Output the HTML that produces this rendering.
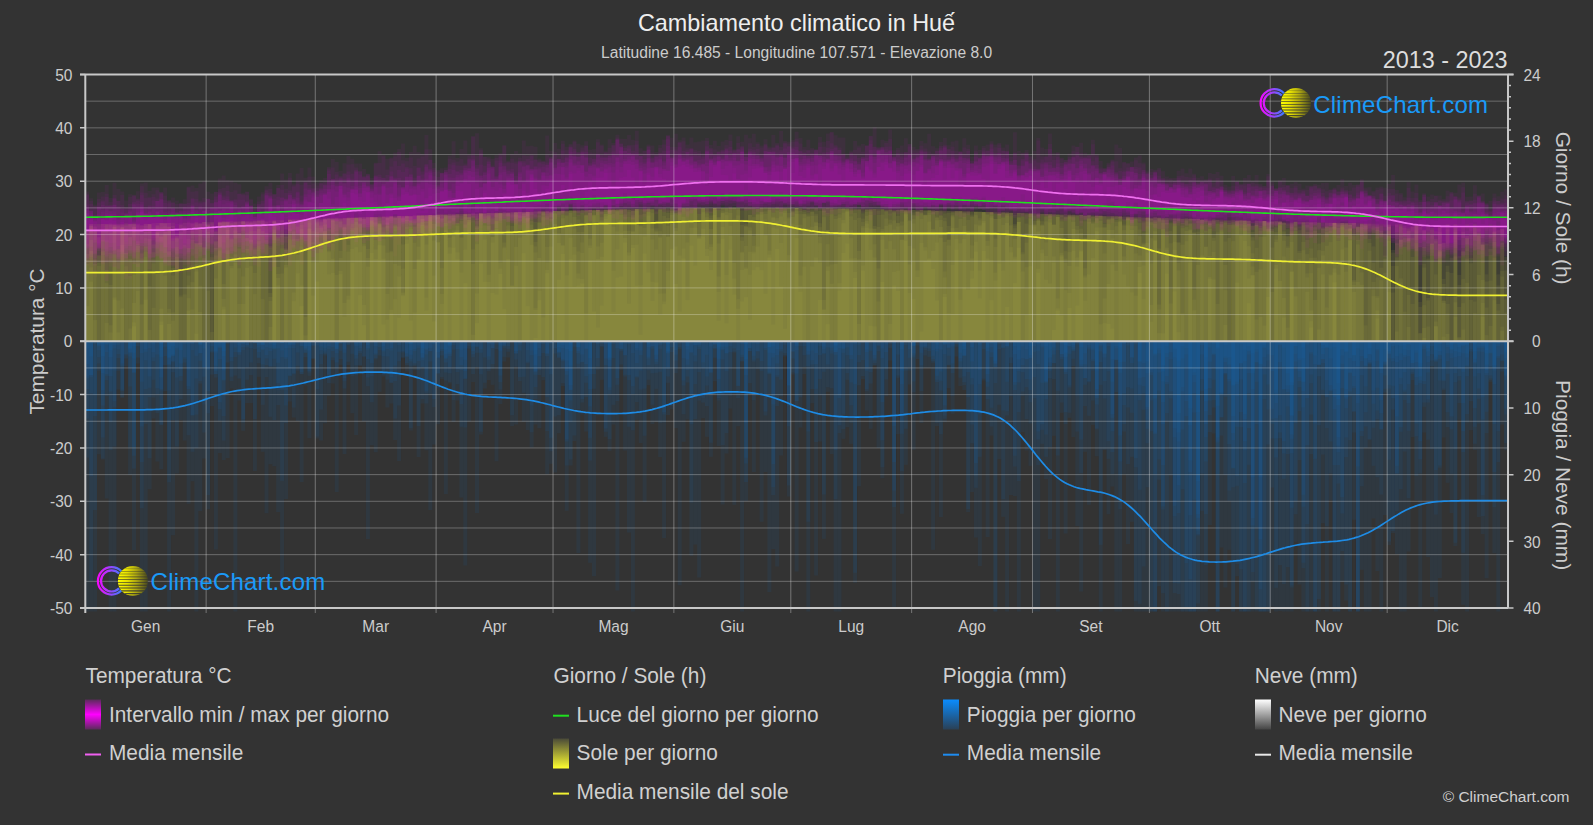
<!DOCTYPE html><html><head><meta charset="utf-8"><title>Cambiamento climatico in Huế</title><style>html,body{margin:0;padding:0;background:#333;}body{width:1593px;height:825px;overflow:hidden;font-family:"Liberation Sans",Arial,sans-serif}svg{display:block}text{font-family:"Liberation Sans",Arial,sans-serif}</style></head><body><svg width="1593" height="825" viewBox="0 0 1593 825"><rect width="1593" height="825" fill="#333"/><g fill="none" stroke-width="3.898"><path stroke="#ff00ff" stroke-opacity="0.05" d="M87.2 213.9V263.0M91.1 210.9V273.8M95.0 219.0V277.2M98.9 207.3V250.9M102.8 204.9V241.8M106.7 206.0V257.6M110.6 211.1V253.6M114.5 217.5V251.1M118.4 227.0V259.3M122.3 208.5V260.6M126.2 209.5V248.1M130.1 207.9V243.8M134.0 204.6V240.1M137.9 198.8V243.0M141.8 186.3V246.1M145.7 198.2V244.5M149.6 196.8V249.1M153.5 216.1V236.1M157.4 214.9V241.6M161.3 217.0V241.8M165.2 217.3V246.9M169.1 201.6V254.2M173.0 202.9V252.6M176.9 203.9V254.0M180.8 204.1V258.5M184.7 206.7V247.3M188.6 207.9V231.7M192.5 212.1V237.8M196.4 213.1V243.9M200.3 212.5V251.7M204.2 209.7V261.6M208.1 223.7V249.2M212.0 212.7V243.1M215.9 207.9V251.2M219.8 201.1V247.8M223.7 211.9V253.6M227.6 215.6V237.7M231.5 200.8V240.3M235.4 207.8V238.8M239.3 199.8V227.6M243.2 206.8V254.2M247.1 215.2V245.8M251.0 221.9V242.7M254.9 217.1V245.7M258.8 213.3V244.5M262.7 218.6V233.8M266.5 195.5V244.0M270.4 197.4V248.8M274.3 207.1V231.7M278.2 188.3V228.7M282.1 185.1V231.3M286.0 199.0V229.8M289.9 208.5V234.5M293.8 204.4V239.5M297.7 192.4V240.4M301.6 208.2V236.7M305.5 188.5V240.6M309.4 194.5V250.8M313.3 183.5V244.1M317.2 188.3V236.9M321.1 183.0V236.0M325.0 177.9V228.9M328.9 167.0V227.9M332.8 185.0V221.9M336.7 162.1V225.0M340.6 189.0V228.4M344.5 182.8V224.3M348.4 174.8V219.9M352.3 178.8V227.2M356.2 169.8V233.8M360.1 196.9V221.0M364.0 190.5V228.1M367.9 173.9V225.0M371.8 178.1V229.6M375.7 194.4V226.8M379.6 186.4V216.9M383.5 181.9V209.8M387.4 194.6V227.8M391.3 171.4V237.7M395.2 183.4V256.2M399.1 195.5V236.9M403.0 186.9V220.3M406.9 192.1V221.1M410.8 188.6V225.2M414.7 181.2V219.1M418.6 185.4V228.1M422.5 174.5V221.2M426.4 172.5V212.8M430.3 159.7V209.1M434.2 180.4V210.6M438.1 177.1V218.9M441.9 172.9V221.5M445.8 170.1V226.2M449.7 197.3V210.6M453.6 198.0V206.6M457.5 181.3V212.6M461.4 169.9V215.3M465.3 170.5V214.7M469.2 168.8V219.6M473.1 155.5V214.9M477.0 167.5V212.6M480.9 178.3V211.8M484.8 156.9V213.6M488.7 156.6V229.6M492.6 165.6V223.9M496.5 176.6V228.1M500.4 154.5V231.8M504.3 165.7V210.5M508.2 177.5V215.9M512.1 158.8V216.7M516.0 181.5V217.6M519.9 177.2V221.1M523.8 165.8V208.5M527.7 170.5V221.8M531.6 175.2V215.0M535.5 166.3V217.3M539.4 180.3V207.9M543.3 175.6V205.3M547.2 162.5V207.9M551.1 175.7V217.2M555.0 154.8V209.5M558.9 161.4V204.5M562.8 162.9V203.4M566.7 167.6V207.3M570.6 158.6V204.5M574.5 164.8V209.7M578.4 160.5V207.2M582.3 147.6V205.3M586.2 141.2V207.0M590.1 166.1V211.3M594.0 149.3V209.8M597.9 159.5V212.0M601.8 156.6V214.5M605.7 157.0V205.4M609.6 155.5V206.4M613.5 163.5V208.5M617.4 155.6V209.5M621.2 147.4V205.7M625.1 159.1V207.2M629.0 159.3V209.7M632.9 151.1V206.5M636.8 144.4V205.4M640.7 148.3V209.5M644.6 150.8V212.2M648.5 149.9V203.0M652.4 157.4V205.2M656.3 154.3V199.9M660.2 158.6V199.7M664.1 161.3V202.4M668.0 181.7V204.4M671.9 186.2V197.5M675.8 167.6V203.3M679.7 154.7V205.0M683.6 150.9V207.4M687.5 152.1V205.9M691.4 156.4V208.1M695.3 150.3V205.0M699.2 156.2V208.6M703.1 155.4V203.6M707.0 141.1V201.8M710.9 160.4V201.4M714.8 162.7V204.1M718.7 160.6V198.6M722.6 174.8V193.1M726.5 175.3V198.2M730.4 155.0V203.1M734.3 149.9V200.4M738.2 153.3V202.2M742.1 141.8V201.8M746.0 157.0V199.8M749.9 138.2V206.1M753.8 146.9V201.7M757.7 156.2V206.0M761.6 145.5V209.0M765.5 145.3V207.4M769.4 148.3V199.9M773.3 152.7V203.9M777.2 170.5V202.0M781.1 181.9V206.2M785.0 168.8V202.7M788.9 153.6V202.2M792.8 162.1V199.0M796.6 158.4V201.1M800.5 171.7V202.8M804.4 177.8V210.6M808.3 167.8V206.6M812.2 156.1V203.0M816.1 149.8V203.3M820.0 142.6V203.6M823.9 157.2V202.4M827.8 158.8V200.8M831.7 151.0V206.4M835.6 163.5V206.2M839.5 163.3V204.3M843.4 160.4V204.0M847.3 159.2V208.2M851.2 150.4V214.1M855.1 150.1V208.7M859.0 157.9V204.5M862.9 178.9V198.9M866.8 161.1V200.7M870.7 150.3V206.3M874.6 149.4V204.4M878.5 150.3V205.4M882.4 150.0V208.0M886.3 142.9V212.1M890.2 155.0V215.6M894.1 157.1V213.2M898.0 166.6V211.1M901.9 164.3V208.3M905.8 168.7V207.0M909.7 170.9V205.7M913.6 182.6V198.9M917.5 171.3V202.7M921.4 155.6V199.5M925.3 184.4V205.7M929.2 159.8V208.6M933.1 159.5V209.3M937.0 165.2V214.4M940.9 159.2V204.3M944.8 161.2V204.4M948.7 160.6V202.8M952.6 146.8V198.3M956.5 151.2V200.7M960.4 151.7V197.6M964.3 157.7V210.6M968.2 159.9V203.9M972.1 167.7V204.1M975.9 164.5V207.3M979.8 168.9V202.9M983.7 153.7V204.7M987.6 158.6V208.2M991.5 152.4V214.7M995.4 144.4V204.2M999.3 143.0V215.4M1003.2 158.0V211.0M1007.1 144.4V203.2M1011.0 170.2V202.9M1014.9 153.3V207.8M1018.8 181.0V209.0M1022.7 180.5V211.2M1026.6 173.1V209.0M1030.5 175.5V209.4M1034.4 189.8V214.7M1038.3 191.7V218.4M1042.2 177.1V209.4M1046.1 188.0V215.3M1050.0 172.3V217.9M1053.9 160.1V204.1M1057.8 152.3V211.2M1061.7 158.6V217.0M1065.6 164.6V218.5M1069.5 170.9V211.5M1073.4 145.5V214.8M1077.3 146.9V213.8M1081.2 152.9V223.2M1085.1 158.6V220.3M1089.0 154.7V215.8M1092.9 180.1V213.6M1096.8 167.7V205.9M1100.7 174.6V206.6M1104.6 193.7V222.7M1108.5 172.8V225.1M1112.4 179.3V223.0M1116.3 172.1V219.2M1120.2 179.2V215.9M1124.1 180.1V211.5M1128.0 163.8V220.8M1131.9 167.2V228.5M1135.8 169.0V217.6M1139.7 186.2V221.4M1143.6 175.6V230.7M1147.5 183.0V228.4M1151.4 178.8V224.9M1155.2 188.2V227.6M1159.1 183.4V229.0M1163.0 180.3V217.8M1166.9 192.9V224.3M1170.8 187.5V219.7M1174.7 193.0V218.0M1178.6 182.4V220.6M1182.5 183.0V206.0M1186.4 185.5V220.6M1190.3 168.6V204.7M1194.2 173.8V217.8M1198.1 183.8V220.3M1202.0 181.3V218.2M1205.9 183.6V212.3M1209.8 178.4V211.8M1213.7 189.9V217.9M1217.6 178.0V220.9M1221.5 186.8V213.3M1225.4 190.5V207.4M1229.3 194.5V216.9M1233.2 194.0V211.2M1237.1 180.7V212.3M1241.0 184.4V214.9M1244.9 193.8V224.5M1248.8 193.2V230.5M1252.7 190.7V223.3M1256.6 185.4V239.6M1260.5 190.5V233.9M1264.4 190.2V225.6M1268.3 174.0V234.6M1272.2 184.2V218.7M1276.1 188.1V210.7M1280.0 198.0V224.0M1283.9 190.3V224.8M1287.8 195.0V225.4M1291.7 183.8V228.6M1295.6 182.1V229.9M1299.5 183.7V224.4M1303.4 192.4V214.1M1307.3 195.8V219.2M1311.2 197.8V221.6M1315.1 196.0V222.7M1319.0 197.8V228.6M1322.9 199.8V223.1M1326.8 197.1V227.6M1330.6 196.5V233.2M1334.5 198.3V225.4M1338.4 191.6V238.0M1342.3 187.5V235.6M1346.2 195.2V233.9M1350.1 182.8V231.5M1354.0 187.4V240.0M1357.9 184.6V240.7M1361.8 179.3V236.1M1365.7 197.4V229.1M1369.6 194.8V231.0M1373.5 191.0V233.1M1377.4 187.4V239.3M1381.3 188.5V237.0M1385.2 187.8V256.9M1389.1 205.0V242.5M1393.0 210.4V233.2M1396.9 202.6V236.5M1400.8 217.8V246.0M1404.7 215.0V233.3M1408.6 211.1V243.1M1412.5 205.2V232.3M1416.4 198.3V240.0M1420.3 199.9V248.2M1424.2 209.0V248.0M1428.1 214.7V251.9M1432.0 207.1V249.8M1435.9 201.9V243.3M1439.8 201.0V246.3M1443.7 202.4V249.5M1447.6 203.3V247.5M1451.5 215.4V243.1M1455.4 210.9V244.2M1459.3 202.5V240.2M1463.2 213.0V237.9M1467.1 206.2V239.2M1471.0 200.7V236.3M1474.9 185.2V240.6M1478.8 196.1V233.5M1482.7 203.0V236.0M1486.6 213.9V233.7M1490.5 218.4V241.1M1494.4 224.8V254.8M1498.3 229.3V253.7M1502.2 212.2V249.1M1506.1 209.2V244.1"/><path stroke="#c4c446" stroke-opacity="0.082" d="M87.2 341.2V263.9M91.1 341.2V224.1M95.0 341.2V320.2M102.8 341.2V234.3M106.7 341.2V270.2M114.5 341.2V224.2M118.4 341.2V332.5M122.3 341.2V308.4M126.2 341.2V266.4M130.1 341.2V232.3M134.0 341.2V227.0M137.9 341.2V241.3M141.8 341.2V258.4M145.7 341.2V238.2M149.6 341.2V286.2M153.5 341.2V263.5M157.4 341.2V227.7M161.3 341.2V235.5M173.0 341.2V240.9M184.7 341.2V226.5M188.6 341.2V310.7M192.5 341.2V222.8M196.4 341.2V242.9M200.3 341.2V223.6M204.2 341.2V222.1M208.1 341.2V225.2M219.8 341.2V236.6M223.7 341.2V235.3M227.6 341.2V250.2M235.4 341.2V221.7M243.2 341.2V222.1M247.1 341.2V260.7M251.0 341.2V222.7M254.9 341.2V221.2M258.8 341.2V220.7M262.7 341.2V220.5M270.4 341.2V247.5M274.3 341.2V256.0M278.2 341.2V267.0M282.1 341.2V230.4M286.0 341.2V248.4M293.8 341.2V292.6M297.7 341.2V239.1M301.6 341.2V246.4M305.5 341.2V239.6M309.4 341.2V219.2M313.3 341.2V219.1M317.2 341.2V281.6M321.1 341.2V242.4M325.0 341.2V218.9M328.9 341.2V218.4M332.8 341.2V243.8M336.7 341.2V224.7M340.6 341.2V257.9M344.5 341.2V238.7M348.4 341.2V218.0M352.3 341.2V217.7M356.2 341.2V247.2M360.1 341.2V217.4M364.0 341.2V217.3M367.9 341.2V266.8M371.8 341.2V217.0M375.7 341.2V222.3M379.6 341.2V217.5M383.5 341.2V216.7M387.4 341.2V319.8M391.3 341.2V216.4M395.2 341.2V224.2M399.1 341.2V265.8M403.0 341.2V216.0M406.9 341.2V239.8M410.8 341.2V236.2M414.7 341.2V221.5M418.6 341.2V259.3M422.5 341.2V215.3M426.4 341.2V216.2M430.3 341.2V220.2M434.2 341.2V215.1M441.9 341.2V214.6M445.8 341.2V223.0M449.7 341.2V214.5M453.6 341.2V230.5M457.5 341.2V214.1M465.3 341.2V283.2M473.1 341.2V213.6M477.0 341.2V293.4M480.9 341.2V213.3M484.8 341.2V213.2M488.7 341.2V214.9M492.6 341.2V237.3M496.5 341.2V294.8M500.4 341.2V213.2M504.3 341.2V309.2M508.2 341.2V225.5M512.1 341.2V232.3M516.0 341.2V212.2M519.9 341.2V237.7M523.8 341.2V212.0M527.7 341.2V212.0M535.5 341.2V214.4M539.4 341.2V211.6M543.3 341.2V229.7M547.2 341.2V215.7M551.1 341.2V211.5M558.9 341.2V210.9M562.8 341.2V210.8M566.7 341.2V210.7M570.6 341.2V210.6M574.5 341.2V210.5M578.4 341.2V215.3M582.3 341.2V283.6M586.2 341.2V210.2M590.1 341.2V245.4M594.0 341.2V210.0M597.9 341.2V209.9M601.8 341.2V212.0M605.7 341.2V214.0M609.6 341.2V209.6M613.5 341.2V209.5M617.4 341.2V209.4M621.2 341.2V276.7M625.1 341.2V216.8M629.0 341.2V231.1M632.9 341.2V210.3M636.8 341.2V209.0M640.7 341.2V209.5M644.6 341.2V208.9M648.5 341.2V209.3M652.4 341.2V208.9M656.3 341.2V230.7M660.2 341.2V208.7M664.1 341.2V208.5M668.0 341.2V289.2M671.9 341.2V208.4M675.8 341.2V210.5M679.7 341.2V208.3M683.6 341.2V208.2M687.5 341.2V208.2M691.4 341.2V208.2M695.3 341.2V208.7M699.2 341.2V208.1M703.1 341.2V236.5M707.0 341.2V208.7M710.9 341.2V208.0M714.8 341.2V208.2M718.7 341.2V217.0M722.6 341.2V208.6M726.5 341.2V207.9M730.4 341.2V207.9M734.3 341.2V207.8M738.2 341.2V299.3M742.1 341.2V301.6M746.0 341.2V297.3M749.9 341.2V215.1M753.8 341.2V270.3M757.7 341.2V209.1M761.6 341.2V207.9M765.5 341.2V235.4M769.4 341.2V207.8M773.3 341.2V212.7M777.2 341.2V218.3M781.1 341.2V207.8M785.0 341.2V207.9M788.9 341.2V208.0M792.8 341.2V207.9M796.6 341.2V211.3M800.5 341.2V209.0M804.4 341.2V211.7M820.0 341.2V237.0M823.9 341.2V208.2M827.8 341.2V208.3M831.7 341.2V209.0M839.5 341.2V214.4M843.4 341.2V253.0M847.3 341.2V209.0M855.1 341.2V272.1M859.0 341.2V210.0M862.9 341.2V270.7M866.8 341.2V209.3M870.7 341.2V210.4M874.6 341.2V209.1M878.5 341.2V227.0M882.4 341.2V214.7M890.2 341.2V213.6M894.1 341.2V211.5M898.0 341.2V223.1M905.8 341.2V214.4M909.7 341.2V221.3M913.6 341.2V212.4M917.5 341.2V215.8M921.4 341.2V212.2M925.3 341.2V214.9M929.2 341.2V210.3M933.1 341.2V230.6M937.0 341.2V210.8M940.9 341.2V210.6M944.8 341.2V211.4M948.7 341.2V213.1M952.6 341.2V228.2M956.5 341.2V211.1M960.4 341.2V219.1M964.3 341.2V211.9M968.2 341.2V220.0M972.1 341.2V212.0M975.9 341.2V211.7M979.8 341.2V211.8M983.7 341.2V211.9M987.6 341.2V212.0M991.5 341.2V212.2M995.4 341.2V214.1M999.3 341.2V213.5M1007.1 341.2V230.3M1011.0 341.2V234.3M1014.9 341.2V232.5M1018.8 341.2V221.9M1022.7 341.2V213.1M1026.6 341.2V233.0M1030.5 341.2V234.2M1034.4 341.2V221.1M1038.3 341.2V220.7M1042.2 341.2V213.8M1046.1 341.2V221.6M1050.0 341.2V214.0M1053.9 341.2V330.1M1057.8 341.2V216.9M1061.7 341.2V214.8M1065.6 341.2V214.6M1069.5 341.2V252.2M1073.4 341.2V214.8M1077.3 341.2V233.6M1081.2 341.2V215.1M1085.1 341.2V277.4M1089.0 341.2V235.0M1092.9 341.2V215.7M1096.8 341.2V231.2M1104.6 341.2V216.2M1108.5 341.2V224.6M1112.4 341.2V219.1M1116.3 341.2V216.3M1124.1 341.2V219.0M1128.0 341.2V217.2M1131.9 341.2V217.4M1135.8 341.2V218.1M1139.7 341.2V261.0M1143.6 341.2V217.7M1147.5 341.2V221.5M1151.4 341.2V218.1M1155.2 341.2V222.3M1159.1 341.2V217.7M1166.9 341.2V247.7M1170.8 341.2V231.2M1174.7 341.2V218.6M1178.6 341.2V242.1M1182.5 341.2V223.1M1190.3 341.2V218.8M1194.2 341.2V299.8M1198.1 341.2V231.7M1205.9 341.2V219.9M1209.8 341.2V277.3M1213.7 341.2V220.1M1221.5 341.2V224.6M1225.4 341.2V221.2M1229.3 341.2V224.9M1233.2 341.2V241.3M1237.1 341.2V225.6M1241.0 341.2V221.0M1244.9 341.2V220.4M1248.8 341.2V221.6M1252.7 341.2V222.3M1256.6 341.2V225.1M1260.5 341.2V258.8M1264.4 341.2V325.7M1268.3 341.2V229.5M1272.2 341.2V229.1M1276.1 341.2V235.6M1280.0 341.2V222.7M1283.9 341.2V256.5M1291.7 341.2V272.1M1295.6 341.2V231.3M1299.5 341.2V262.3M1303.4 341.2V222.0M1307.3 341.2V277.6M1311.2 341.2V310.4M1315.1 341.2V224.4M1319.0 341.2V250.3M1322.9 341.2V227.4M1330.6 341.2V275.5M1334.5 341.2V268.5M1342.3 341.2V223.3M1346.2 341.2V271.7M1350.1 341.2V228.9M1361.8 341.2V224.2M1373.5 341.2V246.6M1377.4 341.2V318.4M1381.3 341.2V275.6M1389.1 341.2V292.3M1396.9 341.2V224.7M1404.7 341.2V238.6M1420.3 341.2V333.5M1424.2 341.2V305.2M1432.0 341.2V235.3M1435.9 341.2V274.4M1439.8 341.2V232.2M1463.2 341.2V279.2M1474.9 341.2V232.5M1478.8 341.2V233.8M1486.6 341.2V274.6M1494.4 341.2V242.1M1502.2 341.2V326.8M1506.1 341.2V312.7"/><path stroke="#ff00ff" stroke-opacity="0.05" d="M87.2 195.3V244.0M91.1 212.8V231.6M95.0 225.7V242.7M98.9 218.4V248.4M102.8 219.0V240.9M106.7 213.2V261.8M110.6 204.8V266.6M114.5 182.8V267.3M118.4 206.7V272.3M122.3 216.6V262.0M126.2 212.7V254.5M130.1 223.1V253.3M134.0 222.0V252.7M137.9 203.8V244.9M141.8 206.3V239.8M145.7 207.3V235.8M149.6 197.9V244.8M153.5 217.6V248.0M157.4 211.6V238.0M161.3 210.0V241.4M165.2 206.4V235.9M169.1 215.5V247.2M173.0 215.1V249.4M176.9 211.9V255.1M180.8 202.8V252.9M184.7 211.0V248.1M188.6 203.1V252.4M192.5 223.2V235.3M196.4 210.5V253.8M200.3 200.7V244.3M204.2 210.8V254.7M208.1 210.1V248.8M212.0 207.0V254.1M215.9 202.5V249.8M219.8 191.6V247.5M223.7 195.4V253.1M227.6 201.0V259.1M231.5 203.4V258.0M235.4 200.2V251.5M239.3 193.7V241.9M243.2 195.3V230.8M247.1 203.6V251.4M251.0 205.7V244.5M254.9 211.0V248.3M258.8 214.4V246.3M262.7 212.4V242.8M266.5 212.1V237.3M270.4 199.1V237.4M274.3 211.1V240.7M278.2 204.9V229.8M282.1 213.6V234.1M286.0 198.5V238.2M289.9 195.3V231.1M293.8 183.5V244.8M297.7 184.3V249.7M301.6 200.4V233.3M305.5 197.0V237.2M309.4 201.9V250.7M313.3 202.9V237.4M317.2 208.4V227.3M321.1 202.9V236.5M325.0 195.1V244.4M328.9 189.2V238.8M332.8 159.0V232.6M336.7 174.6V236.1M340.6 179.3V239.8M344.5 183.5V231.1M348.4 187.5V226.6M352.3 189.9V239.2M356.2 186.6V242.0M360.1 188.0V237.7M364.0 177.0V237.7M367.9 175.3V231.7M371.8 190.6V226.5M375.7 187.3V214.5M379.6 181.7V219.0M383.5 186.2V217.2M387.4 187.8V233.6M391.3 186.8V235.6M395.2 177.4V224.4M399.1 178.0V236.0M403.0 187.0V222.4M406.9 185.2V220.9M410.8 168.3V222.7M414.7 186.5V225.1M418.6 175.5V232.9M422.5 180.8V235.9M426.4 135.0V233.3M430.3 149.2V230.9M434.2 163.0V218.8M438.1 171.4V226.7M441.9 192.0V227.7M445.8 189.9V234.7M449.7 158.8V226.1M453.6 162.5V222.6M457.5 171.7V214.2M461.4 172.8V205.0M465.3 172.6V208.4M469.2 183.9V218.0M473.1 177.1V216.5M477.0 169.0V215.3M480.9 187.8V216.6M484.8 182.9V223.0M488.7 209.1V218.0M492.6 210.0V224.3M496.5 181.5V221.0M500.4 162.7V220.6M504.3 146.0V233.2M508.2 173.7V221.4M512.1 173.6V206.8M516.0 176.2V213.5M519.9 161.5V218.0M523.8 162.4V211.5M527.7 165.3V220.4M531.6 160.7V217.3M535.5 169.9V214.3M539.4 158.4V216.8M543.3 166.8V215.1M547.2 155.0V217.9M551.1 158.7V217.6M555.0 159.7V210.8M558.9 174.1V214.7M562.8 185.0V214.9M566.7 190.2V215.2M570.6 171.5V209.4M574.5 188.6V210.5M578.4 161.7V213.0M582.3 165.0V208.7M586.2 176.5V217.0M590.1 165.5V220.4M594.0 175.5V212.3M597.9 167.9V201.3M601.8 167.0V206.1M605.7 152.3V204.9M609.6 147.9V211.8M613.5 145.3V208.6M617.4 157.5V206.7M621.2 147.0V204.0M625.1 154.5V208.4M629.0 156.4V199.0M632.9 154.2V206.7M636.8 154.6V199.9M640.7 170.2V207.6M644.6 158.9V203.4M648.5 174.4V198.9M652.4 162.4V193.1M656.3 161.4V199.8M660.2 159.4V209.3M664.1 169.2V203.6M668.0 154.3V207.0M671.9 157.4V210.0M675.8 149.6V209.4M679.7 160.0V210.1M683.6 164.9V204.0M687.5 160.0V203.1M691.4 148.8V200.7M695.3 164.2V198.8M699.2 165.1V202.4M703.1 164.8V200.1M707.0 162.5V197.2M710.9 162.9V193.4M714.8 149.5V197.5M718.7 146.1V201.1M722.6 150.4V205.2M726.5 145.3V205.3M730.4 141.1V204.0M734.3 153.5V202.4M738.2 160.7V207.3M742.1 151.8V206.4M746.0 134.8V205.3M749.9 165.8V206.1M753.8 166.0V206.7M757.7 153.8V203.6M761.6 161.7V206.8M765.5 151.0V203.4M769.4 151.4V207.1M773.3 164.7V204.6M777.2 164.5V208.0M781.1 157.1V201.8M785.0 164.7V200.4M788.9 155.5V197.7M792.8 153.4V204.0M796.6 157.9V209.0M800.5 154.2V211.5M804.4 158.9V209.1M808.3 156.3V203.4M812.2 165.8V201.9M816.1 149.4V201.3M820.0 156.0V207.7M823.9 146.7V202.9M827.8 133.5V201.7M831.7 131.9V205.6M835.6 145.2V214.6M839.5 150.3V213.0M843.4 154.6V209.8M847.3 153.6V202.3M851.2 163.2V203.3M855.1 176.6V204.8M859.0 164.6V199.7M862.9 161.0V197.3M866.8 146.1V200.3M870.7 136.2V200.9M874.6 159.3V199.0M878.5 166.9V205.0M882.4 155.8V204.0M886.3 146.7V206.5M890.2 151.4V209.6M894.1 154.4V206.1M898.0 172.7V202.2M901.9 145.4V197.6M905.8 158.1V199.2M909.7 153.4V198.7M913.6 153.0V203.1M917.5 163.7V210.0M921.4 153.7V210.4M925.3 143.3V207.0M929.2 151.5V208.8M933.1 153.9V200.9M937.0 150.6V199.4M940.9 146.1V203.6M944.8 144.8V199.0M948.7 159.7V200.5M952.6 167.6V197.7M956.5 168.1V202.7M960.4 187.3V201.9M964.3 184.8V205.0M968.2 173.7V205.7M972.1 172.3V202.1M975.9 173.1V197.6M979.8 158.4V201.7M983.7 155.9V203.1M987.6 150.5V208.1M991.5 156.6V208.2M995.4 162.0V205.8M999.3 168.8V211.0M1003.2 162.6V210.7M1007.1 177.8V213.2M1011.0 177.5V209.8M1014.9 164.7V205.5M1018.8 156.3V205.6M1022.7 160.5V208.1M1026.6 172.6V212.4M1030.5 163.8V217.2M1034.4 171.3V213.3M1038.3 170.0V205.4M1042.2 177.1V208.8M1046.1 156.3V209.9M1050.0 149.1V212.1M1053.9 166.4V216.2M1057.8 178.0V209.1M1061.7 174.2V207.0M1065.6 166.4V215.5M1069.5 157.1V218.8M1073.4 164.1V209.3M1077.3 178.1V214.2M1081.2 171.7V213.1M1085.1 168.7V216.8M1089.0 183.7V212.8M1092.9 179.5V215.7M1096.8 177.8V216.4M1100.7 183.0V219.1M1104.6 175.3V207.0M1108.5 164.4V197.9M1112.4 159.6V204.0M1116.3 173.8V205.2M1120.2 178.6V206.3M1124.1 170.6V209.6M1128.0 175.5V211.9M1131.9 178.6V214.5M1135.8 160.3V210.6M1139.7 189.3V218.6M1143.6 189.1V221.0M1147.5 190.9V214.8M1151.4 186.5V222.7M1155.2 172.7V211.2M1159.1 179.4V215.5M1163.0 184.1V215.4M1166.9 183.9V209.4M1170.8 187.2V213.9M1174.7 184.8V215.4M1178.6 170.7V220.2M1182.5 183.7V216.6M1186.4 187.4V213.8M1190.3 188.5V221.4M1194.2 201.1V216.5M1198.1 191.6V212.2M1202.0 190.8V213.0M1205.9 201.4V220.4M1209.8 197.0V214.5M1213.7 192.3V209.0M1217.6 196.1V217.0M1221.5 186.6V228.8M1225.4 191.6V228.2M1229.3 199.3V223.8M1233.2 190.1V214.3M1237.1 190.9V210.2M1241.0 189.9V211.2M1244.9 199.5V219.5M1248.8 203.1V215.7M1252.7 203.0V218.4M1256.6 198.2V225.9M1260.5 195.9V234.4M1264.4 186.2V222.3M1268.3 180.6V232.1M1272.2 186.1V220.0M1276.1 190.3V208.0M1280.0 181.2V215.6M1283.9 187.3V224.8M1287.8 185.1V228.4M1291.7 192.7V230.6M1295.6 194.4V225.3M1299.5 196.3V218.9M1303.4 199.7V226.6M1307.3 195.4V227.9M1311.2 200.1V230.6M1315.1 198.4V220.8M1319.0 194.6V217.0M1322.9 183.0V226.5M1326.8 200.3V227.9M1330.6 197.6V225.8M1334.5 192.9V237.0M1338.4 196.5V234.9M1342.3 191.2V229.8M1346.2 190.7V237.1M1350.1 190.8V230.8M1354.0 196.3V229.0M1357.9 198.0V232.3M1361.8 199.2V224.0M1365.7 204.7V233.2M1369.6 200.6V229.3M1373.5 206.6V232.5M1377.4 209.2V225.4M1381.3 213.9V235.4M1385.2 200.5V231.4M1389.1 205.0V229.8M1393.0 209.8V225.7M1396.9 201.1V220.6M1400.8 205.3V241.7M1404.7 202.4V242.1M1408.6 204.8V250.3M1412.5 202.3V239.1M1416.4 202.4V230.6M1420.3 219.8V239.5M1424.2 202.0V239.9M1428.1 196.5V231.8M1432.0 212.1V236.6M1435.9 202.5V241.7M1439.8 206.0V256.4M1443.7 205.3V256.3M1447.6 196.2V242.7M1451.5 193.8V255.5M1455.4 192.7V248.0M1459.3 184.5V244.8M1463.2 187.2V245.0M1467.1 201.3V238.7M1471.0 213.3V247.9M1474.9 203.6V235.4M1478.8 217.7V243.7M1482.7 214.6V236.3M1486.6 213.2V245.4M1490.5 215.0V243.1M1494.4 200.5V246.8M1498.3 201.0V232.5M1502.2 205.3V247.1M1506.1 199.1V251.2"/><path stroke="#c4c446" stroke-opacity="0.082" d="M87.2 341.2V306.2M91.1 341.2V267.5M95.0 341.2V270.7M98.9 341.2V237.3M106.7 341.2V240.4M110.6 341.2V285.1M114.5 341.2V266.8M118.4 341.2V224.8M122.3 341.2V227.6M130.1 341.2V259.1M134.0 341.2V224.4M137.9 341.2V243.8M141.8 341.2V253.6M145.7 341.2V271.1M153.5 341.2V223.2M157.4 341.2V225.4M161.3 341.2V227.4M165.2 341.2V275.7M169.1 341.2V223.0M173.0 341.2V275.5M176.9 341.2V236.5M188.6 341.2V239.1M192.5 341.2V282.3M196.4 341.2V333.7M200.3 341.2V285.7M208.1 341.2V225.1M212.0 341.2V257.2M219.8 341.2V222.7M223.7 341.2V221.8M227.6 341.2V228.1M231.5 341.2V265.9M235.4 341.2V224.8M239.3 341.2V222.0M243.2 341.2V276.5M247.1 341.2V285.7M251.0 341.2V266.2M254.9 341.2V294.3M262.7 341.2V235.2M270.4 341.2V327.1M274.3 341.2V221.4M278.2 341.2V222.4M282.1 341.2V235.4M286.0 341.2V267.4M289.9 341.2V219.7M293.8 341.2V231.6M297.7 341.2V222.4M301.6 341.2V220.5M305.5 341.2V335.4M309.4 341.2V219.1M313.3 341.2V295.4M317.2 341.2V232.2M321.1 341.2V242.2M325.0 341.2V218.6M328.9 341.2V218.4M332.8 341.2V258.7M340.6 341.2V240.2M344.5 341.2V227.3M348.4 341.2V244.7M352.3 341.2V249.0M360.1 341.2V218.5M364.0 341.2V219.1M367.9 341.2V218.1M371.8 341.2V217.8M375.7 341.2V217.6M379.6 341.2V224.2M383.5 341.2V220.3M387.4 341.2V216.5M391.3 341.2V309.8M395.2 341.2V216.6M399.1 341.2V317.8M403.0 341.2V217.0M406.9 341.2V215.8M410.8 341.2V216.1M414.7 341.2V215.6M418.6 341.2V215.4M422.5 341.2V218.7M426.4 341.2V215.6M430.3 341.2V216.4M434.2 341.2V215.7M438.1 341.2V214.7M441.9 341.2V218.1M445.8 341.2V214.8M449.7 341.2V215.9M453.6 341.2V247.7M457.5 341.2V223.0M461.4 341.2V214.2M465.3 341.2V213.8M469.2 341.2V213.8M473.1 341.2V264.0M477.0 341.2V220.7M480.9 341.2V213.4M484.8 341.2V213.2M488.7 341.2V213.5M492.6 341.2V213.5M496.5 341.2V220.6M500.4 341.2V213.7M504.3 341.2V248.3M508.2 341.2V213.0M512.1 341.2V214.5M516.0 341.2V212.2M523.8 341.2V212.0M527.7 341.2V218.3M531.6 341.2V230.8M535.5 341.2V242.0M539.4 341.2V222.9M543.3 341.2V211.7M547.2 341.2V270.1M551.1 341.2V234.3M555.0 341.2V211.0M558.9 341.2V210.9M562.8 341.2V254.0M566.7 341.2V210.7M570.6 341.2V211.3M574.5 341.2V210.5M578.4 341.2V232.3M582.3 341.2V242.6M590.1 341.2V260.7M594.0 341.2V210.4M597.9 341.2V212.1M601.8 341.2V256.7M605.7 341.2V210.3M609.6 341.2V209.6M613.5 341.2V210.5M617.4 341.2V209.6M621.2 341.2V209.4M625.1 341.2V230.8M629.0 341.2V217.0M632.9 341.2V245.0M636.8 341.2V211.0M640.7 341.2V226.6M644.6 341.2V209.3M648.5 341.2V212.3M652.4 341.2V209.1M656.3 341.2V232.3M660.2 341.2V209.4M664.1 341.2V208.5M668.0 341.2V208.9M671.9 341.2V212.8M675.8 341.2V210.4M679.7 341.2V208.4M683.6 341.2V258.4M687.5 341.2V208.2M691.4 341.2V209.8M695.3 341.2V208.1M699.2 341.2V236.5M703.1 341.2V208.0M707.0 341.2V217.3M710.9 341.2V250.4M714.8 341.2V207.9M718.7 341.2V207.9M722.6 341.2V207.9M726.5 341.2V207.9M730.4 341.2V213.1M734.3 341.2V207.8M738.2 341.2V208.3M742.1 341.2V237.2M746.0 341.2V269.1M749.9 341.2V215.1M753.8 341.2V207.8M757.7 341.2V214.9M761.6 341.2V270.2M765.5 341.2V208.6M769.4 341.2V208.1M773.3 341.2V208.5M777.2 341.2V208.3M781.1 341.2V212.0M785.0 341.2V210.9M788.9 341.2V208.0M792.8 341.2V208.1M796.6 341.2V208.2M800.5 341.2V291.8M804.4 341.2V218.3M808.3 341.2V208.1M812.2 341.2V216.1M816.1 341.2V215.7M820.0 341.2V243.2M823.9 341.2V309.9M827.8 341.2V270.7M831.7 341.2V283.8M835.6 341.2V216.2M839.5 341.2V208.6M843.4 341.2V208.7M847.3 341.2V211.3M851.2 341.2V238.2M855.1 341.2V209.6M859.0 341.2V251.0M862.9 341.2V227.8M866.8 341.2V211.7M870.7 341.2V215.0M874.6 341.2V257.4M882.4 341.2V209.3M886.3 341.2V209.5M890.2 341.2V241.2M894.1 341.2V209.7M898.0 341.2V226.4M901.9 341.2V209.6M905.8 341.2V209.7M909.7 341.2V209.8M913.6 341.2V261.7M917.5 341.2V210.3M921.4 341.2V242.9M925.3 341.2V210.3M929.2 341.2V259.5M933.1 341.2V269.1M937.0 341.2V235.1M940.9 341.2V215.8M944.8 341.2V213.5M948.7 341.2V211.6M952.6 341.2V264.9M956.5 341.2V227.8M960.4 341.2V211.2M964.3 341.2V239.0M968.2 341.2V231.0M972.1 341.2V217.1M975.9 341.2V211.7M979.8 341.2V211.8M983.7 341.2V222.7M987.6 341.2V240.9M991.5 341.2V212.4M995.4 341.2V238.6M999.3 341.2V212.4M1003.2 341.2V270.8M1007.1 341.2V212.8M1011.0 341.2V225.5M1014.9 341.2V283.2M1018.8 341.2V213.0M1022.7 341.2V216.4M1026.6 341.2V213.3M1030.5 341.2V213.4M1034.4 341.2V213.5M1038.3 341.2V268.8M1042.2 341.2V221.2M1046.1 341.2V256.0M1050.0 341.2V222.4M1053.9 341.2V224.6M1057.8 341.2V217.1M1061.7 341.2V252.7M1065.6 341.2V262.7M1069.5 341.2V214.7M1073.4 341.2V250.7M1077.3 341.2V266.6M1081.2 341.2V250.6M1085.1 341.2V237.7M1089.0 341.2V215.3M1092.9 341.2V217.2M1096.8 341.2V215.6M1100.7 341.2V215.8M1104.6 341.2V226.9M1108.5 341.2V216.0M1112.4 341.2V216.1M1116.3 341.2V270.8M1120.2 341.2V222.2M1124.1 341.2V219.8M1128.0 341.2V225.5M1131.9 341.2V217.0M1135.8 341.2V216.9M1139.7 341.2V217.6M1143.6 341.2V243.9M1147.5 341.2V217.4M1151.4 341.2V219.1M1155.2 341.2V217.6M1159.1 341.2V333.3M1163.0 341.2V218.5M1166.9 341.2V235.6M1170.8 341.2V218.1M1174.7 341.2V226.3M1178.6 341.2V218.4M1182.5 341.2V218.5M1190.3 341.2V218.8M1194.2 341.2V219.1M1202.0 341.2V219.9M1205.9 341.2V224.5M1213.7 341.2V251.9M1217.6 341.2V304.0M1221.5 341.2V229.4M1225.4 341.2V220.5M1233.2 341.2V224.2M1237.1 341.2V223.5M1244.9 341.2V220.8M1248.8 341.2V220.6M1252.7 341.2V232.0M1256.6 341.2V319.5M1264.4 341.2V221.2M1268.3 341.2V222.3M1272.2 341.2V221.2M1276.1 341.2V265.1M1280.0 341.2V221.8M1283.9 341.2V222.7M1287.8 341.2V236.4M1291.7 341.2V233.0M1295.6 341.2V227.6M1299.5 341.2V222.0M1307.3 341.2V273.4M1311.2 341.2V222.5M1319.0 341.2V222.4M1322.9 341.2V227.4M1326.8 341.2V226.9M1330.6 341.2V227.5M1334.5 341.2V272.6M1338.4 341.2V223.5M1342.3 341.2V226.8M1346.2 341.2V224.8M1350.1 341.2V240.5M1354.0 341.2V284.9M1357.9 341.2V223.2M1361.8 341.2V284.7M1365.7 341.2V223.7M1369.6 341.2V239.1M1373.5 341.2V289.6M1377.4 341.2V223.7M1381.3 341.2V280.2M1389.1 341.2V226.8M1396.9 341.2V223.8M1408.6 341.2V231.1M1416.4 341.2V243.1M1424.2 341.2V247.0M1435.9 341.2V241.3M1439.8 341.2V244.1M1443.7 341.2V279.1M1447.6 341.2V229.6M1455.4 341.2V224.5M1459.3 341.2V285.0M1463.2 341.2V231.8M1467.1 341.2V258.7M1478.8 341.2V228.2M1482.7 341.2V242.2M1494.4 341.2V340.2M1502.2 341.2V243.1"/><path stroke="#ff00ff" stroke-opacity="0.05" d="M87.2 193.8V239.6M91.1 201.1V254.8M95.0 206.6V254.3M98.9 218.0V249.1M102.8 215.2V270.0M106.7 208.5V254.4M110.6 197.9V247.0M114.5 194.9V242.6M118.4 189.1V234.8M122.3 195.1V252.0M126.2 207.5V244.0M130.1 210.5V229.0M134.0 196.2V259.1M137.9 201.0V258.5M141.8 192.4V249.3M145.7 213.5V256.5M149.6 214.7V269.3M153.5 217.9V257.9M157.4 210.5V253.3M161.3 215.7V258.5M165.2 222.8V252.9M169.1 215.6V244.5M173.0 230.9V239.5M176.9 224.0V241.7M180.8 211.6V256.4M184.7 218.9V255.9M188.6 212.9V271.9M192.5 216.9V269.6M196.4 214.1V258.0M200.3 207.3V248.9M204.2 201.7V248.8M208.1 198.9V248.5M212.0 208.0V264.3M215.9 191.8V266.4M219.8 194.3V266.2M223.7 204.3V261.3M227.6 190.9V258.8M231.5 200.1V234.3M235.4 182.8V231.7M239.3 184.3V247.2M243.2 193.9V252.0M247.1 202.1V253.3M251.0 209.5V254.2M254.9 212.7V254.1M258.8 209.4V266.6M262.7 192.3V246.1M266.5 194.7V239.8M270.4 198.2V236.9M274.3 195.0V239.7M278.2 200.3V238.0M282.1 211.9V243.7M286.0 219.8V259.5M289.9 194.7V249.9M293.8 198.6V245.5M297.7 180.9V253.8M301.6 168.1V264.8M305.5 177.8V242.6M309.4 176.8V248.3M313.3 188.0V244.2M317.2 190.7V245.4M321.1 189.2V227.0M325.0 188.9V242.0M328.9 170.6V229.4M332.8 179.7V250.2M336.7 172.0V233.9M340.6 177.2V236.2M344.5 173.3V250.4M348.4 156.1V239.8M352.3 189.4V235.4M356.2 172.0V244.6M360.1 185.7V234.4M364.0 182.1V232.1M367.9 187.1V227.1M371.8 191.2V238.6M375.7 204.4V239.4M379.6 227.7V241.4M383.5 178.2V234.3M387.4 169.5V235.4M391.3 179.2V239.4M395.2 204.4V223.8M399.1 184.8V229.9M403.0 163.4V220.8M406.9 167.0V218.1M410.8 195.6V227.7M414.7 194.6V240.2M418.6 183.9V231.5M422.5 182.5V223.5M426.4 166.7V215.8M430.3 184.3V217.1M434.2 188.7V217.1M438.1 213.2V223.9M441.9 180.5V227.5M445.8 170.0V203.1M449.7 177.6V204.4M453.6 197.6V220.6M457.5 175.1V217.9M461.4 191.2V215.5M465.3 197.4V228.1M469.2 208.2V224.8M473.1 207.4V217.9M477.0 201.2V207.6M480.9 199.8V205.1M484.8 172.8V212.2M488.7 163.9V216.7M492.6 167.1V219.8M496.5 176.3V217.1M500.4 174.7V211.9M504.3 189.0V220.6M508.2 175.6V219.7M512.1 184.6V221.6M516.0 183.9V223.6M519.9 173.4V222.8M523.8 182.3V208.4M527.7 192.4V201.7M531.6 169.0V199.8M535.5 189.0V216.5M539.4 193.3V213.3M543.3 193.7V199.8M547.2 188.4V203.8M551.1 178.8V211.6M555.0 207.7V213.0M558.9 191.6V210.6M562.8 162.6V212.2M566.7 150.3V209.4M570.6 147.4V206.7M574.5 156.0V208.3M578.4 156.9V208.2M582.3 165.2V212.9M586.2 180.8V210.3M590.1 167.4V205.3M594.0 153.2V205.7M597.9 154.1V207.1M601.8 157.9V213.8M605.7 150.6V205.0M609.6 152.5V211.3M613.5 145.2V205.8M617.4 157.4V207.9M621.2 177.5V203.5M625.1 164.1V200.2M629.0 153.3V204.8M632.9 164.9V219.6M636.8 160.2V222.3M640.7 152.9V218.7M644.6 184.1V216.5M648.5 147.1V209.9M652.4 145.5V198.9M656.3 154.4V199.3M660.2 168.2V202.9M664.1 179.1V198.2M668.0 135.6V202.4M671.9 150.0V199.9M675.8 146.9V200.6M679.7 158.5V210.3M683.6 160.8V203.2M687.5 152.3V196.4M691.4 163.3V201.4M695.3 160.4V199.4M699.2 160.0V199.3M703.1 153.2V202.3M707.0 146.3V204.1M710.9 152.5V199.7M714.8 140.7V203.8M718.7 152.5V205.3M722.6 157.5V200.9M726.5 155.5V198.4M730.4 157.8V194.8M734.3 149.2V201.0M738.2 178.9V206.9M742.1 183.7V200.8M746.0 189.9V207.6M749.9 159.4V206.8M753.8 149.7V205.7M757.7 159.1V198.0M761.6 153.7V200.5M765.5 171.3V206.4M769.4 166.4V205.1M773.3 147.3V199.4M777.2 145.7V208.4M781.1 130.9V211.1M785.0 148.4V203.8M788.9 141.7V203.7M792.8 148.3V207.9M796.6 149.7V207.1M800.5 151.1V205.8M804.4 147.0V209.8M808.3 139.8V209.7M812.2 148.1V202.1M816.1 149.4V202.7M820.0 154.6V200.0M823.9 153.5V203.0M827.8 163.3V206.5M831.7 151.2V205.0M835.6 148.0V208.8M839.5 149.9V206.0M843.4 154.1V207.1M847.3 162.3V207.6M851.2 169.1V207.8M855.1 174.0V210.4M859.0 173.4V203.1M862.9 157.1V210.1M866.8 153.5V207.2M870.7 169.2V211.3M874.6 172.7V205.3M878.5 152.8V206.5M882.4 139.7V205.6M886.3 140.9V204.1M890.2 129.6V203.8M894.1 150.3V204.3M898.0 150.1V203.9M901.9 160.1V203.8M905.8 138.2V206.7M909.7 144.0V207.6M913.6 147.1V207.9M917.5 149.1V209.8M921.4 160.0V210.2M925.3 159.6V203.4M929.2 180.3V210.3M933.1 173.3V202.2M937.0 175.1V206.4M940.9 159.2V204.2M944.8 146.0V205.4M948.7 149.5V206.7M952.6 163.4V204.6M956.5 171.0V199.4M960.4 157.5V203.5M964.3 160.3V205.2M968.2 161.6V208.0M972.1 169.9V199.8M975.9 161.7V198.9M979.8 158.0V198.7M983.7 150.6V202.7M987.6 163.3V211.9M991.5 161.2V207.7M995.4 173.3V214.1M999.3 164.1V213.1M1003.2 161.7V206.6M1007.1 164.3V209.4M1011.0 153.9V211.3M1014.9 169.4V218.1M1018.8 150.9V210.5M1022.7 152.8V208.0M1026.6 152.5V210.5M1030.5 155.5V208.5M1034.4 166.5V215.9M1038.3 171.1V216.9M1042.2 159.4V212.8M1046.1 163.0V207.9M1050.0 161.9V209.5M1053.9 167.9V215.7M1057.8 159.8V215.7M1061.7 157.8V208.5M1065.6 175.2V212.7M1069.5 153.4V211.0M1073.4 151.2V209.4M1077.3 152.2V213.1M1081.2 157.5V212.3M1085.1 163.7V220.4M1089.0 158.4V218.8M1092.9 139.7V215.2M1096.8 155.4V210.7M1100.7 172.7V205.3M1104.6 171.6V211.0M1108.5 170.2V209.5M1112.4 161.7V211.6M1116.3 177.7V215.9M1120.2 178.7V218.2M1124.1 178.5V216.1M1128.0 167.5V214.9M1131.9 161.6V218.2M1135.8 167.1V202.6M1139.7 163.3V208.9M1143.6 170.0V208.7M1147.5 174.0V213.7M1151.4 194.8V200.2M1155.2 194.8V220.6M1159.1 196.8V221.0M1163.0 187.0V218.4M1166.9 185.4V211.5M1170.8 192.8V215.3M1174.7 189.3V222.8M1178.6 188.9V211.8M1182.5 185.7V211.6M1186.4 190.3V217.0M1190.3 193.7V219.7M1194.2 183.5V221.1M1198.1 187.7V219.4M1202.0 181.9V229.8M1205.9 190.8V224.0M1209.8 191.2V225.5M1213.7 192.1V219.8M1217.6 196.5V217.9M1221.5 188.5V225.2M1225.4 197.0V214.5M1229.3 191.8V212.8M1233.2 203.6V222.0M1237.1 192.5V227.6M1241.0 191.0V228.3M1244.9 183.7V222.6M1248.8 174.9V214.2M1252.7 187.0V223.4M1256.6 189.0V227.4M1260.5 198.1V221.7M1264.4 197.8V222.5M1268.3 194.7V223.1M1272.2 193.5V224.0M1276.1 188.5V226.0M1280.0 187.9V214.1M1283.9 184.9V213.1M1287.8 193.6V221.0M1291.7 193.1V215.1M1295.6 200.1V208.1M1299.5 198.4V213.7M1303.4 213.2V218.5M1307.3 204.7V224.8M1311.2 199.6V224.5M1315.1 200.2V223.8M1319.0 200.2V216.5M1322.9 208.1V227.4M1326.8 205.7V237.3M1330.6 204.2V235.1M1334.5 198.6V228.4M1338.4 194.4V240.6M1342.3 197.8V235.1M1346.2 197.8V236.5M1350.1 194.9V239.6M1354.0 201.3V233.1M1357.9 192.8V223.4M1361.8 182.2V235.8M1365.7 187.6V231.8M1369.6 196.1V233.0M1373.5 196.1V228.4M1377.4 190.1V231.2M1381.3 186.5V237.8M1385.2 202.9V230.8M1389.1 200.0V231.1M1393.0 206.3V242.8M1396.9 207.8V256.8M1400.8 203.7V254.6M1404.7 199.9V246.9M1408.6 204.2V238.9M1412.5 210.9V245.8M1416.4 209.5V248.2M1420.3 215.3V261.1M1424.2 197.0V256.9M1428.1 213.4V250.3M1432.0 204.9V252.8M1435.9 204.5V250.1M1439.8 205.2V256.1M1443.7 213.7V258.5M1447.6 213.7V250.0M1451.5 212.5V260.9M1455.4 213.5V253.4M1459.3 211.7V240.0M1463.2 208.0V247.8M1467.1 210.6V251.1M1471.0 204.9V255.5M1474.9 199.8V261.6M1478.8 207.2V258.8M1482.7 200.9V263.0M1486.6 203.1V256.6M1490.5 209.0V256.0M1494.4 203.9V260.6M1498.3 196.3V253.2M1502.2 203.8V241.6M1506.1 219.3V237.5"/><path stroke="#c4c446" stroke-opacity="0.082" d="M87.2 341.2V229.5M98.9 341.2V255.5M102.8 341.2V223.9M110.6 341.2V223.8M118.4 341.2V230.8M126.2 341.2V225.2M130.1 341.2V275.9M134.0 341.2V227.3M137.9 341.2V225.3M149.6 341.2V223.9M161.3 341.2V235.2M165.2 341.2V224.1M169.1 341.2V312.7M173.0 341.2V320.8M176.9 341.2V257.0M180.8 341.2V223.4M184.7 341.2V227.7M188.6 341.2V234.3M196.4 341.2V243.3M204.2 341.2V222.3M212.0 341.2V332.0M219.8 341.2V221.7M227.6 341.2V221.5M231.5 341.2V221.4M235.4 341.2V225.3M239.3 341.2V303.9M243.2 341.2V221.6M247.1 341.2V221.4M251.0 341.2V225.1M258.8 341.2V225.1M266.5 341.2V220.7M274.3 341.2V220.2M278.2 341.2V220.0M282.1 341.2V248.5M286.0 341.2V222.1M289.9 341.2V228.6M293.8 341.2V221.4M297.7 341.2V273.3M301.6 341.2V219.6M305.5 341.2V219.3M309.4 341.2V228.7M313.3 341.2V218.9M317.2 341.2V227.7M321.1 341.2V220.5M332.8 341.2V220.5M336.7 341.2V233.5M352.3 341.2V223.7M356.2 341.2V218.1M360.1 341.2V217.5M364.0 341.2V244.2M371.8 341.2V217.0M375.7 341.2V249.5M379.6 341.2V216.7M383.5 341.2V238.8M387.4 341.2V225.8M391.3 341.2V250.8M399.1 341.2V218.1M403.0 341.2V244.4M406.9 341.2V216.1M410.8 341.2V223.0M414.7 341.2V312.5M418.6 341.2V215.4M422.5 341.2V215.7M426.4 341.2V310.6M430.3 341.2V216.7M434.2 341.2V240.5M438.1 341.2V216.7M445.8 341.2V217.3M449.7 341.2V247.2M453.6 341.2V214.3M457.5 341.2V259.2M461.4 341.2V237.8M465.3 341.2V216.7M469.2 341.2V213.7M473.1 341.2V213.6M477.0 341.2V214.1M480.9 341.2V213.3M484.8 341.2V239.5M488.7 341.2V225.9M492.6 341.2V219.1M496.5 341.2V212.8M500.4 341.2V212.7M504.3 341.2V213.9M508.2 341.2V213.8M512.1 341.2V233.0M516.0 341.2V265.8M519.9 341.2V212.1M523.8 341.2V211.9M527.7 341.2V211.8M531.6 341.2V224.7M535.5 341.2V337.9M539.4 341.2V215.5M543.3 341.2V217.2M547.2 341.2V211.3M551.1 341.2V212.6M555.0 341.2V211.0M558.9 341.2V228.9M562.8 341.2V210.8M566.7 341.2V210.7M570.6 341.2V210.7M574.5 341.2V246.9M578.4 341.2V210.4M582.3 341.2V252.9M586.2 341.2V210.2M590.1 341.2V213.0M594.0 341.2V222.7M597.9 341.2V209.9M601.8 341.2V242.8M605.7 341.2V219.1M609.6 341.2V209.8M613.5 341.2V209.6M617.4 341.2V209.4M621.2 341.2V209.3M625.1 341.2V224.0M629.0 341.2V255.5M632.9 341.2V210.7M636.8 341.2V285.8M640.7 341.2V334.7M644.6 341.2V227.7M648.5 341.2V208.8M652.4 341.2V208.7M656.3 341.2V223.6M660.2 341.2V293.6M664.1 341.2V293.5M668.0 341.2V210.5M671.9 341.2V208.4M675.8 341.2V213.1M679.7 341.2V208.3M683.6 341.2V216.8M687.5 341.2V211.3M691.4 341.2V208.2M695.3 341.2V208.1M699.2 341.2V208.4M703.1 341.2V208.0M707.0 341.2V208.0M710.9 341.2V218.3M714.8 341.2V207.9M718.7 341.2V207.9M722.6 341.2V208.2M726.5 341.2V207.9M730.4 341.2V207.8M734.3 341.2V278.6M738.2 341.2V208.6M742.1 341.2V270.0M746.0 341.2V207.8M749.9 341.2V274.7M753.8 341.2V217.3M757.7 341.2V207.8M761.6 341.2V207.9M765.5 341.2V207.8M769.4 341.2V207.8M773.3 341.2V208.1M777.2 341.2V207.8M781.1 341.2V207.9M785.0 341.2V212.7M788.9 341.2V218.4M792.8 341.2V211.5M796.6 341.2V207.9M800.5 341.2V214.3M804.4 341.2V208.7M808.3 341.2V208.2M812.2 341.2V208.1M816.1 341.2V222.7M820.0 341.2V223.3M827.8 341.2V266.4M831.7 341.2V208.3M835.6 341.2V218.9M839.5 341.2V208.4M843.4 341.2V208.5M847.3 341.2V243.4M851.2 341.2V208.6M855.1 341.2V208.9M859.0 341.2V259.2M862.9 341.2V213.4M866.8 341.2V208.9M870.7 341.2V209.0M874.6 341.2V209.0M882.4 341.2V239.6M890.2 341.2V225.1M894.1 341.2V249.2M898.0 341.2V260.2M901.9 341.2V209.6M905.8 341.2V213.6M909.7 341.2V210.7M913.6 341.2V209.9M917.5 341.2V210.4M921.4 341.2V210.1M925.3 341.2V210.3M929.2 341.2V212.8M933.1 341.2V250.9M937.0 341.2V217.7M944.8 341.2V210.7M948.7 341.2V210.9M952.6 341.2V211.0M956.5 341.2V239.1M960.4 341.2V243.3M964.3 341.2V211.3M968.2 341.2V233.9M972.1 341.2V211.5M975.9 341.2V211.7M979.8 341.2V218.2M983.7 341.2V211.9M991.5 341.2V212.1M995.4 341.2V212.3M999.3 341.2V213.8M1003.2 341.2V212.5M1007.1 341.2V212.6M1011.0 341.2V212.7M1014.9 341.2V224.0M1018.8 341.2V213.0M1022.7 341.2V252.2M1030.5 341.2V213.4M1034.4 341.2V214.4M1038.3 341.2V231.5M1042.2 341.2V214.2M1053.9 341.2V214.2M1057.8 341.2V214.3M1061.7 341.2V315.5M1069.5 341.2V216.5M1073.4 341.2V222.0M1077.3 341.2V305.5M1081.2 341.2V215.1M1085.1 341.2V300.7M1089.0 341.2V221.9M1096.8 341.2V216.3M1104.6 341.2V298.4M1108.5 341.2V219.7M1112.4 341.2V217.0M1116.3 341.2V233.4M1120.2 341.2V216.4M1124.1 341.2V274.5M1128.0 341.2V286.2M1131.9 341.2V220.0M1135.8 341.2V219.4M1139.7 341.2V266.9M1143.6 341.2V232.7M1147.5 341.2V217.8M1151.4 341.2V217.8M1155.2 341.2V239.7M1159.1 341.2V218.0M1163.0 341.2V217.9M1166.9 341.2V219.9M1174.7 341.2V218.3M1178.6 341.2V218.4M1186.4 341.2V220.7M1190.3 341.2V229.5M1194.2 341.2V310.3M1198.1 341.2V219.0M1202.0 341.2V225.4M1205.9 341.2V246.8M1209.8 341.2V220.4M1213.7 341.2V240.8M1217.6 341.2V220.2M1221.5 341.2V222.0M1225.4 341.2V221.6M1237.1 341.2V220.4M1244.9 341.2V220.4M1248.8 341.2V224.1M1252.7 341.2V275.1M1256.6 341.2V247.8M1260.5 341.2V269.4M1264.4 341.2V221.0M1268.3 341.2V221.1M1276.1 341.2V221.3M1280.0 341.2V221.5M1287.8 341.2V236.0M1291.7 341.2V222.7M1295.6 341.2V296.3M1303.4 341.2V225.5M1307.3 341.2V240.0M1311.2 341.2V257.7M1319.0 341.2V267.7M1322.9 341.2V242.2M1326.8 341.2V245.8M1330.6 341.2V230.8M1334.5 341.2V222.9M1338.4 341.2V222.9M1342.3 341.2V223.1M1346.2 341.2V223.4M1350.1 341.2V225.0M1354.0 341.2V281.7M1377.4 341.2V227.5M1389.1 341.2V260.8M1396.9 341.2V331.6M1404.7 341.2V225.7M1412.5 341.2V257.0M1416.4 341.2V224.2M1424.2 341.2V229.8M1428.1 341.2V300.5M1439.8 341.2V226.4M1447.6 341.2V303.9M1451.5 341.2V287.6M1455.4 341.2V228.2M1463.2 341.2V329.4M1467.1 341.2V282.8M1471.0 341.2V234.7M1482.7 341.2V302.9M1486.6 341.2V307.4M1494.4 341.2V300.3M1498.3 341.2V310.5M1502.2 341.2V228.8"/><path stroke="#ff00ff" stroke-opacity="0.05" d="M87.2 210.6V260.3M91.1 219.1V246.3M95.0 216.4V240.0M98.9 207.1V243.1M102.8 201.7V241.2M106.7 193.8V248.8M110.6 214.8V250.2M114.5 198.5V250.7M118.4 200.7V268.4M122.3 191.6V253.8M126.2 200.5V246.1M130.1 194.3V256.2M134.0 202.1V258.1M137.9 215.0V252.2M141.8 209.5V245.8M145.7 213.9V248.4M149.6 212.0V253.5M153.5 206.1V248.8M157.4 201.0V248.9M161.3 199.4V258.0M165.2 195.8V257.0M169.1 216.0V256.8M173.0 202.2V248.2M176.9 212.7V259.8M180.8 209.8V261.4M184.7 212.6V258.7M188.6 220.5V253.7M192.5 206.1V232.0M196.4 215.7V241.6M200.3 216.3V236.3M204.2 198.0V235.6M208.1 222.6V230.9M212.0 229.7V235.0M215.9 208.6V230.9M219.8 210.6V246.3M223.7 200.2V248.8M227.6 202.4V234.9M231.5 207.8V222.5M235.4 199.2V223.3M239.3 208.2V214.5M243.2 211.2V224.0M247.1 205.1V241.0M251.0 214.8V241.8M254.9 222.8V240.6M258.8 229.0V234.8M262.7 207.0V232.4M266.5 186.2V245.2M270.4 182.8V234.8M274.3 198.7V243.5M278.2 205.3V240.9M282.1 213.2V236.4M286.0 207.0V233.5M289.9 193.1V233.2M293.8 196.9V241.1M297.7 197.8V241.4M301.6 231.8V237.2M305.5 211.1V238.8M309.4 216.5V246.8M313.3 208.4V260.9M317.2 196.9V247.5M321.1 193.2V247.4M325.0 183.5V240.1M328.9 168.6V244.0M332.8 206.4V240.9M336.7 216.7V238.4M340.6 182.2V227.2M344.5 178.9V234.9M348.4 192.1V240.8M352.3 192.8V234.0M356.2 189.6V225.3M360.1 174.6V233.6M364.0 184.5V227.3M367.9 185.4V227.7M371.8 202.8V224.3M375.7 175.5V239.7M379.6 174.8V233.2M383.5 186.2V232.4M387.4 203.1V228.6M391.3 194.4V233.0M395.2 178.4V231.1M399.1 152.0V244.7M403.0 143.6V235.9M406.9 168.6V221.5M410.8 181.3V222.4M414.7 194.5V223.4M418.6 182.4V221.8M422.5 191.5V213.3M426.4 178.8V223.1M430.3 175.3V232.8M434.2 172.0V234.7M438.1 187.3V232.4M441.9 168.2V225.9M445.8 175.1V217.6M449.7 190.6V223.2M453.6 183.6V227.4M457.5 177.3V217.3M461.4 175.3V211.1M465.3 163.5V219.1M469.2 154.3V213.7M473.1 136.6V216.5M477.0 156.3V219.7M480.9 150.3V219.1M484.8 193.1V223.0M488.7 160.6V230.0M492.6 167.2V231.7M496.5 154.9V228.6M500.4 166.8V220.8M504.3 163.3V216.2M508.2 160.5V211.2M512.1 173.7V218.3M516.0 179.7V217.2M519.9 210.0V224.7M523.8 184.1V225.6M527.7 179.3V214.3M531.6 177.4V215.0M535.5 159.4V203.9M539.4 160.3V204.8M543.3 161.7V211.3M547.2 186.1V215.4M551.1 174.7V224.3M555.0 173.7V210.5M558.9 158.8V205.2M562.8 167.3V189.2M566.7 178.9V188.8M570.6 173.7V197.1M574.5 149.0V207.7M578.4 165.1V216.1M582.3 150.4V213.5M586.2 158.1V210.4M590.1 181.1V215.5M594.0 165.0V207.8M597.9 139.2V202.7M601.8 145.8V209.2M605.7 164.6V209.0M609.6 165.3V214.2M613.5 172.4V205.6M617.4 137.6V210.1M621.2 143.8V213.4M625.1 176.7V218.8M629.0 160.5V217.2M632.9 156.2V219.5M636.8 169.0V208.0M640.7 171.1V204.1M644.6 166.5V210.5M648.5 146.1V212.0M652.4 158.4V209.1M656.3 166.6V206.7M660.2 153.5V210.5M664.1 162.6V201.9M668.0 170.9V200.6M671.9 165.9V194.1M675.8 153.9V210.7M679.7 154.4V213.7M683.6 159.4V205.8M687.5 144.4V203.8M691.4 137.4V204.7M695.3 162.1V208.4M699.2 170.1V203.8M703.1 171.8V205.4M707.0 165.9V199.0M710.9 159.3V196.7M714.8 158.3V196.3M718.7 156.3V206.4M722.6 151.8V203.4M726.5 165.7V196.5M730.4 181.0V192.8M734.3 165.5V193.1M738.2 149.0V193.7M742.1 150.5V201.0M746.0 157.0V196.5M749.9 151.1V192.7M753.8 156.5V196.2M757.7 168.3V197.7M761.6 165.7V200.9M765.5 153.8V201.4M769.4 152.0V203.5M773.3 147.9V201.7M777.2 156.8V203.4M781.1 151.6V209.3M785.0 141.0V209.0M788.9 152.1V205.1M792.8 159.3V204.0M796.6 147.0V198.9M800.5 151.4V198.3M804.4 165.4V196.9M808.3 165.5V201.2M812.2 149.6V199.3M816.1 150.5V205.0M820.0 137.1V207.7M823.9 141.8V203.3M827.8 147.7V203.6M831.7 143.2V207.6M835.6 156.5V203.1M839.5 147.5V199.0M843.4 153.8V199.5M847.3 158.4V197.8M851.2 154.7V198.3M855.1 160.9V198.6M859.0 170.1V205.2M862.9 172.5V212.4M866.8 160.7V210.4M870.7 156.8V220.2M874.6 156.8V215.1M878.5 151.0V214.6M882.4 163.0V209.9M886.3 164.5V210.6M890.2 146.5V208.3M894.1 161.3V210.5M898.0 148.1V209.3M901.9 155.8V202.2M905.8 152.4V208.0M909.7 153.4V213.6M913.6 158.4V204.7M917.5 157.6V202.7M921.4 149.4V204.7M925.3 160.5V207.1M929.2 168.5V205.6M933.1 155.8V207.4M937.0 161.0V203.4M940.9 161.6V206.1M944.8 162.0V208.7M948.7 164.4V205.6M952.6 178.3V209.1M956.5 169.6V205.8M960.4 168.6V210.6M964.3 176.3V210.7M968.2 172.9V208.0M972.1 163.8V210.0M975.9 145.6V204.7M979.8 157.4V206.1M983.7 146.1V205.7M987.6 157.0V213.7M991.5 154.1V208.2M995.4 159.4V207.4M999.3 153.0V214.9M1003.2 155.6V210.2M1007.1 162.0V207.7M1011.0 176.1V210.6M1014.9 160.1V213.7M1018.8 175.3V216.7M1022.7 175.1V212.7M1026.6 153.4V210.8M1030.5 157.0V211.0M1034.4 160.6V201.9M1038.3 162.4V206.0M1042.2 162.5V207.4M1046.1 168.2V215.9M1050.0 165.1V212.0M1053.9 168.3V207.4M1057.8 171.8V213.3M1061.7 166.2V202.8M1065.6 162.1V209.7M1069.5 162.8V210.0M1073.4 157.7V212.5M1077.3 146.8V213.9M1081.2 142.7V226.1M1085.1 155.6V215.0M1089.0 173.1V223.6M1092.9 161.3V212.0M1096.8 165.0V217.2M1100.7 160.9V217.1M1104.6 169.3V202.9M1108.5 162.7V212.2M1112.4 177.3V213.4M1116.3 173.3V219.1M1120.2 185.0V217.0M1124.1 161.9V213.2M1128.0 170.5V205.7M1131.9 190.6V222.9M1135.8 173.0V219.2M1139.7 167.6V214.1M1143.6 162.6V210.1M1147.5 180.2V217.1M1151.4 177.9V216.3M1155.2 170.6V206.4M1159.1 178.5V209.7M1163.0 178.8V201.8M1166.9 183.6V216.7M1170.8 186.9V221.7M1174.7 177.9V220.0M1178.6 187.6V225.5M1182.5 187.4V218.5M1186.4 184.2V225.5M1190.3 186.0V220.4M1194.2 182.2V228.9M1198.1 197.4V229.3M1202.0 186.2V222.9M1205.9 194.6V217.7M1209.8 193.1V224.5M1213.7 193.1V231.2M1217.6 188.3V222.1M1221.5 189.8V227.0M1225.4 192.1V221.1M1229.3 186.6V212.7M1233.2 175.9V212.5M1237.1 186.4V225.6M1241.0 192.1V215.5M1244.9 194.6V211.3M1248.8 199.7V219.8M1252.7 202.5V223.2M1256.6 199.6V213.6M1260.5 191.3V215.8M1264.4 194.6V216.4M1268.3 198.3V212.7M1272.2 196.1V214.5M1276.1 199.3V204.6M1280.0 180.3V203.6M1283.9 177.9V212.8M1287.8 185.8V217.8M1291.7 200.0V223.1M1295.6 200.6V216.1M1299.5 203.0V228.2M1303.4 204.1V220.9M1307.3 212.4V226.9M1311.2 206.8V238.0M1315.1 204.5V225.3M1319.0 203.9V222.6M1322.9 207.2V222.2M1326.8 199.2V225.9M1330.6 202.4V226.0M1334.5 212.4V230.1M1338.4 210.2V219.3M1342.3 198.3V213.8M1346.2 190.0V220.5M1350.1 200.0V223.7M1354.0 199.4V223.8M1357.9 194.8V219.9M1361.8 190.5V222.9M1365.7 197.1V229.6M1369.6 196.0V231.9M1373.5 200.3V230.0M1377.4 211.9V232.6M1381.3 200.2V236.4M1385.2 201.1V226.9M1389.1 198.6V228.7M1393.0 202.0V226.3M1396.9 208.7V239.5M1400.8 209.7V233.3M1404.7 204.5V236.9M1408.6 213.9V241.4M1412.5 198.0V247.4M1416.4 184.5V250.4M1420.3 212.1V250.8M1424.2 201.9V246.4M1428.1 207.2V245.9M1432.0 201.9V228.5M1435.9 202.5V232.4M1439.8 205.7V236.4M1443.7 199.0V241.3M1447.6 201.8V249.6M1451.5 192.5V253.9M1455.4 196.8V246.3M1459.3 212.5V258.2M1463.2 210.6V237.9M1467.1 208.3V228.2M1471.0 211.6V248.8M1474.9 218.2V236.6M1478.8 197.0V231.4M1482.7 202.1V228.6M1486.6 204.3V230.9M1490.5 217.7V224.0M1494.4 207.5V241.1M1498.3 207.7V246.7M1502.2 198.4V240.6M1506.1 189.2V242.1"/><path stroke="#c4c446" stroke-opacity="0.082" d="M95.0 341.2V259.6M106.7 341.2V225.2M110.6 341.2V332.6M114.5 341.2V225.2M122.3 341.2V244.9M126.2 341.2V228.6M130.1 341.2V328.6M134.0 341.2V223.5M137.9 341.2V263.4M141.8 341.2V225.9M145.7 341.2V256.7M153.5 341.2V307.7M157.4 341.2V232.2M161.3 341.2V223.2M165.2 341.2V226.5M169.1 341.2V324.0M173.0 341.2V225.9M176.9 341.2V232.4M188.6 341.2V230.6M192.5 341.2V265.5M196.4 341.2V243.9M204.2 341.2V247.3M208.1 341.2V231.8M212.0 341.2V222.5M215.9 341.2V241.0M219.8 341.2V221.7M223.7 341.2V221.6M231.5 341.2V223.9M235.4 341.2V222.0M239.3 341.2V233.2M243.2 341.2V221.1M247.1 341.2V222.4M251.0 341.2V221.9M258.8 341.2V241.2M262.7 341.2V223.1M274.3 341.2V226.8M278.2 341.2V285.6M289.9 341.2V219.7M293.8 341.2V244.9M297.7 341.2V219.4M301.6 341.2V219.9M305.5 341.2V316.8M309.4 341.2V228.5M317.2 341.2V223.6M321.1 341.2V225.3M325.0 341.2V219.3M328.9 341.2V218.5M336.7 341.2V218.2M340.6 341.2V271.0M344.5 341.2V316.7M348.4 341.2V217.8M352.3 341.2V217.9M356.2 341.2V221.9M360.1 341.2V252.2M364.0 341.2V217.3M367.9 341.2V249.0M371.8 341.2V217.0M375.7 341.2V216.9M379.6 341.2V216.8M383.5 341.2V216.7M391.3 341.2V216.3M395.2 341.2V216.8M399.1 341.2V216.1M403.0 341.2V292.8M406.9 341.2V226.7M410.8 341.2V226.7M414.7 341.2V242.8M418.6 341.2V260.1M422.5 341.2V215.3M426.4 341.2V225.4M430.3 341.2V215.0M434.2 341.2V275.4M438.1 341.2V214.8M441.9 341.2V304.0M445.8 341.2V234.7M449.7 341.2V214.4M453.6 341.2V214.3M457.5 341.2V214.1M461.4 341.2V221.0M465.3 341.2V214.1M469.2 341.2V219.9M473.1 341.2V220.5M477.0 341.2V226.0M480.9 341.2V213.7M484.8 341.2V234.8M488.7 341.2V217.6M492.6 341.2V229.7M496.5 341.2V212.8M500.4 341.2V268.7M504.3 341.2V213.1M508.2 341.2V229.7M512.1 341.2V285.4M516.0 341.2V247.1M519.9 341.2V212.1M523.8 341.2V235.4M527.7 341.2V213.4M531.6 341.2V217.4M535.5 341.2V221.9M539.4 341.2V300.2M543.3 341.2V213.2M547.2 341.2V212.0M551.1 341.2V211.9M555.0 341.2V223.9M558.9 341.2V210.9M562.8 341.2V210.8M570.6 341.2V227.3M574.5 341.2V210.5M578.4 341.2V251.5M582.3 341.2V226.9M586.2 341.2V215.0M590.1 341.2V210.1M594.0 341.2V215.0M597.9 341.2V210.0M601.8 341.2V305.4M605.7 341.2V216.2M609.6 341.2V214.9M613.5 341.2V209.8M617.4 341.2V231.5M621.2 341.2V209.3M625.1 341.2V209.3M629.0 341.2V211.7M632.9 341.2V232.1M636.8 341.2V209.0M640.7 341.2V285.2M644.6 341.2V236.8M648.5 341.2V208.8M652.4 341.2V239.5M656.3 341.2V211.4M660.2 341.2V237.8M664.1 341.2V301.6M668.0 341.2V236.7M671.9 341.2V249.8M675.8 341.2V214.3M679.7 341.2V213.8M683.6 341.2V208.8M687.5 341.2V208.2M691.4 341.2V245.8M695.3 341.2V265.4M699.2 341.2V238.8M703.1 341.2V208.2M707.0 341.2V211.4M710.9 341.2V228.9M714.8 341.2V207.9M718.7 341.2V276.4M722.6 341.2V212.9M726.5 341.2V208.0M730.4 341.2V209.5M734.3 341.2V262.9M738.2 341.2V340.5M742.1 341.2V207.8M746.0 341.2V208.0M749.9 341.2V207.8M753.8 341.2V253.3M757.7 341.2V207.8M761.6 341.2V214.6M765.5 341.2V213.9M769.4 341.2V208.2M773.3 341.2V207.9M777.2 341.2V207.8M781.1 341.2V207.9M785.0 341.2V208.5M788.9 341.2V217.2M792.8 341.2V227.9M796.6 341.2V225.2M800.5 341.2V208.0M804.4 341.2V214.2M808.3 341.2V215.6M812.2 341.2V226.8M816.1 341.2V225.9M820.0 341.2V300.1M823.9 341.2V300.0M827.8 341.2V230.3M831.7 341.2V208.3M835.6 341.2V208.4M839.5 341.2V236.9M843.4 341.2V219.9M847.3 341.2V210.3M851.2 341.2V208.6M855.1 341.2V233.7M859.0 341.2V217.8M862.9 341.2V211.5M866.8 341.2V209.5M870.7 341.2V209.0M874.6 341.2V244.2M878.5 341.2V210.7M882.4 341.2V235.9M886.3 341.2V211.0M890.2 341.2V209.4M894.1 341.2V229.4M898.0 341.2V209.5M901.9 341.2V239.9M905.8 341.2V210.9M909.7 341.2V209.8M913.6 341.2V215.5M917.5 341.2V277.1M921.4 341.2V233.0M925.3 341.2V210.7M929.2 341.2V258.2M933.1 341.2V212.6M937.0 341.2V216.8M940.9 341.2V215.3M944.8 341.2V293.9M948.7 341.2V239.7M952.6 341.2V215.8M956.5 341.2V211.1M960.4 341.2V211.2M964.3 341.2V211.3M968.2 341.2V213.6M972.1 341.2V230.5M975.9 341.2V251.8M979.8 341.2V211.8M983.7 341.2V220.9M987.6 341.2V212.6M991.5 341.2V300.2M995.4 341.2V246.9M999.3 341.2V219.0M1003.2 341.2V212.5M1007.1 341.2V307.0M1011.0 341.2V212.7M1014.9 341.2V238.8M1018.8 341.2V213.0M1022.7 341.2V213.1M1026.6 341.2V214.6M1030.5 341.2V218.4M1034.4 341.2V213.5M1038.3 341.2V213.7M1042.2 341.2V213.9M1046.1 341.2V213.9M1050.0 341.2V214.0M1053.9 341.2V214.3M1057.8 341.2V310.8M1061.7 341.2V215.6M1065.6 341.2V217.5M1069.5 341.2V214.8M1073.4 341.2V216.1M1077.3 341.2V216.5M1081.2 341.2V232.9M1085.1 341.2V215.5M1089.0 341.2V215.3M1092.9 341.2V234.9M1096.8 341.2V217.9M1100.7 341.2V221.0M1104.6 341.2V228.1M1108.5 341.2V219.4M1112.4 341.2V328.8M1116.3 341.2V221.7M1120.2 341.2V216.4M1124.1 341.2V216.7M1128.0 341.2V216.7M1131.9 341.2V226.0M1135.8 341.2V253.6M1139.7 341.2V217.4M1147.5 341.2V217.3M1151.4 341.2V222.2M1155.2 341.2V217.6M1159.1 341.2V248.4M1163.0 341.2V233.7M1166.9 341.2V218.5M1170.8 341.2V243.2M1174.7 341.2V224.1M1178.6 341.2V287.3M1182.5 341.2V313.3M1186.4 341.2V219.8M1190.3 341.2V223.2M1194.2 341.2V232.6M1202.0 341.2V223.8M1209.8 341.2V278.8M1213.7 341.2V219.5M1217.6 341.2V222.4M1221.5 341.2V219.7M1225.4 341.2V290.3M1229.3 341.2V237.9M1237.1 341.2V220.8M1241.0 341.2V220.4M1244.9 341.2V224.9M1248.8 341.2V235.1M1252.7 341.2V275.5M1256.6 341.2V225.3M1260.5 341.2V226.2M1264.4 341.2V221.4M1268.3 341.2V288.0M1276.1 341.2V239.4M1283.9 341.2V223.3M1287.8 341.2V222.7M1291.7 341.2V287.5M1295.6 341.2V221.8M1303.4 341.2V250.3M1307.3 341.2V222.2M1311.2 341.2V327.6M1315.1 341.2V231.0M1322.9 341.2V274.4M1330.6 341.2V225.4M1334.5 341.2V223.0M1338.4 341.2V227.9M1342.3 341.2V225.3M1346.2 341.2V247.5M1354.0 341.2V292.0M1357.9 341.2V227.2M1361.8 341.2V227.2M1369.6 341.2V339.7M1373.5 341.2V281.9M1377.4 341.2V297.8M1389.1 341.2V223.7M1393.0 341.2V252.7M1408.6 341.2V229.2M1412.5 341.2V226.3M1420.3 341.2V307.0M1424.2 341.2V328.1M1428.1 341.2V298.1M1435.9 341.2V321.4M1443.7 341.2V243.3M1447.6 341.2V313.6M1455.4 341.2V317.0M1459.3 341.2V256.3M1463.2 341.2V252.0M1471.0 341.2V258.3M1474.9 341.2V227.4M1482.7 341.2V226.7M1486.6 341.2V243.8M1494.4 341.2V295.7"/><path stroke="#ff00ff" stroke-opacity="0.05" d="M87.2 207.4V246.3M91.1 198.3V235.5M95.0 204.6V253.0M98.9 202.6V250.3M102.8 196.4V247.8M106.7 220.4V242.3M110.6 218.7V246.9M114.5 220.7V254.7M118.4 215.2V252.2M122.3 222.1V264.4M126.2 225.9V279.1M130.1 214.6V278.3M134.0 194.8V251.6M137.9 211.9V244.5M141.8 195.3V232.3M145.7 192.8V237.7M149.6 191.0V256.9M153.5 187.4V262.5M157.4 200.9V254.3M161.3 193.9V259.8M165.2 213.7V263.4M169.1 217.2V266.3M173.0 208.9V264.9M176.9 200.6V273.8M180.8 215.6V258.4M184.7 227.7V260.2M188.6 212.8V244.2M192.5 206.2V232.7M196.4 199.0V241.3M200.3 202.2V236.0M204.2 215.0V232.6M208.1 198.7V238.3M212.0 193.5V244.1M215.9 196.4V234.6M219.8 178.6V234.8M223.7 187.9V241.9M227.6 180.3V248.0M231.5 192.1V246.7M235.4 224.6V238.0M239.3 224.1V235.7M243.2 239.1V245.3M247.1 222.3V246.3M251.0 200.0V244.1M254.9 216.9V247.7M258.8 201.6V246.8M262.7 203.6V253.7M266.5 192.9V255.6M270.4 192.6V247.3M274.3 205.9V243.4M278.2 196.7V245.8M282.1 197.9V226.2M286.0 188.8V235.6M289.9 172.9V232.7M293.8 186.5V234.4M297.7 173.6V241.0M301.6 184.8V234.4M305.5 182.3V227.3M309.4 185.1V232.1M313.3 195.6V230.0M317.2 191.3V210.1M321.1 195.3V229.0M325.0 184.9V232.6M328.9 198.6V227.9M332.8 204.2V229.6M336.7 184.2V236.4M340.6 177.8V236.9M344.5 173.8V235.0M348.4 171.6V234.2M352.3 164.2V231.1M356.2 167.6V218.0M360.1 163.4V221.6M364.0 183.1V227.8M367.9 176.3V222.9M371.8 189.0V220.7M375.7 201.8V232.3M379.6 195.0V234.6M383.5 180.3V239.3M387.4 180.9V231.1M391.3 158.4V223.0M395.2 161.3V226.8M399.1 165.9V217.9M403.0 172.0V226.5M406.9 193.7V228.7M410.8 186.3V227.8M414.7 182.7V225.2M418.6 158.6V213.2M422.5 178.6V226.5M426.4 179.8V221.0M430.3 187.5V221.3M434.2 180.0V213.6M438.1 199.4V226.4M441.9 183.4V231.0M445.8 178.7V214.3M449.7 173.9V208.7M453.6 141.2V206.9M457.5 158.0V213.4M461.4 159.2V209.0M465.3 165.8V213.2M469.2 155.5V221.9M473.1 136.3V220.3M477.0 133.2V220.1M480.9 148.2V224.7M484.8 175.0V224.1M488.7 167.7V224.5M492.6 189.3V217.3M496.5 190.6V210.9M500.4 187.7V206.9M504.3 192.5V204.9M508.2 181.4V216.8M512.1 180.1V212.9M516.0 183.9V209.4M519.9 172.3V209.9M523.8 179.5V217.9M527.7 158.9V233.0M531.6 156.2V222.5M535.5 167.1V222.6M539.4 162.0V212.7M543.3 172.1V220.6M547.2 176.0V213.1M551.1 159.0V214.3M555.0 179.5V219.3M558.9 166.5V216.8M562.8 143.8V213.7M566.7 177.3V206.9M570.6 143.9V203.6M574.5 173.3V199.6M578.4 190.9V199.9M582.3 198.0V205.7M586.2 191.4V208.3M590.1 182.1V206.7M594.0 191.0V208.2M597.9 177.7V215.0M601.8 160.5V220.2M605.7 168.4V209.7M609.6 163.0V207.4M613.5 155.2V197.6M617.4 139.8V204.2M621.2 150.8V200.4M625.1 148.0V202.5M629.0 148.6V202.0M632.9 153.6V203.7M636.8 160.1V199.7M640.7 156.1V200.4M644.6 150.6V205.1M648.5 168.2V205.8M652.4 167.3V206.5M656.3 159.4V205.4M660.2 155.8V204.2M664.1 153.5V206.3M668.0 139.2V207.8M671.9 137.8V206.0M675.8 159.7V212.3M679.7 142.5V206.3M683.6 156.2V203.4M687.5 164.0V215.7M691.4 149.3V213.7M695.3 155.5V208.4M699.2 171.4V214.3M703.1 157.3V206.8M707.0 151.8V201.0M710.9 148.1V200.1M714.8 164.7V197.8M718.7 152.1V200.6M722.6 159.2V198.4M726.5 148.3V197.9M730.4 163.2V200.7M734.3 168.0V201.3M738.2 179.8V208.1M742.1 174.6V210.4M746.0 154.6V202.8M749.9 152.4V198.9M753.8 159.0V203.9M757.7 144.0V209.0M761.6 147.6V213.4M765.5 144.1V204.0M769.4 146.5V202.3M773.3 152.0V195.8M777.2 152.5V195.0M781.1 150.1V191.9M785.0 142.4V194.9M788.9 143.6V201.6M792.8 141.7V204.3M796.6 159.7V200.3M800.5 176.0V207.8M804.4 163.5V204.3M808.3 158.9V206.2M812.2 154.0V201.0M816.1 165.2V205.2M820.0 160.0V208.0M823.9 168.9V203.2M827.8 162.5V216.3M831.7 160.8V207.0M835.6 161.0V205.3M839.5 156.5V207.7M843.4 161.9V204.2M847.3 160.1V206.8M851.2 152.4V203.9M855.1 140.9V204.5M859.0 145.6V202.3M862.9 144.0V207.6M866.8 145.5V209.2M870.7 136.0V200.7M874.6 127.2V202.1M878.5 148.6V204.6M882.4 146.8V208.6M886.3 149.6V209.2M890.2 138.9V206.7M894.1 171.6V210.8M898.0 171.0V208.6M901.9 181.0V208.3M905.8 156.6V214.5M909.7 154.8V210.3M913.6 150.3V203.7M917.5 150.5V206.6M921.4 151.8V207.3M925.3 151.2V205.9M929.2 158.8V208.4M933.1 177.9V213.9M937.0 165.2V210.1M940.9 162.5V209.9M944.8 165.9V210.6M948.7 168.0V203.4M952.6 151.0V204.6M956.5 161.8V208.3M960.4 170.2V210.0M964.3 158.2V202.4M968.2 144.7V201.5M972.1 164.0V210.7M975.9 170.8V206.4M979.8 174.8V208.4M983.7 163.4V209.8M987.6 156.1V204.1M991.5 144.5V202.8M995.4 152.7V208.1M999.3 158.7V207.7M1003.2 165.3V205.1M1007.1 152.5V206.8M1011.0 162.6V205.7M1014.9 170.2V209.6M1018.8 168.6V203.8M1022.7 166.3V200.3M1026.6 161.5V207.3M1030.5 169.1V214.2M1034.4 150.9V213.9M1038.3 140.5V208.2M1042.2 164.3V208.3M1046.1 164.6V209.6M1050.0 175.8V209.3M1053.9 174.8V216.7M1057.8 183.5V214.1M1061.7 179.1V213.1M1065.6 171.8V215.1M1069.5 169.2V209.6M1073.4 182.2V213.6M1077.3 195.1V215.5M1081.2 200.1V210.3M1085.1 173.7V208.1M1089.0 173.8V209.5M1092.9 171.5V209.6M1096.8 157.5V208.9M1100.7 173.7V208.8M1104.6 168.6V215.0M1108.5 176.4V209.7M1112.4 172.5V201.4M1116.3 189.7V205.1M1120.2 185.0V210.2M1124.1 180.1V205.9M1128.0 176.5V206.6M1131.9 188.6V213.9M1135.8 184.7V214.6M1139.7 174.0V217.6M1143.6 177.4V211.1M1147.5 172.2V220.3M1151.4 171.9V211.6M1155.2 175.6V217.8M1159.1 182.5V215.8M1163.0 183.1V219.1M1166.9 190.9V216.3M1170.8 184.1V210.6M1174.7 183.5V210.8M1178.6 177.8V221.8M1182.5 168.5V221.9M1186.4 173.2V219.6M1190.3 177.5V208.2M1194.2 182.0V216.7M1198.1 180.3V220.4M1202.0 176.2V224.5M1205.9 184.5V222.2M1209.8 194.8V216.8M1213.7 200.5V224.1M1217.6 188.9V213.3M1221.5 186.3V208.8M1225.4 184.7V209.4M1229.3 197.6V210.8M1233.2 197.2V202.5M1237.1 203.2V216.7M1241.0 203.8V221.8M1244.9 200.7V208.0M1248.8 200.0V221.9M1252.7 185.8V219.6M1256.6 196.5V221.6M1260.5 198.0V227.5M1264.4 199.7V230.8M1268.3 195.7V228.1M1272.2 189.9V223.8M1276.1 196.6V220.5M1280.0 205.4V218.3M1283.9 202.4V220.7M1287.8 195.9V222.3M1291.7 201.9V219.5M1295.6 192.4V226.2M1299.5 200.0V234.1M1303.4 201.5V224.2M1307.3 201.2V238.2M1311.2 186.5V228.1M1315.1 186.2V218.5M1319.0 188.6V230.1M1322.9 198.3V242.4M1326.8 203.9V239.6M1330.6 204.1V230.7M1334.5 190.1V234.7M1338.4 184.9V223.7M1342.3 189.6V220.8M1346.2 197.3V230.4M1350.1 208.0V223.7M1354.0 205.3V235.4M1357.9 198.0V235.1M1361.8 194.2V230.7M1365.7 193.6V221.3M1369.6 200.7V220.7M1373.5 196.6V215.9M1377.4 199.3V235.0M1381.3 193.8V211.5M1385.2 195.7V230.1M1389.1 193.2V231.5M1393.0 195.4V223.0M1396.9 202.7V227.2M1400.8 194.4V224.3M1404.7 207.1V242.5M1408.6 200.7V251.4M1412.5 206.2V250.8M1416.4 208.6V251.8M1420.3 204.9V247.0M1424.2 209.4V248.4M1428.1 215.7V256.2M1432.0 218.2V248.7M1435.9 221.1V258.6M1439.8 213.4V257.6M1443.7 207.2V248.8M1447.6 207.4V254.5M1451.5 219.2V250.0M1455.4 211.6V242.2M1459.3 201.3V231.3M1463.2 212.9V228.2M1467.1 216.7V229.3M1471.0 204.1V233.1M1474.9 206.5V249.8M1478.8 197.7V254.7M1482.7 204.6V257.4M1486.6 216.9V255.9M1490.5 211.9V251.8M1494.4 209.4V256.6M1498.3 205.5V254.6M1502.2 212.6V240.6M1506.1 213.1V246.7"/><path stroke="#c4c446" stroke-opacity="0.082" d="M87.2 341.2V253.9M91.1 341.2V225.6M98.9 341.2V255.4M102.8 341.2V251.5M110.6 341.2V252.7M114.5 341.2V226.7M118.4 341.2V300.4M122.3 341.2V225.3M126.2 341.2V223.6M134.0 341.2V262.2M137.9 341.2V224.0M141.8 341.2V228.7M145.7 341.2V223.7M149.6 341.2V223.9M153.5 341.2V227.6M157.4 341.2V233.0M161.3 341.2V237.1M165.2 341.2V235.6M173.0 341.2V268.0M176.9 341.2V235.8M184.7 341.2V270.9M188.6 341.2V275.6M192.5 341.2V239.9M196.4 341.2V224.6M200.3 341.2V223.5M204.2 341.2V247.6M215.9 341.2V262.2M223.7 341.2V306.8M231.5 341.2V268.3M235.4 341.2V223.0M239.3 341.2V248.4M247.1 341.2V232.4M251.0 341.2V231.3M254.9 341.2V222.2M262.7 341.2V220.6M266.5 341.2V222.1M270.4 341.2V296.9M274.3 341.2V234.6M286.0 341.2V249.6M293.8 341.2V220.4M297.7 341.2V240.8M301.6 341.2V225.1M305.5 341.2V219.6M309.4 341.2V219.6M313.3 341.2V219.3M317.2 341.2V218.8M321.1 341.2V219.8M325.0 341.2V218.6M328.9 341.2V242.5M332.8 341.2V218.5M336.7 341.2V218.2M340.6 341.2V221.7M344.5 341.2V225.2M348.4 341.2V299.6M352.3 341.2V217.7M356.2 341.2V227.7M360.1 341.2V217.5M364.0 341.2V325.2M371.8 341.2V217.0M375.7 341.2V240.0M379.6 341.2V245.2M383.5 341.2V324.4M387.4 341.2V217.8M391.3 341.2V313.8M395.2 341.2V264.1M399.1 341.2V276.6M403.0 341.2V216.1M406.9 341.2V215.8M410.8 341.2V216.0M418.6 341.2V215.5M422.5 341.2V221.9M426.4 341.2V216.0M430.3 341.2V215.0M434.2 341.2V214.9M438.1 341.2V214.7M441.9 341.2V293.9M445.8 341.2V214.5M453.6 341.2V235.2M457.5 341.2V215.2M461.4 341.2V215.7M465.3 341.2V214.4M469.2 341.2V218.0M473.1 341.2V214.2M477.0 341.2V230.9M480.9 341.2V263.7M484.8 341.2V213.4M488.7 341.2V281.9M492.6 341.2V217.6M496.5 341.2V214.3M500.4 341.2V212.7M504.3 341.2V289.9M508.2 341.2V212.7M512.1 341.2V212.5M516.0 341.2V212.5M523.8 341.2V212.9M527.7 341.2V211.9M531.6 341.2V211.7M535.5 341.2V310.1M539.4 341.2V211.6M543.3 341.2V211.4M547.2 341.2V211.3M555.0 341.2V213.3M558.9 341.2V210.9M562.8 341.2V210.8M566.7 341.2V215.0M570.6 341.2V210.6M574.5 341.2V210.7M578.4 341.2V285.8M582.3 341.2V232.1M586.2 341.2V210.2M590.1 341.2V210.1M594.0 341.2V216.3M597.9 341.2V209.9M601.8 341.2V217.3M605.7 341.2V209.7M609.6 341.2V211.1M613.5 341.2V226.7M617.4 341.2V211.5M621.2 341.2V220.5M625.1 341.2V214.5M629.0 341.2V209.6M632.9 341.2V217.5M636.8 341.2V209.2M640.7 341.2V208.9M644.6 341.2V209.6M648.5 341.2V208.8M652.4 341.2V209.2M656.3 341.2V220.2M660.2 341.2V209.8M664.1 341.2V208.5M668.0 341.2V225.7M671.9 341.2V209.9M675.8 341.2V208.3M679.7 341.2V209.6M683.6 341.2V208.2M687.5 341.2V242.4M691.4 341.2V208.1M695.3 341.2V208.1M699.2 341.2V214.1M703.1 341.2V208.0M707.0 341.2V256.0M710.9 341.2V208.3M714.8 341.2V214.9M718.7 341.2V243.6M722.6 341.2V226.9M726.5 341.2V215.2M730.4 341.2V207.9M734.3 341.2V208.0M738.2 341.2V207.8M742.1 341.2V251.8M746.0 341.2V246.0M749.9 341.2V207.8M753.8 341.2V207.8M757.7 341.2V209.3M761.6 341.2V211.7M765.5 341.2V235.1M769.4 341.2V254.8M773.3 341.2V208.2M777.2 341.2V207.8M781.1 341.2V208.9M785.0 341.2V207.9M788.9 341.2V207.9M792.8 341.2V217.0M796.6 341.2V207.9M800.5 341.2V224.7M804.4 341.2V228.6M808.3 341.2V213.3M812.2 341.2V234.3M816.1 341.2V221.8M820.0 341.2V208.2M823.9 341.2V309.2M827.8 341.2V324.2M831.7 341.2V208.3M835.6 341.2V263.9M839.5 341.2V209.0M843.4 341.2V208.6M847.3 341.2V211.8M851.2 341.2V208.8M855.1 341.2V208.7M859.0 341.2V209.0M862.9 341.2V218.6M870.7 341.2V209.6M874.6 341.2V228.4M878.5 341.2V209.1M882.4 341.2V229.1M886.3 341.2V248.7M890.2 341.2V209.4M894.1 341.2V211.6M898.0 341.2V290.9M901.9 341.2V225.4M905.8 341.2V212.0M909.7 341.2V210.5M913.6 341.2V248.6M917.5 341.2V270.4M921.4 341.2V210.1M925.3 341.2V250.4M929.2 341.2V210.6M933.1 341.2V210.4M937.0 341.2V242.7M940.9 341.2V210.6M944.8 341.2V271.4M948.7 341.2V313.2M952.6 341.2V217.2M956.5 341.2V212.6M960.4 341.2V211.2M964.3 341.2V287.4M968.2 341.2V288.2M972.1 341.2V278.6M975.9 341.2V211.7M979.8 341.2V270.5M983.7 341.2V251.0M987.6 341.2V214.2M991.5 341.2V217.8M995.4 341.2V272.8M999.3 341.2V214.1M1003.2 341.2V212.5M1007.1 341.2V215.8M1011.0 341.2V216.2M1014.9 341.2V258.6M1018.8 341.2V236.1M1022.7 341.2V261.7M1026.6 341.2V213.3M1030.5 341.2V225.3M1038.3 341.2V219.0M1046.1 341.2V214.0M1050.0 341.2V283.5M1053.9 341.2V256.5M1057.8 341.2V298.4M1061.7 341.2V256.6M1065.6 341.2V216.2M1069.5 341.2V266.1M1073.4 341.2V217.3M1077.3 341.2V226.1M1081.2 341.2V215.1M1085.1 341.2V221.2M1089.0 341.2V274.5M1092.9 341.2V224.1M1096.8 341.2V227.4M1100.7 341.2V324.3M1104.6 341.2V224.0M1108.5 341.2V324.1M1112.4 341.2V217.6M1120.2 341.2V220.4M1124.1 341.2V216.5M1128.0 341.2V216.7M1131.9 341.2V230.0M1135.8 341.2V226.2M1139.7 341.2V229.6M1143.6 341.2V220.8M1147.5 341.2V233.2M1151.4 341.2V263.4M1155.2 341.2V224.0M1159.1 341.2V309.5M1163.0 341.2V217.9M1166.9 341.2V273.8M1170.8 341.2V303.5M1174.7 341.2V218.5M1178.6 341.2V219.5M1182.5 341.2V225.7M1186.4 341.2V218.8M1190.3 341.2V230.4M1194.2 341.2V218.9M1202.0 341.2V219.8M1209.8 341.2V222.9M1213.7 341.2V237.8M1221.5 341.2V221.6M1225.4 341.2V264.9M1229.3 341.2V224.4M1233.2 341.2V222.6M1237.1 341.2V282.8M1241.0 341.2V228.0M1248.8 341.2V278.4M1256.6 341.2V220.9M1260.5 341.2V228.1M1264.4 341.2V236.7M1268.3 341.2V222.3M1272.2 341.2V247.6M1276.1 341.2V221.3M1280.0 341.2V225.4M1283.9 341.2V297.9M1291.7 341.2V271.2M1295.6 341.2V221.8M1299.5 341.2V226.4M1303.4 341.2V242.1M1307.3 341.2V232.0M1311.2 341.2V227.1M1315.1 341.2V227.2M1319.0 341.2V329.6M1322.9 341.2V229.0M1326.8 341.2V222.6M1330.6 341.2V227.0M1334.5 341.2V222.8M1342.3 341.2V249.4M1350.1 341.2V240.2M1354.0 341.2V280.3M1357.9 341.2V227.1M1361.8 341.2V224.4M1369.6 341.2V223.7M1373.5 341.2V262.8M1377.4 341.2V226.7M1381.3 341.2V267.7M1385.2 341.2V224.4M1389.1 341.2V225.6M1396.9 341.2V260.7M1400.8 341.2V278.6M1404.7 341.2V233.1M1408.6 341.2V327.0M1424.2 341.2V263.7M1435.9 341.2V261.5M1443.7 341.2V284.1M1451.5 341.2V243.5M1455.4 341.2V229.7M1459.3 341.2V338.3M1463.2 341.2V250.8M1467.1 341.2V224.2M1474.9 341.2V301.5M1482.7 341.2V244.3M1490.5 341.2V325.9M1494.4 341.2V257.7M1498.3 341.2V304.1"/><path stroke="#ff00ff" stroke-opacity="0.05" d="M87.2 220.4V247.9M91.1 215.6V259.2M95.0 215.0V254.3M98.9 192.5V255.9M102.8 192.1V254.9M106.7 185.0V255.9M110.6 202.0V262.7M114.5 198.3V266.9M118.4 201.0V257.4M122.3 205.3V260.3M126.2 214.1V241.8M130.1 209.2V246.0M134.0 225.9V237.3M137.9 208.5V248.3M141.8 183.6V243.3M145.7 182.6V252.3M149.6 213.9V259.7M153.5 209.3V257.5M157.4 215.3V256.1M161.3 217.1V232.3M165.2 214.8V252.7M169.1 200.8V257.3M173.0 197.6V248.2M176.9 209.9V250.8M180.8 203.4V249.4M184.7 203.7V243.4M188.6 186.5V247.7M192.5 209.6V254.4M196.4 208.8V262.9M200.3 215.8V256.3M204.2 210.7V247.7M208.1 226.5V246.0M212.0 224.1V237.0M215.9 215.1V245.4M219.8 215.0V243.6M223.7 217.6V251.8M227.6 211.5V264.7M231.5 212.6V250.4M235.4 216.6V251.8M239.3 211.9V243.3M243.2 206.9V249.3M247.1 201.3V260.0M251.0 218.6V260.0M254.9 214.3V254.9M258.8 196.6V255.5M262.7 213.3V252.4M266.5 206.2V243.9M270.4 208.6V244.2M274.3 194.0V240.2M278.2 185.0V243.1M282.1 189.8V248.7M286.0 199.7V253.6M289.9 215.5V265.5M293.8 212.4V248.6M297.7 213.7V235.6M301.6 204.7V245.4M305.5 183.1V249.5M309.4 167.5V250.2M313.3 176.5V240.6M317.2 182.6V237.3M321.1 188.2V237.7M325.0 185.5V236.0M328.9 189.6V247.0M332.8 167.6V240.4M336.7 186.6V237.3M340.6 185.3V230.4M344.5 193.5V235.6M348.4 177.8V236.7M352.3 158.7V231.6M356.2 163.5V210.7M360.1 171.7V224.4M364.0 177.6V211.8M367.9 173.7V227.1M371.8 185.2V227.6M375.7 163.6V235.0M379.6 151.2V221.8M383.5 154.7V224.2M387.4 158.8V224.8M391.3 176.5V219.0M395.2 156.5V214.0M399.1 187.6V225.6M403.0 194.5V224.6M406.9 161.3V229.3M410.8 176.9V219.6M414.7 189.5V237.6M418.6 206.0V216.1M422.5 179.9V221.9M426.4 164.6V237.1M430.3 169.0V228.1M434.2 193.6V230.8M438.1 186.3V226.0M441.9 191.0V222.6M445.8 172.1V214.6M449.7 155.6V228.8M453.6 159.7V221.4M457.5 161.6V212.8M461.4 148.9V223.6M465.3 140.5V216.2M469.2 171.0V212.0M473.1 166.3V218.0M477.0 183.4V229.1M480.9 186.9V222.2M484.8 165.8V222.4M488.7 182.1V210.3M492.6 178.9V214.9M496.5 160.4V211.6M500.4 160.5V212.0M504.3 185.4V213.1M508.2 179.5V222.0M512.1 177.9V223.3M516.0 184.9V219.0M519.9 153.6V217.8M523.8 161.1V217.1M527.7 164.6V211.5M531.6 154.8V212.7M535.5 159.7V209.2M539.4 178.6V210.7M543.3 172.6V209.6M547.2 164.5V213.6M551.1 163.1V220.4M555.0 152.3V211.0M558.9 148.7V206.1M562.8 150.5V204.5M566.7 158.3V210.8M570.6 159.7V204.2M574.5 140.4V205.6M578.4 167.9V205.8M582.3 152.7V209.8M586.2 152.0V210.7M590.1 163.2V211.7M594.0 161.7V207.5M597.9 154.6V210.2M601.8 171.3V208.5M605.7 163.8V210.0M609.6 155.9V214.1M613.5 166.7V210.0M617.4 161.7V207.6M621.2 146.5V206.6M625.1 150.9V219.9M629.0 163.7V208.3M632.9 177.3V207.3M636.8 185.7V211.0M640.7 162.4V199.9M644.6 162.5V202.7M648.5 161.4V200.9M652.4 161.8V202.7M656.3 167.0V214.1M660.2 145.1V204.4M664.1 144.4V209.5M668.0 136.3V202.5M671.9 157.9V204.0M675.8 151.2V207.6M679.7 147.3V215.6M683.6 162.0V211.5M687.5 166.7V211.4M691.4 168.4V207.2M695.3 152.0V209.4M699.2 151.1V203.5M703.1 159.2V205.2M707.0 150.2V205.7M710.9 158.2V196.9M714.8 154.9V196.9M718.7 155.0V202.2M722.6 162.2V201.1M726.5 149.3V207.9M730.4 151.1V208.0M734.3 173.2V206.0M738.2 165.2V207.1M742.1 145.9V208.6M746.0 170.2V203.4M749.9 153.8V205.3M753.8 151.8V207.1M757.7 164.1V207.3M761.6 159.3V207.6M765.5 167.2V202.6M769.4 174.7V201.9M773.3 161.2V208.2M777.2 155.4V201.1M781.1 171.6V198.6M785.0 168.3V202.4M788.9 161.6V207.0M792.8 172.9V205.7M796.6 154.5V207.3M800.5 162.0V204.3M804.4 155.5V204.8M808.3 150.0V200.4M812.2 161.8V208.8M816.1 156.0V209.4M820.0 155.3V206.5M823.9 152.3V207.9M827.8 158.5V208.3M831.7 148.9V211.3M835.6 146.4V201.6M839.5 137.6V204.4M843.4 137.6V202.6M847.3 159.6V207.1M851.2 163.4V208.2M855.1 156.3V207.3M859.0 147.5V200.7M862.9 158.6V198.3M866.8 157.7V194.6M870.7 154.5V194.8M874.6 156.7V195.0M878.5 147.8V201.3M882.4 161.4V206.2M886.3 154.6V201.4M890.2 163.1V206.3M894.1 156.2V204.3M898.0 165.1V207.5M901.9 163.8V210.7M905.8 152.1V208.2M909.7 163.4V210.5M913.6 159.8V209.6M917.5 152.8V204.8M921.4 156.2V206.4M925.3 159.3V202.8M929.2 158.4V206.3M933.1 166.0V205.2M937.0 155.0V209.6M940.9 149.8V203.3M944.8 138.0V212.4M948.7 145.3V208.5M952.6 141.6V205.6M956.5 154.2V215.6M960.4 151.6V217.1M964.3 163.0V217.4M968.2 158.2V212.4M972.1 160.9V210.6M975.9 150.7V209.9M979.8 172.8V206.2M983.7 167.0V198.2M987.6 165.3V206.3M991.5 155.9V205.4M995.4 163.8V206.1M999.3 165.3V202.7M1003.2 151.0V213.0M1007.1 161.1V216.5M1011.0 164.3V216.4M1014.9 152.4V216.5M1018.8 176.0V211.6M1022.7 165.5V212.1M1026.6 161.2V218.7M1030.5 160.2V217.2M1034.4 178.4V220.2M1038.3 184.6V218.4M1042.2 182.7V215.3M1046.1 182.3V216.4M1050.0 168.6V208.4M1053.9 172.0V200.0M1057.8 157.1V203.4M1061.7 162.9V214.2M1065.6 160.1V206.6M1069.5 170.4V199.8M1073.4 175.0V206.6M1077.3 168.1V207.5M1081.2 160.7V204.7M1085.1 170.9V207.4M1089.0 158.6V204.0M1092.9 166.2V205.5M1096.8 153.9V211.6M1100.7 172.9V214.1M1104.6 174.6V214.4M1108.5 166.8V216.6M1112.4 169.5V208.5M1116.3 175.5V209.2M1120.2 168.2V212.1M1124.1 162.5V208.9M1128.0 171.6V211.0M1131.9 166.9V207.5M1135.8 174.9V203.1M1139.7 182.2V208.1M1143.6 170.3V214.8M1147.5 179.2V221.5M1151.4 183.5V209.8M1155.2 177.2V211.3M1159.1 186.9V217.6M1163.0 191.7V218.3M1166.9 189.9V224.5M1170.8 187.1V214.1M1174.7 180.8V214.7M1178.6 185.0V219.0M1182.5 190.2V227.6M1186.4 196.7V211.3M1190.3 194.2V214.7M1194.2 193.9V230.1M1198.1 184.5V228.3M1202.0 196.0V224.2M1205.9 202.7V221.1M1209.8 206.6V226.9M1213.7 199.1V216.6M1217.6 191.4V214.8M1221.5 180.7V217.2M1225.4 194.3V222.5M1229.3 190.8V231.9M1233.2 193.6V228.8M1237.1 182.1V225.9M1241.0 183.8V230.4M1244.9 178.0V224.0M1248.8 184.2V217.9M1252.7 181.1V222.6M1256.6 183.9V224.7M1260.5 191.3V223.6M1264.4 185.9V213.1M1268.3 190.8V209.4M1272.2 204.8V226.6M1276.1 199.4V228.2M1280.0 203.4V210.5M1283.9 195.3V219.5M1287.8 185.5V211.2M1291.7 188.0V215.0M1295.6 187.8V212.2M1299.5 198.3V221.0M1303.4 201.1V222.7M1307.3 201.3V220.8M1311.2 186.5V223.4M1315.1 193.1V225.0M1319.0 192.4V216.4M1322.9 204.5V222.2M1326.8 202.7V215.8M1330.6 198.2V224.8M1334.5 197.5V227.6M1338.4 198.1V222.5M1342.3 194.2V221.4M1346.2 192.0V218.1M1350.1 201.2V222.6M1354.0 206.8V225.6M1357.9 198.4V230.3M1361.8 192.7V240.5M1365.7 203.6V238.4M1369.6 196.6V228.0M1373.5 206.6V230.8M1377.4 204.1V231.0M1381.3 193.6V224.2M1385.2 208.0V236.8M1389.1 204.8V234.7M1393.0 204.9V240.9M1396.9 211.7V232.0M1400.8 202.0V247.5M1404.7 209.6V247.4M1408.6 211.7V249.0M1412.5 216.3V248.9M1416.4 207.3V250.8M1420.3 201.9V232.7M1424.2 193.2V240.5M1428.1 201.1V243.9M1432.0 209.6V256.1M1435.9 196.1V261.5M1439.8 205.6V259.6M1443.7 200.4V262.4M1447.6 190.5V249.9M1451.5 192.0V252.5M1455.4 212.9V252.7M1459.3 217.4V250.4M1463.2 217.6V255.4M1467.1 205.2V260.8M1471.0 211.5V258.7M1474.9 202.7V250.6M1478.8 202.6V249.0M1482.7 202.9V254.2M1486.6 204.5V237.1M1490.5 211.0V238.4M1494.4 197.8V236.7M1498.3 200.9V228.8M1502.2 191.7V244.7M1506.1 205.9V237.4"/><path stroke="#c4c446" stroke-opacity="0.082" d="M87.2 341.2V243.9M91.1 341.2V281.7M98.9 341.2V263.0M102.8 341.2V240.3M106.7 341.2V228.6M114.5 341.2V223.7M118.4 341.2V223.7M122.3 341.2V227.6M134.0 341.2V274.9M137.9 341.2V290.9M145.7 341.2V225.7M149.6 341.2V238.7M161.3 341.2V308.7M169.1 341.2V308.8M173.0 341.2V222.8M176.9 341.2V246.9M180.8 341.2V270.3M188.6 341.2V298.3M192.5 341.2V231.3M196.4 341.2V271.4M200.3 341.2V234.8M204.2 341.2V222.1M212.0 341.2V221.9M215.9 341.2V247.9M219.8 341.2V223.0M223.7 341.2V298.9M227.6 341.2V222.6M239.3 341.2V224.6M243.2 341.2V303.9M247.1 341.2V248.9M251.0 341.2V222.9M254.9 341.2V273.0M262.7 341.2V220.5M270.4 341.2V220.5M274.3 341.2V220.2M278.2 341.2V236.5M286.0 341.2V234.6M297.7 341.2V221.1M301.6 341.2V306.3M305.5 341.2V219.2M309.4 341.2V219.1M313.3 341.2V219.5M317.2 341.2V262.7M325.0 341.2V219.6M328.9 341.2V229.6M332.8 341.2V218.9M336.7 341.2V219.4M340.6 341.2V220.4M344.5 341.2V218.0M348.4 341.2V295.8M352.3 341.2V220.2M356.2 341.2V217.7M360.1 341.2V217.4M364.0 341.2V238.8M367.9 341.2V217.1M371.8 341.2V221.2M375.7 341.2V216.9M379.6 341.2V216.7M383.5 341.2V232.3M387.4 341.2V222.4M391.3 341.2V287.4M395.2 341.2V225.5M399.1 341.2V217.6M403.0 341.2V268.7M406.9 341.2V215.8M410.8 341.2V228.5M414.7 341.2V215.5M418.6 341.2V246.7M422.5 341.2V224.7M426.4 341.2V215.1M430.3 341.2V215.0M434.2 341.2V214.9M438.1 341.2V214.7M441.9 341.2V215.1M445.8 341.2V214.8M449.7 341.2V220.5M453.6 341.2V215.5M457.5 341.2V223.3M461.4 341.2V214.7M465.3 341.2V214.5M469.2 341.2V222.3M473.1 341.2V249.6M477.0 341.2V215.5M480.9 341.2V230.7M484.8 341.2V213.8M488.7 341.2V213.1M492.6 341.2V293.0M496.5 341.2V229.1M500.4 341.2V262.7M504.3 341.2V218.9M512.1 341.2V212.3M516.0 341.2V212.3M519.9 341.2V232.3M523.8 341.2V217.5M527.7 341.2V211.9M531.6 341.2V213.4M535.5 341.2V211.6M539.4 341.2V222.0M543.3 341.2V211.4M547.2 341.2V217.8M551.1 341.2V228.8M555.0 341.2V232.6M558.9 341.2V242.9M562.8 341.2V210.8M566.7 341.2V226.2M570.6 341.2V212.9M574.5 341.2V254.7M578.4 341.2V273.5M582.3 341.2V210.4M586.2 341.2V210.2M590.1 341.2V210.1M594.0 341.2V211.1M597.9 341.2V246.4M601.8 341.2V209.8M605.7 341.2V209.7M609.6 341.2V209.6M613.5 341.2V209.6M617.4 341.2V277.5M621.2 341.2V210.7M625.1 341.2V237.9M629.0 341.2V233.7M632.9 341.2V231.0M636.8 341.2V209.0M640.7 341.2V225.5M644.6 341.2V234.3M648.5 341.2V208.8M652.4 341.2V301.0M656.3 341.2V208.8M660.2 341.2V208.6M664.1 341.2V208.7M668.0 341.2V208.5M671.9 341.2V234.1M675.8 341.2V230.9M679.7 341.2V208.4M683.6 341.2V248.6M687.5 341.2V300.2M691.4 341.2V208.1M695.3 341.2V227.8M699.2 341.2V208.1M703.1 341.2V209.0M707.0 341.2V208.8M710.9 341.2V211.5M714.8 341.2V208.0M718.7 341.2V210.1M722.6 341.2V207.9M726.5 341.2V208.6M730.4 341.2V207.8M734.3 341.2V294.8M738.2 341.2V208.3M742.1 341.2V252.8M746.0 341.2V224.3M749.9 341.2V207.8M753.8 341.2V208.9M757.7 341.2V208.5M761.6 341.2V207.8M765.5 341.2V207.9M769.4 341.2V207.9M773.3 341.2V207.9M777.2 341.2V220.8M781.1 341.2V286.7M785.0 341.2V221.6M788.9 341.2V315.2M796.6 341.2V208.0M800.5 341.2V286.3M804.4 341.2V213.7M808.3 341.2V216.8M812.2 341.2V210.6M816.1 341.2V208.1M820.0 341.2V209.0M823.9 341.2V208.2M827.8 341.2V208.3M831.7 341.2V208.4M835.6 341.2V209.0M839.5 341.2V290.4M843.4 341.2V212.8M847.3 341.2V208.8M851.2 341.2V210.0M855.1 341.2V208.7M862.9 341.2V222.1M866.8 341.2V210.1M870.7 341.2V228.4M874.6 341.2V226.1M878.5 341.2V209.2M882.4 341.2V209.5M886.3 341.2V210.6M894.1 341.2V210.2M898.0 341.2V209.7M901.9 341.2V209.6M905.8 341.2V209.7M913.6 341.2V298.9M917.5 341.2V211.2M921.4 341.2V212.8M925.3 341.2V247.2M929.2 341.2V210.3M933.1 341.2V233.1M937.0 341.2V211.0M940.9 341.2V237.9M944.8 341.2V217.8M948.7 341.2V226.1M952.6 341.2V214.8M956.5 341.2V211.2M960.4 341.2V211.2M964.3 341.2V230.8M968.2 341.2V211.5M972.1 341.2V258.4M975.9 341.2V211.7M979.8 341.2V226.2M983.7 341.2V211.9M987.6 341.2V258.4M991.5 341.2V212.1M995.4 341.2V280.6M999.3 341.2V213.9M1003.2 341.2V217.9M1007.1 341.2V212.6M1011.0 341.2V212.9M1014.9 341.2V235.7M1018.8 341.2V221.9M1022.7 341.2V213.5M1026.6 341.2V223.6M1030.5 341.2V213.7M1038.3 341.2V213.8M1042.2 341.2V253.3M1046.1 341.2V242.4M1050.0 341.2V214.0M1053.9 341.2V214.2M1057.8 341.2V214.3M1061.7 341.2V214.4M1065.6 341.2V290.2M1069.5 341.2V214.7M1073.4 341.2V214.9M1077.3 341.2V215.1M1081.2 341.2V215.1M1085.1 341.2V215.6M1089.0 341.2V215.5M1092.9 341.2V221.4M1096.8 341.2V216.3M1100.7 341.2V216.2M1104.6 341.2V323.2M1108.5 341.2V284.1M1112.4 341.2V238.4M1116.3 341.2V216.4M1120.2 341.2V221.4M1124.1 341.2V224.6M1128.0 341.2V216.8M1131.9 341.2V218.3M1139.7 341.2V272.9M1143.6 341.2V299.2M1147.5 341.2V226.6M1151.4 341.2V305.1M1155.2 341.2V220.3M1159.1 341.2V304.6M1163.0 341.2V218.6M1166.9 341.2V249.8M1174.7 341.2V223.0M1178.6 341.2V270.4M1182.5 341.2V244.7M1186.4 341.2V241.2M1190.3 341.2V235.3M1198.1 341.2V219.0M1202.0 341.2V220.0M1205.9 341.2V219.2M1209.8 341.2V256.0M1229.3 341.2V221.0M1237.1 341.2V258.2M1241.0 341.2V235.4M1244.9 341.2V228.3M1248.8 341.2V246.2M1252.7 341.2V240.4M1256.6 341.2V220.8M1260.5 341.2V236.8M1264.4 341.2V221.0M1268.3 341.2V222.2M1272.2 341.2V231.1M1276.1 341.2V268.7M1283.9 341.2V222.4M1287.8 341.2V247.9M1291.7 341.2V222.2M1295.6 341.2V221.8M1299.5 341.2V252.9M1303.4 341.2V222.8M1307.3 341.2V254.3M1311.2 341.2V232.4M1319.0 341.2V243.4M1322.9 341.2V234.8M1326.8 341.2V223.2M1330.6 341.2V223.1M1334.5 341.2V222.8M1338.4 341.2V274.8M1342.3 341.2V223.2M1346.2 341.2V223.2M1350.1 341.2V228.5M1354.0 341.2V223.1M1369.6 341.2V223.6M1373.5 341.2V227.4M1377.4 341.2V230.1M1381.3 341.2V223.7M1385.2 341.2V272.8M1389.1 341.2V226.9M1393.0 341.2V292.5M1400.8 341.2V239.5M1404.7 341.2V227.8M1412.5 341.2V304.1M1416.4 341.2V230.3M1420.3 341.2V333.0M1432.0 341.2V229.7M1435.9 341.2V326.2M1439.8 341.2V225.6M1443.7 341.2V242.8M1467.1 341.2V238.0M1471.0 341.2V263.2M1474.9 341.2V227.8M1478.8 341.2V233.1M1482.7 341.2V244.5M1486.6 341.2V281.5M1490.5 341.2V234.4M1494.4 341.2V226.3M1498.3 341.2V274.6M1502.2 341.2V331.1"/><path stroke="#ff00ff" stroke-opacity="0.05" d="M87.2 204.5V265.6M91.1 219.4V257.0M95.0 220.8V242.8M98.9 214.5V247.8M102.8 211.8V249.0M106.7 196.9V250.6M110.6 205.8V251.4M114.5 205.0V250.2M118.4 209.3V255.5M122.3 219.9V259.4M126.2 217.1V258.6M130.1 211.8V249.9M134.0 195.3V241.1M137.9 191.2V245.2M141.8 204.3V250.6M145.7 213.9V240.9M149.6 211.3V241.5M153.5 214.5V240.4M157.4 190.3V246.8M161.3 191.9V252.4M165.2 200.3V247.7M169.1 208.5V250.6M173.0 217.2V241.0M176.9 213.0V252.9M180.8 232.2V248.8M184.7 222.9V249.2M188.6 218.6V257.6M192.5 199.0V256.3M196.4 217.7V261.1M200.3 203.5V257.5M204.2 207.1V254.9M208.1 198.8V229.4M212.0 208.0V246.7M215.9 202.1V241.3M219.8 195.0V247.5M223.7 175.6V243.7M227.6 196.5V247.4M231.5 200.7V253.0M235.4 202.4V237.3M239.3 207.7V231.9M243.2 205.7V252.7M247.1 203.5V249.9M251.0 205.8V250.1M254.9 219.8V260.3M258.8 208.2V250.9M262.7 218.4V243.4M266.5 210.6V243.3M270.4 196.2V239.7M274.3 210.5V227.2M278.2 206.6V238.8M282.1 201.2V230.5M286.0 200.6V218.6M289.9 204.1V253.4M293.8 200.7V248.8M297.7 191.8V233.4M301.6 204.1V233.5M305.5 201.2V240.5M309.4 189.8V227.5M313.3 197.5V224.8M317.2 207.7V242.2M321.1 190.6V231.7M325.0 182.0V233.7M328.9 174.1V231.3M332.8 180.9V240.1M336.7 191.5V231.3M340.6 170.8V229.4M344.5 163.2V236.5M348.4 164.4V235.3M352.3 180.8V221.6M356.2 181.3V213.8M360.1 193.8V232.1M364.0 202.1V226.5M367.9 192.1V229.5M371.8 184.2V232.5M375.7 177.2V228.4M379.6 179.3V217.1M383.5 156.2V218.4M387.4 182.1V230.0M391.3 166.5V228.3M395.2 180.0V224.5M399.1 169.9V217.7M403.0 187.7V222.7M406.9 157.8V223.5M410.8 152.1V222.9M414.7 186.4V219.5M418.6 167.5V235.1M422.5 171.5V219.9M426.4 164.3V219.4M430.3 171.4V220.9M434.2 176.2V228.6M438.1 193.1V223.1M441.9 190.2V208.9M445.8 183.1V218.2M449.7 198.8V229.0M453.6 198.1V221.0M457.5 185.8V219.3M461.4 174.3V218.8M465.3 179.0V227.4M469.2 159.5V219.6M473.1 172.0V214.4M477.0 164.9V241.5M480.9 153.3V228.0M484.8 171.8V217.6M488.7 158.4V222.3M492.6 166.7V232.0M496.5 179.0V223.5M500.4 156.6V207.1M504.3 145.0V209.4M508.2 161.7V199.3M512.1 153.9V205.5M516.0 150.9V211.7M519.9 160.9V217.9M523.8 140.4V208.1M527.7 156.2V218.9M531.6 169.9V219.8M535.5 168.7V218.9M539.4 169.3V214.1M543.3 172.8V212.8M547.2 172.5V220.1M551.1 183.3V221.7M555.0 167.4V206.9M558.9 180.0V207.8M562.8 160.0V208.4M566.7 154.2V210.2M570.6 162.2V207.7M574.5 165.9V211.2M578.4 170.2V203.8M582.3 165.5V201.3M586.2 145.5V204.0M590.1 149.7V201.0M594.0 159.2V204.4M597.9 142.3V207.3M601.8 155.1V202.1M605.7 161.0V204.5M609.6 139.3V209.0M613.5 143.0V200.2M617.4 139.6V203.9M621.2 143.5V202.8M625.1 146.3V197.4M629.0 146.2V207.4M632.9 145.3V207.9M636.8 130.7V202.4M640.7 156.3V205.3M644.6 180.7V207.3M648.5 172.4V206.9M652.4 179.7V207.3M656.3 167.3V207.4M660.2 173.9V204.3M664.1 165.3V204.0M668.0 150.7V196.8M671.9 158.5V199.1M675.8 164.4V194.6M679.7 152.8V198.6M683.6 161.2V194.0M687.5 159.0V199.1M691.4 158.4V196.3M695.3 168.4V198.9M699.2 152.9V194.7M703.1 163.6V201.6M707.0 150.9V203.7M710.9 149.2V201.6M714.8 161.4V205.5M718.7 160.9V198.5M722.6 149.8V201.0M726.5 154.5V199.7M730.4 134.6V197.2M734.3 153.3V197.5M738.2 143.0V202.6M742.1 163.4V207.3M746.0 161.1V210.9M749.9 148.8V210.0M753.8 168.7V209.0M757.7 159.2V208.7M761.6 166.8V204.0M765.5 172.7V208.4M769.4 170.4V211.6M773.3 167.7V206.7M777.2 166.0V198.5M781.1 166.1V204.4M785.0 168.7V204.5M788.9 185.8V204.4M792.8 158.9V200.3M796.6 138.7V199.1M800.5 143.5V203.4M804.4 152.7V200.7M808.3 163.7V202.5M812.2 157.9V200.8M816.1 155.0V196.3M820.0 164.2V208.7M823.9 162.4V212.2M827.8 153.2V213.7M831.7 152.7V214.1M835.6 155.6V209.3M839.5 155.4V206.9M843.4 163.0V199.8M847.3 160.8V197.5M851.2 158.5V200.4M855.1 164.8V203.4M859.0 162.3V202.0M862.9 151.7V202.2M866.8 145.3V205.6M870.7 171.2V203.0M874.6 177.4V206.2M878.5 158.5V206.2M882.4 154.3V206.5M886.3 152.1V208.3M890.2 167.5V209.4M894.1 162.1V207.3M898.0 154.7V207.0M901.9 152.5V210.9M905.8 161.8V202.4M909.7 165.1V198.0M913.6 158.8V196.0M917.5 156.8V196.8M921.4 145.8V201.8M925.3 172.5V207.4M929.2 170.7V210.5M933.1 153.4V214.7M937.0 166.2V211.7M940.9 161.3V215.3M944.8 146.9V210.4M948.7 161.8V207.4M952.6 157.1V208.9M956.5 140.5V209.6M960.4 161.0V208.3M964.3 177.7V205.3M968.2 158.6V207.1M972.1 163.0V200.6M975.9 161.3V206.8M979.8 159.4V209.0M983.7 148.0V209.6M987.6 156.1V208.9M991.5 148.7V207.1M995.4 147.2V205.0M999.3 153.6V207.2M1003.2 147.4V201.3M1007.1 151.3V211.4M1011.0 157.1V208.5M1014.9 132.2V208.1M1018.8 165.4V213.5M1022.7 174.7V216.7M1026.6 178.5V212.5M1030.5 175.4V206.2M1034.4 168.8V206.2M1038.3 169.4V208.4M1042.2 147.5V210.6M1046.1 162.1V212.7M1050.0 174.8V213.4M1053.9 171.4V209.4M1057.8 174.0V205.6M1061.7 176.0V206.0M1065.6 164.3V211.7M1069.5 164.1V209.1M1073.4 156.7V205.7M1077.3 173.0V216.9M1081.2 166.0V212.9M1085.1 167.9V214.8M1089.0 174.7V212.8M1092.9 186.8V218.1M1096.8 179.4V219.8M1100.7 185.5V216.5M1104.6 171.9V216.9M1108.5 167.6V216.9M1112.4 165.5V218.8M1116.3 144.6V213.8M1120.2 148.0V208.4M1124.1 178.4V215.4M1128.0 171.5V213.3M1131.9 171.9V215.9M1135.8 172.7V214.0M1139.7 179.3V209.0M1143.6 172.1V210.9M1147.5 197.7V214.0M1151.4 199.2V220.7M1155.2 186.3V213.0M1159.1 183.6V206.3M1163.0 177.9V222.4M1166.9 184.4V217.1M1170.8 188.9V218.8M1174.7 182.9V225.9M1178.6 184.3V212.7M1182.5 196.9V212.9M1186.4 186.8V204.1M1190.3 194.4V216.3M1194.2 186.3V220.6M1198.1 186.5V228.8M1202.0 184.4V223.8M1205.9 180.8V231.6M1209.8 191.1V227.5M1213.7 186.4V217.0M1217.6 188.3V215.3M1221.5 190.4V212.0M1225.4 190.0V215.3M1229.3 192.9V213.2M1233.2 191.1V217.5M1237.1 189.2V226.4M1241.0 193.5V220.7M1244.9 185.6V221.2M1248.8 187.6V225.9M1252.7 195.9V230.3M1256.6 191.0V218.9M1260.5 188.3V230.4M1264.4 198.7V231.6M1268.3 194.0V225.1M1272.2 195.7V220.6M1276.1 193.0V220.7M1280.0 194.4V231.7M1283.9 191.9V221.4M1287.8 192.0V223.8M1291.7 206.7V233.5M1295.6 200.3V222.6M1299.5 194.4V224.6M1303.4 190.5V236.5M1307.3 185.5V247.7M1311.2 188.4V237.8M1315.1 184.1V235.8M1319.0 184.7V229.2M1322.9 192.9V226.7M1326.8 198.3V231.3M1330.6 189.4V226.1M1334.5 188.4V224.9M1338.4 202.5V232.5M1342.3 205.6V224.7M1346.2 193.9V224.7M1350.1 194.2V227.4M1354.0 206.0V225.6M1357.9 198.9V232.6M1361.8 192.1V236.4M1365.7 190.9V234.3M1369.6 195.0V239.4M1373.5 198.3V225.8M1377.4 202.5V228.2M1381.3 205.0V226.6M1385.2 201.2V218.7M1389.1 184.1V217.6M1393.0 175.0V212.6M1396.9 190.0V232.5M1400.8 207.4V224.2M1404.7 206.4V236.0M1408.6 207.6V240.9M1412.5 208.1V240.4M1416.4 219.2V241.4M1420.3 212.9V242.9M1424.2 214.2V241.2M1428.1 209.7V230.8M1432.0 219.7V255.4M1435.9 212.6V262.0M1439.8 218.7V264.0M1443.7 218.8V252.2M1447.6 217.5V247.9M1451.5 216.1V243.4M1455.4 215.3V229.0M1459.3 215.1V236.9M1463.2 215.4V252.6M1467.1 216.2V245.4M1471.0 215.7V230.7M1474.9 213.6V221.9M1478.8 195.3V234.1M1482.7 193.6V238.4M1486.6 204.5V239.2M1490.5 216.0V237.3M1494.4 202.3V242.4M1498.3 204.3V247.7M1502.2 202.5V233.9M1506.1 195.3V227.1"/><path stroke="#c4c446" stroke-opacity="0.082" d="M87.2 341.2V270.2M91.1 341.2V228.3M95.0 341.2V226.7M106.7 341.2V283.3M114.5 341.2V299.7M118.4 341.2V262.4M122.3 341.2V223.9M126.2 341.2V253.0M134.0 341.2V224.3M145.7 341.2V224.1M161.3 341.2V325.1M169.1 341.2V226.4M173.0 341.2V238.5M176.9 341.2V237.7M180.8 341.2V232.6M184.7 341.2V245.3M192.5 341.2V224.0M200.3 341.2V223.6M208.1 341.2V223.8M215.9 341.2V241.7M219.8 341.2V222.3M223.7 341.2V222.9M227.6 341.2V230.0M231.5 341.2V239.7M235.4 341.2V221.3M243.2 341.2V253.7M247.1 341.2V237.9M254.9 341.2V247.6M258.8 341.2V229.0M266.5 341.2V239.9M270.4 341.2V246.3M274.3 341.2V232.4M278.2 341.2V278.0M282.1 341.2V219.9M286.0 341.2V264.9M289.9 341.2V219.8M293.8 341.2V219.6M297.7 341.2V219.4M301.6 341.2V219.6M305.5 341.2V220.9M309.4 341.2V219.3M313.3 341.2V262.4M317.2 341.2V219.7M321.1 341.2V226.5M325.0 341.2V234.2M328.9 341.2V252.2M332.8 341.2V220.3M336.7 341.2V275.1M340.6 341.2V274.3M344.5 341.2V303.1M348.4 341.2V217.8M352.3 341.2V227.8M356.2 341.2V217.6M360.1 341.2V217.4M364.0 341.2V232.6M367.9 341.2V217.1M371.8 341.2V217.7M379.6 341.2V221.2M383.5 341.2V216.7M387.4 341.2V252.8M391.3 341.2V252.2M395.2 341.2V226.6M399.1 341.2V216.1M403.0 341.2V219.5M406.9 341.2V243.7M410.8 341.2V216.1M414.7 341.2V269.0M418.6 341.2V215.9M422.5 341.2V215.3M426.4 341.2V297.8M430.3 341.2V215.1M434.2 341.2V215.4M438.1 341.2V216.4M441.9 341.2V214.6M445.8 341.2V215.3M449.7 341.2V216.0M453.6 341.2V215.2M457.5 341.2V214.1M461.4 341.2V260.9M465.3 341.2V249.8M469.2 341.2V217.0M477.0 341.2V213.5M480.9 341.2V214.0M484.8 341.2V213.5M488.7 341.2V216.1M492.6 341.2V212.9M496.5 341.2V212.8M500.4 341.2V274.0M504.3 341.2V246.8M508.2 341.2V258.9M512.1 341.2V225.9M516.0 341.2V212.2M519.9 341.2V224.8M523.8 341.2V212.0M527.7 341.2V217.8M531.6 341.2V228.8M535.5 341.2V246.6M539.4 341.2V257.9M543.3 341.2V317.3M547.2 341.2V262.4M551.1 341.2V219.0M555.0 341.2V211.0M558.9 341.2V232.9M562.8 341.2V215.3M566.7 341.2V211.0M570.6 341.2V223.3M574.5 341.2V210.5M578.4 341.2V278.5M582.3 341.2V279.0M586.2 341.2V214.8M590.1 341.2V247.9M594.0 341.2V210.0M597.9 341.2V327.6M601.8 341.2V210.6M605.7 341.2V209.7M609.6 341.2V210.9M613.5 341.2V270.8M617.4 341.2V209.7M621.2 341.2V232.7M625.1 341.2V209.2M629.0 341.2V210.0M632.9 341.2V209.1M636.8 341.2V209.0M640.7 341.2V208.9M644.6 341.2V214.0M648.5 341.2V272.4M652.4 341.2V213.3M656.3 341.2V260.4M660.2 341.2V315.1M664.1 341.2V211.8M668.0 341.2V208.5M671.9 341.2V214.9M675.8 341.2V212.5M679.7 341.2V208.3M683.6 341.2V208.2M687.5 341.2V286.7M691.4 341.2V208.1M695.3 341.2V208.2M699.2 341.2V222.7M703.1 341.2V212.2M707.0 341.2V213.5M710.9 341.2V247.0M714.8 341.2V209.8M718.7 341.2V207.9M722.6 341.2V207.9M726.5 341.2V323.3M730.4 341.2V225.8M734.3 341.2V218.7M738.2 341.2V207.8M742.1 341.2V207.8M746.0 341.2V226.6M749.9 341.2V227.5M753.8 341.2V207.8M757.7 341.2V209.1M761.6 341.2V220.1M765.5 341.2V207.8M769.4 341.2V250.7M773.3 341.2V227.5M777.2 341.2V228.4M781.1 341.2V243.1M785.0 341.2V209.5M788.9 341.2V255.3M792.8 341.2V209.3M796.6 341.2V208.0M800.5 341.2V208.5M804.4 341.2V210.1M808.3 341.2V210.8M812.2 341.2V208.6M816.1 341.2V257.6M820.0 341.2V227.3M823.9 341.2V211.1M827.8 341.2V208.3M831.7 341.2V264.6M835.6 341.2V208.4M839.5 341.2V208.7M843.4 341.2V223.2M847.3 341.2V209.2M851.2 341.2V230.3M855.1 341.2V258.2M859.0 341.2V324.1M862.9 341.2V226.1M866.8 341.2V209.2M870.7 341.2V249.8M874.6 341.2V209.0M878.5 341.2V301.6M882.4 341.2V209.2M886.3 341.2V212.0M890.2 341.2V209.4M894.1 341.2V272.1M898.0 341.2V210.5M901.9 341.2V221.5M905.8 341.2V210.3M909.7 341.2V293.1M913.6 341.2V209.9M917.5 341.2V211.4M921.4 341.2V213.6M925.3 341.2V210.5M929.2 341.2V210.4M933.1 341.2V210.5M937.0 341.2V211.3M944.8 341.2V221.2M948.7 341.2V245.5M952.6 341.2V212.8M956.5 341.2V231.3M960.4 341.2V231.8M964.3 341.2V217.1M968.2 341.2V211.4M972.1 341.2V270.7M975.9 341.2V231.7M979.8 341.2V220.4M983.7 341.2V211.9M987.6 341.2V212.0M991.5 341.2V260.1M995.4 341.2V218.8M999.3 341.2V234.4M1003.2 341.2V216.7M1007.1 341.2V223.0M1011.0 341.2V212.7M1014.9 341.2V256.7M1018.8 341.2V218.0M1026.6 341.2V267.2M1030.5 341.2V213.4M1034.4 341.2V226.6M1038.3 341.2V218.2M1042.2 341.2V225.5M1046.1 341.2V213.9M1050.0 341.2V215.4M1053.9 341.2V224.8M1057.8 341.2V216.4M1061.7 341.2V219.4M1065.6 341.2V217.1M1069.5 341.2V216.5M1073.4 341.2V214.8M1077.3 341.2V257.4M1081.2 341.2V241.9M1085.1 341.2V215.8M1089.0 341.2V218.3M1092.9 341.2V215.5M1096.8 341.2V215.7M1100.7 341.2V227.5M1104.6 341.2V253.6M1108.5 341.2V216.2M1112.4 341.2V264.4M1116.3 341.2V226.3M1120.2 341.2V216.4M1124.1 341.2V256.6M1131.9 341.2V216.8M1135.8 341.2V295.8M1139.7 341.2V236.2M1143.6 341.2V217.5M1147.5 341.2V243.1M1151.4 341.2V218.5M1155.2 341.2V241.0M1163.0 341.2V222.9M1166.9 341.2V253.8M1170.8 341.2V219.0M1174.7 341.2V218.5M1178.6 341.2V218.4M1182.5 341.2V314.9M1186.4 341.2V227.3M1190.3 341.2V218.8M1194.2 341.2V218.9M1198.1 341.2V265.0M1202.0 341.2V255.4M1205.9 341.2V220.7M1209.8 341.2V224.1M1213.7 341.2V234.5M1217.6 341.2V223.9M1221.5 341.2V220.5M1225.4 341.2V325.0M1229.3 341.2V222.9M1233.2 341.2V225.3M1237.1 341.2V220.7M1241.0 341.2V234.6M1244.9 341.2V223.6M1248.8 341.2V220.7M1252.7 341.2V225.4M1256.6 341.2V223.3M1264.4 341.2V221.1M1268.3 341.2V227.4M1272.2 341.2V291.9M1276.1 341.2V221.3M1280.0 341.2V221.8M1283.9 341.2V236.0M1287.8 341.2V229.2M1291.7 341.2V223.3M1295.6 341.2V263.0M1299.5 341.2V233.6M1307.3 341.2V291.8M1311.2 341.2V248.4M1315.1 341.2V222.3M1319.0 341.2V222.4M1326.8 341.2V307.6M1330.6 341.2V242.3M1334.5 341.2V282.2M1338.4 341.2V222.8M1342.3 341.2V222.9M1350.1 341.2V227.5M1357.9 341.2V226.9M1361.8 341.2V224.3M1365.7 341.2V224.0M1377.4 341.2V296.3M1389.1 341.2V240.9M1396.9 341.2V266.2M1400.8 341.2V282.5M1404.7 341.2V311.7M1412.5 341.2V226.9M1416.4 341.2V224.5M1420.3 341.2V302.0M1428.1 341.2V258.7M1435.9 341.2V231.4M1443.7 341.2V336.7M1455.4 341.2V232.2M1459.3 341.2V307.0M1463.2 341.2V227.1M1471.0 341.2V300.0M1478.8 341.2V226.6M1486.6 341.2V335.2M1490.5 341.2V280.6M1494.4 341.2V231.5M1506.1 341.2V299.5"/><path stroke="#ff00ff" stroke-opacity="0.05" d="M87.2 212.7V258.4M91.1 215.6V256.5M95.0 221.5V260.5M98.9 225.2V248.3M102.8 218.9V235.3M106.7 219.5V241.6M110.6 211.3V242.9M114.5 214.0V249.2M118.4 218.8V246.1M122.3 216.6V250.3M126.2 233.6V261.2M130.1 217.6V245.8M134.0 214.8V229.8M137.9 199.6V235.2M141.8 207.6V243.1M145.7 209.0V243.0M149.6 216.2V233.0M153.5 194.2V245.8M157.4 198.6V242.1M161.3 192.6V244.9M165.2 202.9V265.7M169.1 200.1V261.0M173.0 211.8V250.8M176.9 214.7V247.4M180.8 213.4V249.4M184.7 217.7V259.7M188.6 205.6V252.2M192.5 198.3V248.8M196.4 191.3V243.9M200.3 206.3V230.8M204.2 210.7V238.6M208.1 207.9V233.5M212.0 200.0V235.8M215.9 213.3V218.6M219.8 210.8V227.4M223.7 197.4V214.2M227.6 199.2V237.8M231.5 201.8V251.3M235.4 212.6V243.7M239.3 210.5V245.1M243.2 199.8V233.6M247.1 191.4V231.9M251.0 212.4V230.9M254.9 203.4V243.6M258.8 206.0V243.7M262.7 212.7V236.3M266.5 189.6V244.2M270.4 189.0V243.3M274.3 205.3V232.7M278.2 212.8V237.6M282.1 204.8V237.5M286.0 216.7V229.1M289.9 209.9V230.9M293.8 199.1V247.0M297.7 211.7V241.8M301.6 202.3V239.4M305.5 194.3V235.3M309.4 201.3V217.2M313.3 193.3V216.9M317.2 185.5V224.1M321.1 183.5V233.5M325.0 194.5V226.0M328.9 182.1V227.0M332.8 189.2V218.5M336.7 186.1V221.5M340.6 186.0V217.6M344.5 186.5V229.1M348.4 211.2V229.8M352.3 186.0V228.4M356.2 180.0V234.1M360.1 181.3V227.8M364.0 175.9V230.3M367.9 186.0V231.4M371.8 187.6V234.4M375.7 180.2V231.3M379.6 209.7V241.2M383.5 206.8V227.3M387.4 203.4V223.9M391.3 197.9V221.0M395.2 198.0V214.4M399.1 200.9V218.2M403.0 189.5V224.1M406.9 176.9V215.1M410.8 174.5V222.8M414.7 166.0V222.4M418.6 167.8V238.4M422.5 156.5V234.5M426.4 149.3V228.6M430.3 170.3V220.7M434.2 184.7V217.4M438.1 188.7V212.5M441.9 187.5V219.9M445.8 173.6V223.2M449.7 168.9V219.5M453.6 169.9V223.9M457.5 180.6V223.3M461.4 182.8V219.9M465.3 181.1V230.8M469.2 175.2V233.5M473.1 210.0V222.5M477.0 189.1V223.8M480.9 175.7V215.5M484.8 183.2V218.8M488.7 161.9V223.8M492.6 158.8V216.2M496.5 158.1V217.7M500.4 184.2V214.7M504.3 169.5V219.3M508.2 169.5V222.3M512.1 168.9V220.9M516.0 197.2V222.8M519.9 202.6V220.0M523.8 190.7V223.3M527.7 196.3V216.8M531.6 168.7V210.9M535.5 182.2V209.5M539.4 167.6V218.3M543.3 164.3V208.5M547.2 135.4V219.5M551.1 151.0V214.1M555.0 143.0V211.6M558.9 159.3V206.7M562.8 174.4V211.4M566.7 165.8V212.5M570.6 151.8V204.6M574.5 163.3V200.6M578.4 152.7V208.9M582.3 151.9V209.3M586.2 157.1V211.8M590.1 157.7V221.4M594.0 158.6V208.6M597.9 166.3V210.5M601.8 162.7V208.1M605.7 158.1V206.0M609.6 167.2V212.1M613.5 190.3V204.9M617.4 169.6V208.6M621.2 172.3V214.0M625.1 161.4V208.5M629.0 169.9V206.5M632.9 161.8V208.6M636.8 163.7V207.5M640.7 165.5V198.9M644.6 163.7V199.2M648.5 158.6V202.3M652.4 176.5V205.4M656.3 156.2V197.2M660.2 148.1V202.9M664.1 150.7V212.2M668.0 170.4V203.1M671.9 156.5V205.7M675.8 157.3V213.8M679.7 142.2V214.4M683.6 154.2V214.3M687.5 157.5V217.5M691.4 148.1V213.2M695.3 172.1V210.4M699.2 167.8V200.3M703.1 163.7V201.9M707.0 180.9V204.5M710.9 177.1V204.2M714.8 164.4V202.7M718.7 157.1V198.9M722.6 141.5V195.9M726.5 140.1V206.5M730.4 160.0V210.0M734.3 150.8V206.3M738.2 149.8V197.3M742.1 151.9V201.8M746.0 164.2V198.2M749.9 143.2V202.5M753.8 133.7V204.7M757.7 142.2V204.7M761.6 156.5V198.7M765.5 166.7V202.7M769.4 171.7V202.7M773.3 156.1V201.8M777.2 171.8V199.3M781.1 154.0V201.3M785.0 157.2V199.3M788.9 154.0V195.4M792.8 148.9V196.9M796.6 131.7V202.1M800.5 138.1V203.9M804.4 149.6V203.3M808.3 150.5V205.1M812.2 153.1V209.2M816.1 155.4V210.7M820.0 156.0V210.0M823.9 166.3V215.0M827.8 159.6V199.4M831.7 171.3V199.3M835.6 154.8V204.5M839.5 160.1V207.8M843.4 169.9V202.1M847.3 158.4V209.0M851.2 152.4V211.1M855.1 154.5V204.5M859.0 170.3V205.3M862.9 176.3V202.6M866.8 162.6V203.7M870.7 140.2V204.7M874.6 147.1V207.5M878.5 150.3V204.8M882.4 149.2V204.4M886.3 161.8V204.2M890.2 150.3V206.5M894.1 160.2V201.7M898.0 159.2V203.5M901.9 166.4V202.5M905.8 173.6V208.5M909.7 173.2V213.4M913.6 174.5V207.0M917.5 170.5V208.9M921.4 150.8V210.6M925.3 152.3V207.0M929.2 160.9V201.7M933.1 156.3V205.0M937.0 162.9V206.7M940.9 150.9V204.9M944.8 147.9V203.5M948.7 156.8V204.7M952.6 158.5V212.2M956.5 158.2V206.4M960.4 167.9V209.3M964.3 174.0V200.1M968.2 167.9V205.8M972.1 171.8V205.3M975.9 165.8V206.0M979.8 155.0V205.5M983.7 159.3V196.7M987.6 154.2V202.6M991.5 141.2V200.8M995.4 154.6V203.7M999.3 144.6V206.6M1003.2 160.2V203.9M1007.1 171.1V204.3M1011.0 164.9V206.6M1014.9 165.1V211.0M1018.8 177.3V207.8M1022.7 158.9V194.4M1026.6 153.9V202.0M1030.5 168.3V202.8M1034.4 168.9V208.4M1038.3 168.4V194.2M1042.2 179.0V208.1M1046.1 170.5V211.6M1050.0 181.6V219.3M1053.9 190.8V211.9M1057.8 167.0V210.6M1061.7 173.9V208.8M1065.6 178.7V209.9M1069.5 176.4V203.3M1073.4 179.8V200.9M1077.3 155.7V200.6M1081.2 158.9V218.3M1085.1 157.2V219.0M1089.0 155.9V214.7M1092.9 144.2V208.9M1096.8 177.7V223.0M1100.7 167.5V209.8M1104.6 167.9V209.1M1108.5 169.1V202.9M1112.4 160.4V213.0M1116.3 161.2V216.2M1120.2 182.3V219.4M1124.1 176.0V219.1M1128.0 176.9V220.0M1131.9 167.2V225.5M1135.8 189.1V213.2M1139.7 178.5V211.0M1143.6 177.8V217.2M1147.5 174.2V227.2M1151.4 175.1V215.4M1155.2 194.1V228.3M1159.1 184.0V228.8M1163.0 184.7V230.2M1166.9 190.5V228.2M1170.8 182.3V220.4M1174.7 185.1V214.3M1178.6 176.0V214.5M1182.5 175.5V223.4M1186.4 188.9V213.4M1190.3 184.1V209.0M1194.2 186.6V209.3M1198.1 188.1V199.9M1202.0 189.6V215.9M1205.9 183.4V222.1M1209.8 191.2V225.4M1213.7 187.8V226.0M1217.6 197.8V218.8M1221.5 191.8V217.8M1225.4 198.2V221.1M1229.3 201.6V213.3M1233.2 196.1V217.0M1237.1 199.8V221.9M1241.0 188.6V224.9M1244.9 196.1V230.6M1248.8 184.1V227.1M1252.7 182.8V229.4M1256.6 186.6V226.1M1260.5 185.6V221.6M1264.4 187.7V219.0M1268.3 176.3V223.6M1272.2 181.7V211.3M1276.1 191.1V224.6M1280.0 190.2V219.6M1283.9 194.1V221.6M1287.8 194.7V221.1M1291.7 198.1V227.2M1295.6 199.6V231.0M1299.5 192.4V223.9M1303.4 194.0V235.6M1307.3 190.1V229.6M1311.2 194.6V236.9M1315.1 195.5V243.1M1319.0 198.3V233.9M1322.9 189.3V233.4M1326.8 182.8V217.0M1330.6 189.8V232.9M1334.5 187.4V228.5M1338.4 200.2V226.7M1342.3 205.7V225.5M1346.2 196.6V229.3M1350.1 207.0V239.1M1354.0 185.0V228.6M1357.9 184.8V223.6M1361.8 180.4V223.8M1365.7 189.6V225.1M1369.6 202.6V219.8M1373.5 206.6V219.1M1377.4 209.0V221.3M1381.3 199.1V232.5M1385.2 207.1V226.8M1389.1 210.1V238.4M1393.0 195.3V235.5M1396.9 207.7V245.2M1400.8 210.2V244.2M1404.7 197.2V236.6M1408.6 182.3V241.9M1412.5 205.7V234.7M1416.4 223.6V242.9M1420.3 219.8V229.8M1424.2 211.1V238.3M1428.1 208.7V219.9M1432.0 211.5V226.4M1435.9 218.6V235.9M1439.8 205.7V249.8M1443.7 209.8V250.9M1447.6 213.0V231.6M1451.5 209.1V248.8M1455.4 196.2V260.1M1459.3 199.7V250.2M1463.2 182.6V237.2M1467.1 196.8V244.4M1471.0 196.6V252.0M1474.9 218.0V250.5M1478.8 217.0V249.6M1482.7 211.7V238.1M1486.6 214.2V225.9M1490.5 216.2V236.8M1494.4 215.4V247.9M1498.3 218.2V256.6M1502.2 216.3V265.4M1506.1 210.5V255.9"/><path stroke="#c4c446" stroke-opacity="0.082" d="M87.2 341.2V233.0M91.1 341.2V224.0M95.0 341.2V231.6M98.9 341.2V265.9M102.8 341.2V223.9M106.7 341.2V322.9M110.6 341.2V223.8M114.5 341.2V227.1M122.3 341.2V224.4M126.2 341.2V223.6M130.1 341.2V224.2M134.0 341.2V223.5M137.9 341.2V246.1M141.8 341.2V225.0M145.7 341.2V299.7M149.6 341.2V224.3M153.5 341.2V259.6M157.4 341.2V225.6M161.3 341.2V223.0M165.2 341.2V223.0M169.1 341.2V223.0M173.0 341.2V312.5M176.9 341.2V238.6M192.5 341.2V227.5M196.4 341.2V264.0M212.0 341.2V229.6M215.9 341.2V255.5M219.8 341.2V234.9M223.7 341.2V284.2M227.6 341.2V222.3M231.5 341.2V256.8M239.3 341.2V233.0M243.2 341.2V235.1M247.1 341.2V220.9M254.9 341.2V231.3M258.8 341.2V220.6M262.7 341.2V299.3M270.4 341.2V300.9M274.3 341.2V221.2M278.2 341.2V238.6M282.1 341.2V233.8M289.9 341.2V235.2M293.8 341.2V224.1M301.6 341.2V219.8M309.4 341.2V219.1M313.3 341.2V231.2M317.2 341.2V218.8M321.1 341.2V218.7M325.0 341.2V232.4M328.9 341.2V274.2M332.8 341.2V272.9M336.7 341.2V220.6M340.6 341.2V218.7M344.5 341.2V218.1M348.4 341.2V251.8M352.3 341.2V263.1M356.2 341.2V217.5M360.1 341.2V224.2M364.0 341.2V304.9M367.9 341.2V235.1M371.8 341.2V217.0M375.7 341.2V217.1M379.6 341.2V224.4M383.5 341.2V245.4M387.4 341.2V294.1M391.3 341.2V234.3M395.2 341.2V218.0M399.1 341.2V226.6M403.0 341.2V294.8M406.9 341.2V234.1M410.8 341.2V221.3M414.7 341.2V234.0M418.6 341.2V215.5M422.5 341.2V215.3M426.4 341.2V244.6M430.3 341.2V215.0M434.2 341.2V214.9M438.1 341.2V214.8M441.9 341.2V268.2M445.8 341.2V230.2M449.7 341.2V214.5M453.6 341.2V217.9M457.5 341.2V230.3M461.4 341.2V237.3M465.3 341.2V224.5M469.2 341.2V214.3M477.0 341.2V218.5M480.9 341.2V213.5M484.8 341.2V225.5M488.7 341.2V213.1M492.6 341.2V212.9M496.5 341.2V213.4M500.4 341.2V212.7M504.3 341.2V212.6M508.2 341.2V212.6M516.0 341.2V212.2M519.9 341.2V212.1M523.8 341.2V216.0M527.7 341.2V211.9M531.6 341.2V221.2M535.5 341.2V252.4M539.4 341.2V211.6M547.2 341.2V213.6M551.1 341.2V213.8M555.0 341.2V211.0M558.9 341.2V210.9M562.8 341.2V244.9M566.7 341.2V275.2M570.6 341.2V210.6M574.5 341.2V216.9M578.4 341.2V210.6M582.3 341.2V210.3M586.2 341.2V313.3M590.1 341.2V238.7M594.0 341.2V210.0M597.9 341.2V210.0M601.8 341.2V211.4M605.7 341.2V209.7M609.6 341.2V209.9M613.5 341.2V214.2M617.4 341.2V249.3M621.2 341.2V214.8M625.1 341.2V209.2M629.0 341.2V209.3M632.9 341.2V247.9M636.8 341.2V244.8M640.7 341.2V223.0M644.6 341.2V221.5M648.5 341.2V211.7M652.4 341.2V228.6M656.3 341.2V208.6M660.2 341.2V208.6M664.1 341.2V234.2M668.0 341.2V236.6M671.9 341.2V210.9M675.8 341.2V209.8M679.7 341.2V311.4M683.6 341.2V208.3M687.5 341.2V208.2M691.4 341.2V209.1M695.3 341.2V209.3M699.2 341.2V220.0M703.1 341.2V228.7M707.0 341.2V220.7M710.9 341.2V208.9M714.8 341.2V207.9M718.7 341.2V218.4M722.6 341.2V211.4M726.5 341.2V208.9M730.4 341.2V236.0M734.3 341.2V220.4M738.2 341.2V308.8M742.1 341.2V210.4M746.0 341.2V207.8M749.9 341.2V230.4M753.8 341.2V251.7M757.7 341.2V214.1M761.6 341.2V207.8M765.5 341.2V219.4M769.4 341.2V257.4M773.3 341.2V208.4M777.2 341.2V207.9M781.1 341.2V208.0M785.0 341.2V207.9M788.9 341.2V207.9M792.8 341.2V223.7M796.6 341.2V208.2M800.5 341.2V208.5M808.3 341.2V232.4M812.2 341.2V211.7M816.1 341.2V213.7M820.0 341.2V210.7M823.9 341.2V209.4M827.8 341.2V208.3M831.7 341.2V210.0M835.6 341.2V209.7M839.5 341.2V208.4M843.4 341.2V209.0M847.3 341.2V208.6M851.2 341.2V216.6M855.1 341.2V278.1M859.0 341.2V209.4M862.9 341.2V235.2M866.8 341.2V221.0M870.7 341.2V325.8M878.5 341.2V209.1M882.4 341.2V231.3M886.3 341.2V226.0M890.2 341.2V219.8M894.1 341.2V220.6M898.0 341.2V270.8M901.9 341.2V209.6M905.8 341.2V211.2M909.7 341.2V246.0M913.6 341.2V219.3M917.5 341.2V212.1M921.4 341.2V331.6M925.3 341.2V261.1M929.2 341.2V221.8M933.1 341.2V210.8M937.0 341.2V210.9M940.9 341.2V211.5M944.8 341.2V242.0M948.7 341.2V210.9M952.6 341.2V314.3M956.5 341.2V211.1M960.4 341.2V211.3M964.3 341.2V213.1M968.2 341.2V211.4M972.1 341.2V215.7M975.9 341.2V215.2M979.8 341.2V211.8M983.7 341.2V211.9M987.6 341.2V212.0M991.5 341.2V212.1M995.4 341.2V218.9M999.3 341.2V212.4M1003.2 341.2V261.3M1007.1 341.2V213.7M1011.0 341.2V213.0M1014.9 341.2V228.3M1018.8 341.2V213.0M1022.7 341.2V213.1M1026.6 341.2V288.2M1030.5 341.2V266.2M1034.4 341.2V225.3M1038.3 341.2V213.6M1042.2 341.2V249.5M1046.1 341.2V279.7M1050.0 341.2V218.8M1053.9 341.2V215.2M1057.8 341.2V215.1M1061.7 341.2V255.3M1065.6 341.2V251.2M1069.5 341.2V292.9M1073.4 341.2V214.8M1077.3 341.2V229.7M1081.2 341.2V239.7M1089.0 341.2V215.3M1092.9 341.2V216.7M1100.7 341.2V215.7M1104.6 341.2V216.7M1108.5 341.2V230.1M1112.4 341.2V216.1M1120.2 341.2V216.4M1124.1 341.2V230.2M1128.0 341.2V218.2M1131.9 341.2V219.7M1135.8 341.2V218.2M1139.7 341.2V223.1M1143.6 341.2V245.1M1147.5 341.2V217.6M1151.4 341.2V321.7M1155.2 341.2V220.4M1159.1 341.2V217.7M1163.0 341.2V229.2M1166.9 341.2V218.0M1174.7 341.2V221.2M1178.6 341.2V243.1M1182.5 341.2V219.0M1194.2 341.2V289.8M1198.1 341.2V220.4M1202.0 341.2V219.2M1209.8 341.2V219.5M1213.7 341.2V221.1M1217.6 341.2V220.2M1221.5 341.2V224.4M1233.2 341.2V221.7M1241.0 341.2V220.3M1244.9 341.2V220.5M1248.8 341.2V232.5M1252.7 341.2V237.3M1260.5 341.2V221.0M1268.3 341.2V223.1M1276.1 341.2V242.0M1280.0 341.2V221.6M1283.9 341.2V222.4M1287.8 341.2V327.7M1291.7 341.2V226.8M1295.6 341.2V222.0M1299.5 341.2V250.9M1311.2 341.2V273.2M1315.1 341.2V299.9M1319.0 341.2V233.1M1322.9 341.2V222.5M1326.8 341.2V225.9M1330.6 341.2V274.5M1334.5 341.2V222.7M1338.4 341.2V224.5M1342.3 341.2V224.7M1346.2 341.2V223.1M1350.1 341.2V223.1M1354.0 341.2V223.1M1357.9 341.2V282.0M1361.8 341.2V223.8M1365.7 341.2V223.5M1369.6 341.2V250.7M1373.5 341.2V296.2M1377.4 341.2V225.3M1381.3 341.2V232.9M1385.2 341.2V255.4M1389.1 341.2V231.0M1400.8 341.2V224.6M1408.6 341.2V238.4M1424.2 341.2V337.9M1428.1 341.2V326.4M1432.0 341.2V243.3M1435.9 341.2V326.3M1439.8 341.2V251.7M1443.7 341.2V303.1M1447.6 341.2V224.2M1451.5 341.2V273.0M1463.2 341.2V303.2M1471.0 341.2V226.1M1478.8 341.2V275.0M1482.7 341.2V234.0M1490.5 341.2V255.3M1494.4 341.2V225.6M1498.3 341.2V285.4M1502.2 341.2V276.6M1506.1 341.2V259.9"/><path stroke="#ff00ff" stroke-opacity="0.05" d="M87.2 209.6V247.7M91.1 210.8V246.9M95.0 215.6V265.5M98.9 199.1V262.6M102.8 218.9V264.3M106.7 205.4V281.0M110.6 205.8V261.1M114.5 204.6V253.5M118.4 206.4V261.1M122.3 217.2V251.8M126.2 207.3V249.5M130.1 197.1V254.5M134.0 220.4V250.3M137.9 213.3V252.6M141.8 211.7V257.7M145.7 212.5V245.9M149.6 206.6V261.6M153.5 209.0V240.5M157.4 212.0V243.7M161.3 199.3V250.9M165.2 212.1V247.3M169.1 213.4V256.8M173.0 214.2V257.1M176.9 217.9V237.0M180.8 217.1V239.6M184.7 199.3V246.0M188.6 210.4V248.9M192.5 185.4V241.2M196.4 210.0V237.2M200.3 230.0V245.4M204.2 224.0V236.6M208.1 226.2V242.1M212.0 203.6V244.8M215.9 199.4V239.2M219.8 211.6V248.8M223.7 209.4V260.2M227.6 209.2V254.1M231.5 180.7V242.3M235.4 190.2V246.1M239.3 193.7V238.1M243.2 192.8V231.2M247.1 195.3V240.7M251.0 198.7V242.5M254.9 208.7V244.5M258.8 204.4V238.8M262.7 201.0V237.3M266.5 214.5V238.9M270.4 207.1V229.8M274.3 216.5V233.2M278.2 225.4V235.6M282.1 213.6V245.0M286.0 201.3V242.7M289.9 190.4V230.9M293.8 200.0V229.8M297.7 214.1V233.7M301.6 214.9V236.8M305.5 208.1V244.6M309.4 202.5V246.3M313.3 192.5V232.7M317.2 194.4V233.3M321.1 180.3V232.7M325.0 192.7V222.8M328.9 185.3V230.4M332.8 178.9V234.3M336.7 178.4V221.4M340.6 176.0V220.8M344.5 195.0V236.9M348.4 179.3V232.9M352.3 189.1V236.5M356.2 189.7V236.1M360.1 200.6V233.8M364.0 188.1V242.9M367.9 192.3V240.7M371.8 197.5V220.7M375.7 182.3V225.7M379.6 193.5V230.1M383.5 184.3V221.7M387.4 182.0V234.5M391.3 176.2V232.4M395.2 179.5V220.2M399.1 197.3V223.3M403.0 188.4V222.3M406.9 180.9V225.7M410.8 157.5V223.0M414.7 145.8V219.0M418.6 152.3V222.8M422.5 154.0V222.5M426.4 199.6V221.0M430.3 196.1V234.5M434.2 200.9V221.8M438.1 181.7V209.2M441.9 172.5V209.3M445.8 167.6V212.8M449.7 164.3V218.2M453.6 165.2V215.9M457.5 171.2V204.6M461.4 179.9V201.8M465.3 168.1V213.7M469.2 170.7V205.9M473.1 159.0V215.4M477.0 171.4V219.7M480.9 175.5V218.8M484.8 183.7V213.6M488.7 170.2V216.1M492.6 181.4V210.0M496.5 205.6V211.0M500.4 198.8V204.1M504.3 193.9V217.9M508.2 183.1V215.9M512.1 181.8V211.6M516.0 161.5V204.2M519.9 162.5V221.6M523.8 155.2V219.2M527.7 146.3V227.9M531.6 145.8V218.0M535.5 146.8V218.5M539.4 163.2V213.5M543.3 160.5V207.0M547.2 164.9V204.3M551.1 156.9V208.5M555.0 167.8V205.9M558.9 159.0V191.5M562.8 167.1V202.6M566.7 157.3V202.5M570.6 147.1V207.4M574.5 141.8V203.1M578.4 156.4V208.8M582.3 145.2V204.7M586.2 171.3V212.4M590.1 164.6V208.2M594.0 177.6V195.3M597.9 169.1V205.8M601.8 177.2V208.4M605.7 169.4V202.7M609.6 172.4V209.1M613.5 153.5V218.0M617.4 134.8V219.2M621.2 138.8V211.4M625.1 139.1V203.3M629.0 144.9V203.8M632.9 153.4V204.2M636.8 159.0V199.7M640.7 171.2V202.5M644.6 173.4V197.7M648.5 158.3V194.6M652.4 162.8V201.0M656.3 156.9V197.1M660.2 166.6V197.6M664.1 139.5V201.3M668.0 135.2V202.6M671.9 147.1V198.6M675.8 133.7V206.0M679.7 140.2V211.0M683.6 137.6V202.2M687.5 148.2V194.7M691.4 156.2V197.6M695.3 142.2V196.0M699.2 141.6V205.4M703.1 140.4V208.8M707.0 138.1V207.5M710.9 145.1V206.1M714.8 154.1V203.4M718.7 150.7V204.5M722.6 168.9V203.5M726.5 160.8V203.4M730.4 147.0V200.4M734.3 152.8V197.2M738.2 136.2V196.4M742.1 148.5V194.0M746.0 161.1V198.8M749.9 152.3V202.1M753.8 155.0V209.1M757.7 149.0V211.9M761.6 157.9V204.2M765.5 151.2V201.6M769.4 152.0V202.0M773.3 151.2V203.6M777.2 144.4V207.9M781.1 157.1V213.7M785.0 157.9V210.8M788.9 146.6V208.2M792.8 140.0V215.6M796.6 141.5V205.0M800.5 159.3V207.2M804.4 156.1V204.2M808.3 160.2V199.6M812.2 161.5V196.6M816.1 173.6V201.9M820.0 184.7V199.9M823.9 161.9V199.1M827.8 152.1V201.9M831.7 168.2V202.3M835.6 166.1V207.0M839.5 161.3V205.2M843.4 164.8V207.7M847.3 156.5V207.3M851.2 160.7V205.9M855.1 172.0V202.1M859.0 168.7V204.6M862.9 159.0V205.9M866.8 166.9V207.2M870.7 155.3V196.1M874.6 146.8V202.3M878.5 146.7V202.1M882.4 147.0V209.4M886.3 153.3V207.2M890.2 150.5V210.8M894.1 161.0V210.3M898.0 181.2V205.2M901.9 176.1V199.0M905.8 153.7V201.7M909.7 146.4V201.5M913.6 162.2V203.0M917.5 162.4V206.0M921.4 167.1V205.6M925.3 173.7V202.2M929.2 169.2V203.3M933.1 156.6V206.1M937.0 157.2V207.8M940.9 160.3V205.1M944.8 179.5V206.8M948.7 149.0V203.0M952.6 164.6V209.8M956.5 161.6V205.1M960.4 152.7V208.6M964.3 154.2V207.7M968.2 148.9V199.0M972.1 175.4V198.7M975.9 175.4V204.4M979.8 173.6V206.7M983.7 178.9V203.1M987.6 183.9V201.2M991.5 163.7V203.9M995.4 173.7V202.4M999.3 156.9V206.1M1003.2 150.6V217.0M1007.1 159.2V207.8M1011.0 173.3V209.5M1014.9 173.3V206.1M1018.8 174.8V207.7M1022.7 175.4V209.0M1026.6 177.1V212.4M1030.5 170.7V207.4M1034.4 171.0V204.7M1038.3 169.3V201.6M1042.2 168.5V202.5M1046.1 156.9V204.2M1050.0 144.1V209.4M1053.9 156.3V209.6M1057.8 163.5V208.1M1061.7 168.0V220.6M1065.6 160.1V221.0M1069.5 158.7V216.7M1073.4 163.4V210.1M1077.3 168.2V204.0M1081.2 164.1V199.6M1085.1 157.7V208.8M1089.0 168.2V209.6M1092.9 165.6V212.8M1096.8 184.9V215.8M1100.7 184.1V215.2M1104.6 173.4V212.8M1108.5 186.9V208.3M1112.4 193.1V217.1M1116.3 180.7V215.2M1120.2 194.4V218.5M1124.1 187.0V208.7M1128.0 163.1V202.3M1131.9 166.7V210.1M1135.8 157.5V215.5M1139.7 155.5V211.7M1143.6 173.7V208.1M1147.5 178.7V216.9M1151.4 177.4V218.6M1155.2 172.1V215.9M1159.1 168.0V222.1M1163.0 171.2V211.1M1166.9 176.4V213.9M1170.8 188.5V215.4M1174.7 181.0V223.4M1178.6 188.1V213.6M1182.5 181.9V223.9M1186.4 176.9V225.5M1190.3 191.8V225.6M1194.2 178.1V223.0M1198.1 184.8V229.5M1202.0 180.5V228.9M1205.9 179.2V220.3M1209.8 173.1V219.8M1213.7 174.1V218.7M1217.6 172.0V212.9M1221.5 175.7V213.3M1225.4 187.4V210.1M1229.3 189.7V214.5M1233.2 185.7V222.4M1237.1 182.1V210.9M1241.0 185.3V225.7M1244.9 192.2V231.3M1248.8 199.0V232.9M1252.7 194.5V212.2M1256.6 174.9V216.1M1260.5 184.1V212.0M1264.4 191.1V226.6M1268.3 188.2V231.3M1272.2 186.2V224.9M1276.1 188.9V226.8M1280.0 203.3V224.3M1283.9 202.7V220.0M1287.8 202.3V221.3M1291.7 194.6V222.1M1295.6 198.4V221.8M1299.5 198.0V224.4M1303.4 203.2V222.5M1307.3 202.5V217.3M1311.2 185.6V227.0M1315.1 185.4V224.1M1319.0 187.8V218.7M1322.9 196.7V223.1M1326.8 203.4V224.7M1330.6 193.3V212.9M1334.5 194.5V211.8M1338.4 191.5V203.6M1342.3 191.9V202.4M1346.2 193.2V216.4M1350.1 210.0V226.1M1354.0 197.8V228.6M1357.9 186.4V222.3M1361.8 191.4V248.7M1365.7 195.7V238.9M1369.6 195.6V226.3M1373.5 198.9V228.6M1377.4 211.5V228.3M1381.3 208.4V232.8M1385.2 204.8V246.3M1389.1 195.8V234.3M1393.0 205.9V238.1M1396.9 206.7V234.7M1400.8 204.9V237.0M1404.7 200.9V223.3M1408.6 188.0V228.4M1412.5 191.4V231.6M1416.4 193.1V237.8M1420.3 208.2V247.1M1424.2 194.4V241.9M1428.1 213.3V233.8M1432.0 198.9V238.7M1435.9 195.4V259.3M1439.8 199.7V258.2M1443.7 211.0V235.0M1447.6 204.1V244.3M1451.5 208.6V242.7M1455.4 196.5V259.4M1459.3 224.1V256.6M1463.2 214.3V257.6M1467.1 230.6V244.3M1471.0 217.6V239.0M1474.9 214.1V237.1M1478.8 203.3V232.2M1482.7 213.5V242.3M1486.6 217.4V229.0M1490.5 228.6V238.7M1494.4 220.8V233.8M1498.3 212.0V221.4M1502.2 210.9V237.1M1506.1 216.0V237.5"/><path stroke="#c4c446" stroke-opacity="0.082" d="M87.2 341.2V260.1M91.1 341.2V240.0M95.0 341.2V223.9M102.8 341.2V230.9M106.7 341.2V224.1M110.6 341.2V225.0M114.5 341.2V254.5M118.4 341.2V249.3M122.3 341.2V227.2M130.1 341.2V224.0M134.0 341.2V302.9M137.9 341.2V231.3M141.8 341.2V304.6M145.7 341.2V246.4M149.6 341.2V224.4M157.4 341.2V271.7M161.3 341.2V262.5M165.2 341.2V231.8M169.1 341.2V229.5M180.8 341.2V225.1M188.6 341.2V222.5M196.4 341.2V222.3M200.3 341.2V243.0M204.2 341.2V258.2M208.1 341.2V222.0M215.9 341.2V278.4M219.8 341.2V222.6M223.7 341.2V221.6M227.6 341.2V221.5M231.5 341.2V221.6M235.4 341.2V262.7M243.2 341.2V221.1M247.1 341.2V267.8M251.0 341.2V239.7M258.8 341.2V246.3M266.5 341.2V233.0M270.4 341.2V226.2M274.3 341.2V229.8M278.2 341.2V274.1M282.1 341.2V220.6M286.0 341.2V236.4M289.9 341.2V219.7M293.8 341.2V219.6M297.7 341.2V260.3M301.6 341.2V285.5M305.5 341.2V219.5M309.4 341.2V250.9M313.3 341.2V260.4M317.2 341.2V220.4M321.1 341.2V228.2M325.0 341.2V219.5M328.9 341.2V240.5M332.8 341.2V218.6M340.6 341.2V219.5M344.5 341.2V227.5M348.4 341.2V217.8M352.3 341.2V217.7M356.2 341.2V217.9M360.1 341.2V234.0M364.0 341.2V217.5M367.9 341.2V217.1M371.8 341.2V252.9M375.7 341.2V216.9M379.6 341.2V218.4M383.5 341.2V216.6M387.4 341.2V218.0M391.3 341.2V216.5M395.2 341.2V217.8M399.1 341.2V216.1M403.0 341.2V216.2M406.9 341.2V216.9M410.8 341.2V217.1M414.7 341.2V219.2M418.6 341.2V223.2M422.5 341.2V219.2M426.4 341.2V215.1M430.3 341.2V215.0M434.2 341.2V224.1M438.1 341.2V214.8M441.9 341.2V214.6M445.8 341.2V214.5M449.7 341.2V253.4M453.6 341.2V214.4M457.5 341.2V225.7M461.4 341.2V272.4M465.3 341.2V213.8M469.2 341.2V217.0M473.1 341.2V334.7M477.0 341.2V244.3M480.9 341.2V213.3M484.8 341.2V216.6M492.6 341.2V230.0M496.5 341.2V213.0M500.4 341.2V212.8M504.3 341.2V212.6M508.2 341.2V212.4M512.1 341.2V286.3M516.0 341.2V214.7M519.9 341.2V219.7M523.8 341.2V213.4M527.7 341.2V211.8M531.6 341.2V244.7M535.5 341.2V211.6M539.4 341.2V211.5M543.3 341.2V211.4M547.2 341.2V211.3M551.1 341.2V246.4M555.0 341.2V211.0M558.9 341.2V279.8M562.8 341.2V218.2M566.7 341.2V225.4M570.6 341.2V259.3M574.5 341.2V228.5M578.4 341.2V219.4M582.3 341.2V210.3M586.2 341.2V225.4M590.1 341.2V210.2M594.0 341.2V311.4M597.9 341.2V209.9M601.8 341.2V220.7M605.7 341.2V209.7M609.6 341.2V209.6M613.5 341.2V311.9M617.4 341.2V209.4M621.2 341.2V209.3M625.1 341.2V209.2M629.0 341.2V303.7M632.9 341.2V215.3M636.8 341.2V209.1M640.7 341.2V234.5M644.6 341.2V209.3M648.5 341.2V215.6M652.4 341.2V209.6M656.3 341.2V282.6M660.2 341.2V236.5M664.1 341.2V216.1M668.0 341.2V218.0M671.9 341.2V248.8M675.8 341.2V283.9M679.7 341.2V212.2M683.6 341.2V208.2M687.5 341.2V208.2M691.4 341.2V234.0M695.3 341.2V208.1M699.2 341.2V208.1M703.1 341.2V208.0M707.0 341.2V208.2M710.9 341.2V269.9M714.8 341.2V207.9M718.7 341.2V208.3M722.6 341.2V213.3M726.5 341.2V207.9M730.4 341.2V249.6M734.3 341.2V207.8M738.2 341.2V207.8M742.1 341.2V225.1M746.0 341.2V207.8M749.9 341.2V208.1M753.8 341.2V208.4M757.7 341.2V246.5M761.6 341.2V212.3M765.5 341.2V207.8M769.4 341.2V210.3M773.3 341.2V217.7M777.2 341.2V207.9M781.1 341.2V208.2M785.0 341.2V208.5M788.9 341.2V262.0M792.8 341.2V211.3M796.6 341.2V238.2M800.5 341.2V234.8M804.4 341.2V266.4M812.2 341.2V212.1M816.1 341.2V208.5M820.0 341.2V208.2M823.9 341.2V217.3M827.8 341.2V230.1M831.7 341.2V214.3M839.5 341.2V217.7M843.4 341.2V208.5M847.3 341.2V208.6M851.2 341.2V208.7M855.1 341.2V220.1M862.9 341.2V265.4M866.8 341.2V227.8M870.7 341.2V209.0M874.6 341.2V229.0M878.5 341.2V268.6M882.4 341.2V209.2M886.3 341.2V209.3M890.2 341.2V223.4M894.1 341.2V213.0M898.0 341.2V216.0M901.9 341.2V239.4M905.8 341.2V210.1M909.7 341.2V209.9M913.6 341.2V210.1M921.4 341.2V218.9M925.3 341.2V215.5M929.2 341.2V214.9M933.1 341.2V211.8M937.0 341.2V220.3M940.9 341.2V210.7M944.8 341.2V297.0M948.7 341.2V239.7M952.6 341.2V211.5M956.5 341.2V211.2M964.3 341.2V211.6M968.2 341.2V231.3M972.1 341.2V245.5M975.9 341.2V241.7M979.8 341.2V224.7M983.7 341.2V212.5M987.6 341.2V212.0M991.5 341.2V212.3M995.4 341.2V212.3M999.3 341.2V234.3M1003.2 341.2V212.5M1007.1 341.2V212.6M1011.0 341.2V247.3M1014.9 341.2V213.0M1018.8 341.2V217.0M1022.7 341.2V254.3M1026.6 341.2V242.8M1030.5 341.2V213.4M1034.4 341.2V224.9M1038.3 341.2V220.4M1042.2 341.2V213.9M1046.1 341.2V216.7M1050.0 341.2V214.2M1053.9 341.2V224.7M1057.8 341.2V214.4M1061.7 341.2V214.8M1065.6 341.2V258.8M1069.5 341.2V308.1M1073.4 341.2V229.1M1077.3 341.2V216.1M1081.2 341.2V220.8M1085.1 341.2V216.0M1089.0 341.2V215.5M1092.9 341.2V258.3M1096.8 341.2V218.6M1100.7 341.2V215.7M1104.6 341.2V216.1M1108.5 341.2V216.4M1112.4 341.2V218.3M1116.3 341.2V216.3M1120.2 341.2V216.5M1128.0 341.2V218.7M1131.9 341.2V217.3M1135.8 341.2V219.1M1139.7 341.2V255.4M1143.6 341.2V222.4M1147.5 341.2V217.5M1151.4 341.2V222.6M1155.2 341.2V231.2M1163.0 341.2V220.2M1166.9 341.2V218.0M1170.8 341.2V289.0M1174.7 341.2V241.8M1178.6 341.2V332.3M1182.5 341.2V218.9M1186.4 341.2V218.6M1190.3 341.2V262.8M1198.1 341.2V219.1M1202.0 341.2V233.2M1205.9 341.2V230.7M1209.8 341.2V222.5M1213.7 341.2V279.5M1225.4 341.2V241.4M1229.3 341.2V220.0M1237.1 341.2V221.4M1241.0 341.2V220.5M1244.9 341.2V241.1M1248.8 341.2V221.1M1252.7 341.2V225.9M1260.5 341.2V316.9M1268.3 341.2V258.7M1272.2 341.2V221.6M1280.0 341.2V281.0M1283.9 341.2V240.8M1291.7 341.2V224.6M1299.5 341.2V259.4M1303.4 341.2V263.6M1311.2 341.2V222.2M1315.1 341.2V257.7M1322.9 341.2V255.4M1326.8 341.2V227.4M1334.5 341.2V222.9M1338.4 341.2V240.9M1342.3 341.2V223.0M1346.2 341.2V288.3M1350.1 341.2V223.2M1354.0 341.2V233.7M1357.9 341.2V225.8M1365.7 341.2V225.8M1369.6 341.2V233.7M1377.4 341.2V277.6M1381.3 341.2V225.8M1385.2 341.2V234.4M1389.1 341.2V224.8M1393.0 341.2V265.9M1400.8 341.2V226.4M1408.6 341.2V238.2M1416.4 341.2V226.1M1424.2 341.2V267.4M1428.1 341.2V225.7M1432.0 341.2V244.0M1439.8 341.2V244.1M1447.6 341.2V271.7M1451.5 341.2V257.8M1455.4 341.2V224.4M1467.1 341.2V236.1M1474.9 341.2V313.3M1482.7 341.2V316.8M1490.5 341.2V224.6M1498.3 341.2V230.2M1502.2 341.2V270.9M1506.1 341.2V257.0"/><path stroke="#ff00ff" stroke-opacity="0.05" d="M87.2 206.5V248.9M91.1 204.0V253.4M95.0 206.1V257.9M98.9 206.3V244.4M102.8 200.4V262.4M106.7 215.3V251.5M110.6 217.6V258.2M114.5 216.6V254.6M118.4 223.9V258.8M122.3 212.3V253.9M126.2 213.6V258.0M130.1 217.8V252.4M134.0 224.3V264.1M137.9 223.4V266.9M141.8 211.3V260.4M145.7 220.2V250.7M149.6 205.5V258.2M153.5 200.6V238.3M157.4 201.1V248.1M161.3 218.7V243.1M165.2 219.4V262.5M169.1 203.6V265.2M173.0 208.3V266.5M176.9 213.9V268.5M180.8 216.3V272.8M184.7 207.5V265.1M188.6 222.9V264.6M192.5 204.6V243.2M196.4 202.4V246.7M200.3 212.7V245.2M204.2 202.5V264.3M208.1 228.0V243.3M212.0 227.0V232.4M215.9 211.9V248.9M219.8 192.9V256.7M223.7 208.7V257.9M227.6 218.7V239.9M231.5 210.7V254.0M235.4 205.1V258.4M239.3 210.4V265.3M243.2 213.3V252.8M247.1 192.0V241.8M251.0 205.4V251.5M254.9 218.8V238.5M258.8 213.7V240.2M262.7 194.3V249.4M266.5 190.5V242.1M270.4 195.6V232.3M274.3 210.4V227.2M278.2 205.7V230.9M282.1 173.5V225.7M286.0 179.6V234.0M289.9 177.7V235.1M293.8 203.5V223.1M297.7 204.0V232.5M301.6 205.4V242.4M305.5 180.8V250.1M309.4 189.8V247.7M313.3 191.4V256.9M317.2 196.5V253.3M321.1 226.2V252.7M325.0 194.1V244.3M328.9 213.6V248.9M332.8 207.4V241.1M336.7 216.3V236.0M340.6 208.5V227.0M344.5 202.7V220.5M348.4 200.2V213.0M352.3 173.8V222.9M356.2 194.3V236.4M360.1 193.1V226.6M364.0 181.4V224.5M367.9 187.8V229.7M371.8 192.4V222.8M375.7 162.8V210.6M379.6 163.0V216.5M383.5 184.0V225.3M387.4 180.2V225.0M391.3 193.2V233.1M395.2 182.1V215.4M399.1 200.7V230.2M403.0 181.0V236.0M406.9 176.5V223.6M410.8 174.5V226.2M414.7 177.7V234.6M418.6 176.1V222.9M422.5 188.8V215.2M426.4 183.0V230.8M430.3 173.0V222.2M434.2 169.8V215.2M438.1 184.9V205.7M441.9 173.4V210.0M445.8 189.2V209.9M449.7 191.0V213.9M453.6 193.1V211.7M457.5 190.8V203.9M461.4 183.6V206.3M465.3 170.1V215.8M469.2 158.5V216.9M473.1 160.1V204.7M477.0 175.2V218.5M480.9 164.7V221.2M484.8 156.5V222.9M488.7 173.5V211.6M492.6 187.1V219.3M496.5 181.4V220.3M500.4 153.3V218.6M504.3 166.2V213.9M508.2 171.0V211.1M512.1 162.7V220.3M516.0 181.0V224.7M519.9 188.8V228.5M523.8 180.9V214.8M527.7 165.5V216.1M531.6 171.1V213.9M535.5 177.5V213.7M539.4 192.1V221.7M543.3 161.6V226.1M547.2 178.5V225.0M551.1 157.6V207.2M555.0 169.5V210.9M558.9 154.5V207.6M562.8 140.8V213.6M566.7 161.7V197.8M570.6 156.1V202.5M574.5 151.6V213.0M578.4 143.7V212.5M582.3 156.1V208.2M586.2 146.0V202.6M590.1 152.6V206.3M594.0 167.3V203.2M597.9 153.8V203.4M601.8 144.4V203.8M605.7 152.8V207.0M609.6 158.1V204.7M613.5 151.5V200.2M617.4 138.9V203.2M621.2 162.4V206.2M625.1 150.7V193.1M629.0 134.9V196.3M632.9 156.6V198.1M636.8 152.6V208.7M640.7 155.7V202.1M644.6 154.2V211.2M648.5 144.4V202.9M652.4 167.9V202.6M656.3 168.6V206.0M660.2 177.4V208.4M664.1 171.0V205.8M668.0 146.1V206.8M671.9 162.2V212.7M675.8 164.3V203.8M679.7 166.5V210.1M683.6 157.7V207.5M687.5 160.1V207.3M691.4 165.5V199.0M695.3 168.0V207.1M699.2 163.3V201.1M703.1 171.0V200.2M707.0 185.8V212.5M710.9 159.6V213.0M714.8 156.2V210.4M718.7 161.3V210.5M722.6 159.7V205.7M726.5 150.6V202.0M730.4 160.8V198.3M734.3 157.7V203.2M738.2 161.4V200.9M742.1 146.9V202.7M746.0 173.6V200.7M749.9 177.5V202.0M753.8 153.3V202.5M757.7 165.5V203.9M761.6 167.9V201.5M765.5 173.1V201.9M769.4 186.1V206.2M773.3 172.0V212.6M777.2 157.8V204.4M781.1 154.2V201.2M785.0 166.9V202.9M788.9 166.8V199.2M792.8 146.6V202.0M796.6 153.7V203.7M800.5 164.2V205.8M804.4 152.7V200.6M808.3 158.0V196.0M812.2 175.3V201.4M816.1 174.6V205.7M820.0 157.9V201.5M823.9 159.6V200.1M827.8 159.8V200.4M831.7 153.1V208.3M835.6 163.0V205.8M839.5 174.6V205.0M843.4 166.7V206.4M847.3 168.4V204.3M851.2 163.5V205.5M855.1 167.8V204.1M859.0 170.1V204.9M862.9 177.5V206.3M866.8 165.3V199.6M870.7 143.9V202.7M874.6 162.7V201.9M878.5 149.8V200.3M882.4 147.9V206.5M886.3 159.2V206.8M890.2 168.3V209.5M894.1 158.5V208.3M898.0 161.8V211.4M901.9 162.9V205.4M905.8 165.1V205.6M909.7 144.2V210.4M913.6 166.5V206.4M917.5 158.6V210.0M921.4 141.1V213.4M925.3 148.5V208.2M929.2 133.8V207.0M933.1 146.3V209.3M937.0 151.0V205.1M940.9 147.7V204.0M944.8 160.0V204.5M948.7 159.2V201.6M952.6 153.7V202.8M956.5 162.5V199.9M960.4 156.4V201.8M964.3 147.5V202.8M968.2 164.1V215.1M972.1 162.7V212.0M975.9 157.1V202.1M979.8 164.8V206.4M983.7 152.6V206.9M987.6 144.5V208.4M991.5 157.3V214.3M995.4 156.2V208.3M999.3 164.0V200.4M1003.2 163.4V197.3M1007.1 157.8V203.1M1011.0 161.0V208.8M1014.9 159.9V210.4M1018.8 165.4V207.2M1022.7 153.3V209.4M1026.6 150.0V205.8M1030.5 163.1V206.2M1034.4 159.1V212.9M1038.3 138.0V216.1M1042.2 156.6V209.4M1046.1 149.1V206.0M1050.0 133.5V208.1M1053.9 152.8V202.8M1057.8 153.2V207.0M1061.7 181.4V210.2M1065.6 162.4V210.8M1069.5 159.8V208.4M1073.4 156.8V220.3M1077.3 161.4V215.1M1081.2 156.5V212.5M1085.1 152.8V215.8M1089.0 154.7V217.5M1092.9 164.9V208.8M1096.8 169.0V212.3M1100.7 169.3V213.3M1104.6 172.0V208.2M1108.5 179.0V215.8M1112.4 186.7V202.2M1116.3 180.2V210.7M1120.2 184.5V214.7M1124.1 182.1V220.8M1128.0 189.2V220.0M1131.9 193.7V221.6M1135.8 188.3V220.2M1139.7 184.7V223.1M1143.6 164.3V231.6M1147.5 172.9V217.4M1151.4 169.1V212.7M1155.2 172.2V210.9M1159.1 175.7V210.8M1163.0 182.2V210.6M1166.9 179.3V218.1M1170.8 179.2V201.4M1174.7 192.1V213.2M1178.6 185.3V222.9M1182.5 187.8V208.7M1186.4 197.9V216.1M1190.3 197.8V217.1M1194.2 188.8V224.1M1198.1 183.0V223.1M1202.0 186.6V218.2M1205.9 180.3V216.7M1209.8 179.8V225.3M1213.7 193.8V217.7M1217.6 198.0V223.2M1221.5 191.5V230.7M1225.4 195.8V219.6M1229.3 196.4V217.6M1233.2 191.2V220.0M1237.1 192.2V224.7M1241.0 195.2V217.7M1244.9 201.2V220.7M1248.8 183.4V224.9M1252.7 195.5V219.5M1256.6 195.9V218.6M1260.5 187.1V227.6M1264.4 190.1V217.0M1268.3 196.9V230.2M1272.2 201.7V231.6M1276.1 190.4V225.1M1280.0 187.2V224.9M1283.9 202.3V219.3M1287.8 206.5V218.0M1291.7 196.5V236.4M1295.6 185.7V222.0M1299.5 193.5V226.6M1303.4 188.4V225.7M1307.3 201.4V230.3M1311.2 208.4V234.7M1315.1 209.4V225.8M1319.0 199.2V222.4M1322.9 196.0V222.2M1326.8 191.3V228.1M1330.6 204.1V216.6M1334.5 189.6V218.7M1338.4 195.1V218.4M1342.3 179.1V221.7M1346.2 185.9V222.1M1350.1 202.3V216.9M1354.0 199.7V215.2M1357.9 203.7V214.1M1361.8 190.7V220.7M1365.7 192.8V224.3M1369.6 187.3V235.6M1373.5 198.4V235.1M1377.4 204.2V238.1M1381.3 201.3V242.3M1385.2 200.6V238.9M1389.1 207.7V237.3M1393.0 201.2V243.0M1396.9 193.5V254.1M1400.8 201.0V249.2M1404.7 206.2V245.1M1408.6 209.0V241.0M1412.5 202.7V248.9M1416.4 204.8V256.6M1420.3 201.6V265.2M1424.2 194.8V254.7M1428.1 202.6V254.4M1432.0 206.4V244.6M1435.9 208.5V256.4M1439.8 195.4V239.6M1443.7 201.6V243.8M1447.6 203.3V246.2M1451.5 207.1V244.4M1455.4 199.4V238.9M1459.3 199.5V235.3M1463.2 212.0V255.5M1467.1 201.5V255.0M1471.0 200.5V246.4M1474.9 193.7V240.9M1478.8 195.7V241.2M1482.7 201.4V250.5M1486.6 211.8V244.3M1490.5 201.0V246.2M1494.4 193.6V245.6M1498.3 206.9V235.2M1502.2 207.0V241.0M1506.1 202.9V239.2"/><path stroke="#c4c446" stroke-opacity="0.082" d="M91.1 341.2V250.9M95.0 341.2V231.0M102.8 341.2V229.9M106.7 341.2V223.9M110.6 341.2V232.5M114.5 341.2V225.2M118.4 341.2V225.7M126.2 341.2V233.0M130.1 341.2V224.2M134.0 341.2V326.6M137.9 341.2V230.5M141.8 341.2V234.8M145.7 341.2V251.7M149.6 341.2V330.1M153.5 341.2V244.6M157.4 341.2V223.1M161.3 341.2V321.4M165.2 341.2V234.4M169.1 341.2V226.9M176.9 341.2V288.1M180.8 341.2V297.2M184.7 341.2V222.8M188.6 341.2V285.5M192.5 341.2V309.5M196.4 341.2V222.8M200.3 341.2V227.7M208.1 341.2V290.8M215.9 341.2V230.4M223.7 341.2V221.7M227.6 341.2V222.1M231.5 341.2V238.4M235.4 341.2V254.6M239.3 341.2V221.2M243.2 341.2V221.4M254.9 341.2V220.8M258.8 341.2V226.6M262.7 341.2V231.2M266.5 341.2V244.4M270.4 341.2V292.9M274.3 341.2V221.4M282.1 341.2V273.4M286.0 341.2V249.9M289.9 341.2V239.5M293.8 341.2V239.2M297.7 341.2V254.8M301.6 341.2V219.9M309.4 341.2V222.5M313.3 341.2V242.6M317.2 341.2V222.3M321.1 341.2V249.3M325.0 341.2V224.6M328.9 341.2V218.6M332.8 341.2V218.3M336.7 341.2V218.2M340.6 341.2V218.0M344.5 341.2V223.9M348.4 341.2V219.3M352.3 341.2V230.3M356.2 341.2V217.5M360.1 341.2V295.2M364.0 341.2V246.2M367.9 341.2V231.6M371.8 341.2V217.4M375.7 341.2V259.0M379.6 341.2V223.7M383.5 341.2V227.2M387.4 341.2V216.9M391.3 341.2V216.4M395.2 341.2V299.3M399.1 341.2V216.1M403.0 341.2V218.1M406.9 341.2V215.9M410.8 341.2V220.0M414.7 341.2V226.8M418.6 341.2V215.4M422.5 341.2V215.4M426.4 341.2V215.3M430.3 341.2V215.0M434.2 341.2V321.5M438.1 341.2V242.7M441.9 341.2V218.9M445.8 341.2V216.0M449.7 341.2V214.4M453.6 341.2V215.4M457.5 341.2V214.5M461.4 341.2V214.0M465.3 341.2V214.2M469.2 341.2V213.7M473.1 341.2V215.9M477.0 341.2V227.4M480.9 341.2V213.4M484.8 341.2V218.8M488.7 341.2V213.1M492.6 341.2V242.5M496.5 341.2V212.9M500.4 341.2V212.7M504.3 341.2V212.6M508.2 341.2V212.7M512.1 341.2V234.1M519.9 341.2V215.4M523.8 341.2V213.4M527.7 341.2V211.9M531.6 341.2V211.8M535.5 341.2V232.1M539.4 341.2V228.1M543.3 341.2V211.4M547.2 341.2V247.0M551.1 341.2V212.4M555.0 341.2V213.6M558.9 341.2V234.5M562.8 341.2V211.1M566.7 341.2V216.2M570.6 341.2V237.8M574.5 341.2V210.5M578.4 341.2V210.4M582.3 341.2V213.0M586.2 341.2V216.2M590.1 341.2V213.1M594.0 341.2V214.7M597.9 341.2V209.9M601.8 341.2V210.2M605.7 341.2V214.2M609.6 341.2V209.6M613.5 341.2V209.5M617.4 341.2V210.9M621.2 341.2V209.4M625.1 341.2V209.3M629.0 341.2V252.5M632.9 341.2V209.1M636.8 341.2V209.0M640.7 341.2V214.7M644.6 341.2V208.9M648.5 341.2V209.1M652.4 341.2V281.7M656.3 341.2V228.6M660.2 341.2V209.1M664.1 341.2V304.3M668.0 341.2V213.1M671.9 341.2V208.4M675.8 341.2V246.6M679.7 341.2V255.5M683.6 341.2V208.3M687.5 341.2V208.2M691.4 341.2V208.2M695.3 341.2V208.1M699.2 341.2V235.6M703.1 341.2V208.0M707.0 341.2V249.0M710.9 341.2V244.3M714.8 341.2V208.5M718.7 341.2V292.0M722.6 341.2V208.2M726.5 341.2V275.0M730.4 341.2V207.8M734.3 341.2V207.8M738.2 341.2V215.6M742.1 341.2V219.5M746.0 341.2V226.3M749.9 341.2V251.7M753.8 341.2V236.0M757.7 341.2V267.3M761.6 341.2V208.7M765.5 341.2V293.7M769.4 341.2V207.8M773.3 341.2V216.8M777.2 341.2V249.0M781.1 341.2V216.6M785.0 341.2V328.7M788.9 341.2V213.0M792.8 341.2V212.6M796.6 341.2V208.0M800.5 341.2V211.1M804.4 341.2V209.9M808.3 341.2V208.1M812.2 341.2V266.4M816.1 341.2V208.5M820.0 341.2V262.7M823.9 341.2V208.9M827.8 341.2V213.0M835.6 341.2V234.5M839.5 341.2V283.3M843.4 341.2V208.7M847.3 341.2V208.6M851.2 341.2V210.7M855.1 341.2V210.2M859.0 341.2V209.0M862.9 341.2V208.8M866.8 341.2V223.5M870.7 341.2V211.7M874.6 341.2V209.0M882.4 341.2V282.0M886.3 341.2V210.3M890.2 341.2V209.6M894.1 341.2V210.4M898.0 341.2V223.3M905.8 341.2V209.7M909.7 341.2V220.3M913.6 341.2V223.5M917.5 341.2V212.1M921.4 341.2V210.1M925.3 341.2V215.3M929.2 341.2V210.3M933.1 341.2V210.5M937.0 341.2V210.5M940.9 341.2V220.0M944.8 341.2V277.6M948.7 341.2V288.5M952.6 341.2V211.0M956.5 341.2V232.8M960.4 341.2V299.8M964.3 341.2V225.9M968.2 341.2V289.7M972.1 341.2V214.4M975.9 341.2V224.6M979.8 341.2V298.5M983.7 341.2V211.9M987.6 341.2V214.6M991.5 341.2V215.8M995.4 341.2V213.6M999.3 341.2V212.4M1003.2 341.2V212.5M1007.1 341.2V212.8M1011.0 341.2V252.6M1014.9 341.2V225.6M1018.8 341.2V221.7M1022.7 341.2V271.4M1026.6 341.2V213.3M1030.5 341.2V213.4M1034.4 341.2V223.8M1038.3 341.2V214.9M1042.2 341.2V225.5M1046.1 341.2V214.2M1050.0 341.2V214.4M1053.9 341.2V216.2M1057.8 341.2V215.0M1061.7 341.2V228.0M1069.5 341.2V214.8M1073.4 341.2V216.4M1077.3 341.2V214.9M1081.2 341.2V228.7M1085.1 341.2V268.2M1089.0 341.2V219.1M1092.9 341.2V215.5M1096.8 341.2V215.9M1100.7 341.2V215.8M1104.6 341.2V215.9M1108.5 341.2V217.4M1112.4 341.2V230.0M1116.3 341.2V219.9M1120.2 341.2V216.4M1124.1 341.2V225.7M1128.0 341.2V218.1M1135.8 341.2V216.9M1139.7 341.2V219.6M1143.6 341.2V242.8M1147.5 341.2V217.9M1151.4 341.2V238.3M1159.1 341.2V219.2M1163.0 341.2V219.4M1166.9 341.2V223.0M1170.8 341.2V223.3M1174.7 341.2V291.5M1182.5 341.2V228.2M1186.4 341.2V218.6M1190.3 341.2V224.2M1194.2 341.2V223.4M1198.1 341.2V235.0M1205.9 341.2V246.8M1209.8 341.2V228.9M1213.7 341.2V219.5M1217.6 341.2V219.6M1225.4 341.2V223.0M1233.2 341.2V220.1M1237.1 341.2V221.6M1241.0 341.2V224.4M1244.9 341.2V220.9M1248.8 341.2V224.3M1252.7 341.2V266.6M1260.5 341.2V230.8M1264.4 341.2V221.0M1268.3 341.2V296.9M1276.1 341.2V232.3M1280.0 341.2V223.6M1283.9 341.2V317.5M1287.8 341.2V246.5M1291.7 341.2V241.9M1295.6 341.2V288.6M1299.5 341.2V230.2M1303.4 341.2V222.4M1307.3 341.2V225.0M1311.2 341.2V222.5M1315.1 341.2V222.3M1319.0 341.2V261.9M1326.8 341.2V232.2M1330.6 341.2V222.7M1334.5 341.2V227.0M1346.2 341.2V229.2M1350.1 341.2V223.2M1354.0 341.2V223.1M1357.9 341.2V244.4M1361.8 341.2V272.5M1365.7 341.2V224.8M1369.6 341.2V243.0M1373.5 341.2V223.7M1385.2 341.2V258.7M1396.9 341.2V257.3M1400.8 341.2V240.1M1404.7 341.2V246.9M1408.6 341.2V227.6M1416.4 341.2V224.9M1420.3 341.2V224.0M1428.1 341.2V232.4M1435.9 341.2V292.5M1439.8 341.2V250.3M1443.7 341.2V300.7M1447.6 341.2V265.7M1455.4 341.2V256.5M1459.3 341.2V275.0M1482.7 341.2V245.0M1502.2 341.2V229.1M1506.1 341.2V270.4"/><path stroke="#ff00ff" stroke-opacity="0.05" d="M87.2 191.6V258.1M91.1 210.6V262.4M95.0 218.5V250.1M98.9 230.7V246.6M102.8 209.9V252.1M106.7 210.3V262.6M110.6 213.8V253.9M114.5 211.5V257.8M118.4 219.9V248.7M122.3 208.9V256.8M126.2 216.1V253.7M130.1 204.0V250.7M134.0 203.6V256.5M137.9 206.2V250.6M141.8 202.0V263.2M145.7 207.0V247.6M149.6 207.6V253.9M153.5 197.0V257.1M157.4 187.5V256.7M161.3 192.5V257.8M165.2 187.5V261.2M169.1 211.2V255.5M173.0 207.8V259.2M176.9 207.4V258.3M180.8 211.0V253.9M184.7 203.8V254.6M188.6 187.5V259.6M192.5 191.7V248.9M196.4 188.0V233.9M200.3 183.6V247.0M204.2 181.5V241.3M208.1 191.7V251.1M212.0 203.0V252.3M215.9 192.1V259.3M219.8 189.0V258.5M223.7 199.7V259.3M227.6 185.4V254.3M231.5 201.2V253.5M235.4 212.9V232.7M239.3 207.5V246.9M243.2 216.8V241.9M247.1 210.3V237.6M251.0 206.0V256.3M254.9 208.9V265.2M258.8 204.0V248.7M262.7 214.3V256.9M266.5 229.1V253.9M270.4 206.6V271.1M274.3 194.0V266.9M278.2 188.1V257.8M282.1 197.3V242.1M286.0 193.1V226.6M289.9 198.5V239.8M293.8 185.3V229.5M297.7 202.5V235.5M301.6 195.5V239.8M305.5 199.4V241.3M309.4 188.2V241.7M313.3 188.9V251.1M317.2 209.5V244.2M321.1 203.1V248.3M325.0 207.1V238.7M328.9 191.9V215.8M332.8 178.8V234.0M336.7 196.7V220.8M340.6 185.7V234.4M344.5 197.6V235.1M348.4 197.2V225.3M352.3 188.5V224.1M356.2 170.7V218.4M360.1 171.1V214.3M364.0 168.9V224.0M367.9 182.1V230.6M371.8 184.3V225.5M375.7 175.7V223.7M379.6 177.1V214.2M383.5 177.8V237.0M387.4 175.0V225.6M391.3 157.6V223.6M395.2 152.4V228.2M399.1 149.0V234.0M403.0 160.3V236.6M406.9 180.4V237.5M410.8 195.2V221.0M414.7 185.6V223.6M418.6 194.9V226.6M422.5 210.9V225.5M426.4 198.1V221.2M430.3 160.0V217.5M434.2 168.1V220.3M438.1 170.1V222.6M441.9 173.3V227.0M445.8 171.8V224.2M449.7 188.8V223.0M453.6 177.7V225.2M457.5 165.6V224.1M461.4 165.8V213.8M465.3 165.3V211.3M469.2 168.0V213.1M473.1 161.0V208.4M477.0 179.6V212.3M480.9 198.8V208.1M484.8 190.6V212.9M488.7 181.0V206.6M492.6 168.6V208.8M496.5 178.4V214.8M500.4 172.5V222.9M504.3 171.9V219.1M508.2 162.6V217.1M512.1 171.8V223.2M516.0 163.5V221.0M519.9 157.8V221.9M523.8 166.7V217.2M527.7 169.4V223.5M531.6 174.1V219.2M535.5 178.9V206.1M539.4 180.0V204.6M543.3 185.2V209.0M547.2 167.4V202.6M551.1 161.7V209.2M555.0 164.4V205.8M558.9 162.9V206.6M562.8 162.6V210.4M566.7 146.7V207.4M570.6 145.2V196.6M574.5 156.8V206.7M578.4 151.9V211.5M582.3 173.1V201.6M586.2 171.8V207.5M590.1 173.8V207.9M594.0 163.8V209.6M597.9 167.4V211.7M601.8 171.6V207.0M605.7 173.1V211.5M609.6 180.8V213.8M613.5 183.5V211.4M617.4 181.5V206.6M621.2 167.0V200.1M625.1 160.8V203.5M629.0 152.9V200.9M632.9 139.7V197.5M636.8 140.7V199.9M640.7 168.0V199.3M644.6 169.7V203.6M648.5 149.5V211.8M652.4 152.6V205.4M656.3 151.9V210.4M660.2 152.9V205.4M664.1 168.7V208.8M668.0 159.1V211.7M671.9 159.5V208.6M675.8 167.5V211.6M679.7 158.4V207.6M683.6 141.2V206.5M687.5 150.3V206.0M691.4 164.8V198.9M695.3 161.2V198.1M699.2 166.5V201.7M703.1 182.9V199.4M707.0 173.3V199.8M710.9 160.6V202.7M714.8 166.4V207.8M718.7 161.5V208.0M722.6 159.4V198.3M726.5 161.2V200.5M730.4 161.6V199.7M734.3 161.1V195.1M738.2 160.5V201.7M742.1 159.0V198.4M746.0 152.4V210.0M749.9 158.2V210.3M753.8 164.1V214.6M757.7 155.3V209.0M761.6 161.4V206.1M765.5 139.2V207.5M769.4 149.7V207.9M773.3 134.9V195.2M777.2 143.1V198.1M781.1 146.9V199.2M785.0 143.5V205.0M788.9 146.2V207.7M792.8 152.6V205.5M796.6 157.9V206.4M800.5 165.8V206.4M804.4 170.1V206.9M808.3 156.1V212.5M812.2 178.6V207.7M816.1 152.8V205.9M820.0 146.9V203.8M823.9 155.2V202.3M827.8 141.0V197.5M831.7 132.6V203.2M835.6 135.3V203.8M839.5 168.5V200.0M843.4 181.4V204.3M847.3 164.0V201.0M851.2 171.9V205.3M855.1 161.5V207.3M859.0 163.7V210.6M862.9 157.6V208.8M866.8 161.0V199.9M870.7 159.8V196.3M874.6 174.5V200.9M878.5 167.1V201.6M882.4 171.0V199.7M886.3 155.5V206.8M890.2 163.4V208.0M894.1 157.2V207.8M898.0 152.9V213.9M901.9 157.5V213.0M905.8 165.9V212.0M909.7 161.4V210.4M913.6 161.7V209.3M917.5 153.7V216.2M921.4 165.1V209.8M925.3 173.0V210.1M929.2 160.1V206.8M933.1 157.8V204.6M937.0 148.2V206.4M940.9 141.9V200.1M944.8 167.7V209.8M948.7 161.6V208.5M952.6 159.5V207.5M956.5 159.2V202.0M960.4 151.2V204.9M964.3 138.2V204.0M968.2 150.9V204.9M972.1 156.8V198.5M975.9 152.7V204.0M979.8 149.9V208.9M983.7 156.4V209.9M987.6 150.8V207.0M991.5 143.6V201.9M995.4 157.3V213.5M999.3 148.1V215.4M1003.2 162.1V206.3M1007.1 150.8V208.8M1011.0 165.0V211.4M1014.9 172.1V211.8M1018.8 180.6V213.8M1022.7 175.7V215.8M1026.6 171.3V212.3M1030.5 170.3V214.2M1034.4 172.3V205.1M1038.3 172.5V218.2M1042.2 175.2V212.2M1046.1 175.9V214.7M1050.0 171.7V205.7M1053.9 176.3V212.9M1057.8 172.3V210.0M1061.7 181.6V203.6M1065.6 188.7V205.2M1069.5 173.4V211.5M1073.4 180.0V212.6M1077.3 175.3V211.5M1081.2 182.9V205.1M1085.1 191.3V208.0M1089.0 194.3V207.3M1092.9 191.5V214.9M1096.8 170.7V213.4M1100.7 178.4V207.2M1104.6 173.9V211.2M1108.5 177.4V214.3M1112.4 175.0V215.4M1116.3 185.6V208.8M1120.2 171.1V208.7M1124.1 172.0V209.3M1128.0 178.5V215.2M1131.9 171.6V223.6M1135.8 187.9V214.1M1139.7 189.6V217.0M1143.6 182.6V212.1M1147.5 170.6V211.6M1151.4 180.9V217.3M1155.2 169.8V223.3M1159.1 169.6V215.6M1163.0 184.3V228.7M1166.9 182.4V236.9M1170.8 177.9V219.2M1174.7 189.5V224.0M1178.6 180.0V220.7M1182.5 194.5V214.0M1186.4 183.7V204.7M1190.3 180.0V218.3M1194.2 175.2V220.2M1198.1 177.8V214.8M1202.0 182.5V217.6M1205.9 196.0V223.7M1209.8 182.8V216.4M1213.7 182.9V228.5M1217.6 181.8V218.6M1221.5 189.7V219.9M1225.4 203.4V220.3M1229.3 194.3V224.7M1233.2 198.0V224.3M1237.1 194.8V216.4M1241.0 189.8V217.3M1244.9 198.5V212.7M1248.8 192.6V213.7M1252.7 196.9V220.3M1256.6 198.2V223.1M1260.5 191.1V222.7M1264.4 200.9V225.8M1268.3 200.8V216.1M1272.2 198.9V227.2M1276.1 190.8V215.1M1280.0 193.4V224.3M1283.9 190.4V230.3M1287.8 199.5V228.1M1291.7 206.5V235.0M1295.6 202.2V219.9M1299.5 190.0V212.6M1303.4 190.2V210.2M1307.3 195.9V207.0M1311.2 200.0V208.7M1315.1 190.4V229.3M1319.0 189.8V223.7M1322.9 201.8V229.8M1326.8 211.0V222.8M1330.6 192.5V226.6M1334.5 193.9V229.8M1338.4 195.4V234.5M1342.3 194.2V227.3M1346.2 196.4V220.5M1350.1 198.0V231.6M1354.0 198.4V227.8M1357.9 210.7V225.7M1361.8 206.9V228.8M1365.7 206.2V231.5M1369.6 196.4V223.8M1373.5 192.2V219.4M1377.4 199.1V221.8M1381.3 201.4V223.7M1385.2 201.5V224.8M1389.1 188.9V235.9M1393.0 188.9V238.2M1396.9 201.4V239.2M1400.8 192.9V247.6M1404.7 206.0V239.0M1408.6 197.8V226.4M1412.5 201.3V219.0M1416.4 212.9V233.6M1420.3 213.3V243.2M1424.2 211.7V251.0M1428.1 201.4V242.9M1432.0 194.4V245.1M1435.9 214.5V236.2M1439.8 214.9V250.3M1443.7 203.0V247.1M1447.6 201.5V251.7M1451.5 200.6V247.0M1455.4 199.2V248.6M1459.3 197.6V262.8M1463.2 192.6V247.9M1467.1 203.2V246.8M1471.0 222.8V245.3M1474.9 211.6V246.6M1478.8 214.6V254.4M1482.7 224.1V250.2M1486.6 215.6V242.0M1490.5 217.5V230.5M1494.4 213.2V236.8M1498.3 226.4V246.1M1502.2 213.1V236.6M1506.1 210.9V243.3"/><path stroke="#c4c446" stroke-opacity="0.082" d="M87.2 341.2V230.5M91.1 341.2V225.9M95.0 341.2V264.1M98.9 341.2V224.0M110.6 341.2V325.3M114.5 341.2V297.5M118.4 341.2V270.4M122.3 341.2V229.7M130.1 341.2V237.2M134.0 341.2V322.5M145.7 341.2V230.8M153.5 341.2V252.2M161.3 341.2V223.0M165.2 341.2V223.0M169.1 341.2V251.5M180.8 341.2V295.6M184.7 341.2V294.6M188.6 341.2V248.1M196.4 341.2V269.2M200.3 341.2V312.0M215.9 341.2V231.7M219.8 341.2V250.6M223.7 341.2V309.4M231.5 341.2V223.1M235.4 341.2V230.5M239.3 341.2V268.2M247.1 341.2V225.8M251.0 341.2V220.9M254.9 341.2V249.6M258.8 341.2V220.6M266.5 341.2V224.1M274.3 341.2V260.4M278.2 341.2V223.1M286.0 341.2V260.7M289.9 341.2V219.7M293.8 341.2V301.2M297.7 341.2V226.5M301.6 341.2V229.3M309.4 341.2V219.1M313.3 341.2V219.2M317.2 341.2V253.0M321.1 341.2V222.3M325.0 341.2V231.1M328.9 341.2V251.1M332.8 341.2V219.9M340.6 341.2V251.1M344.5 341.2V218.5M348.4 341.2V217.8M352.3 341.2V217.8M356.2 341.2V218.3M360.1 341.2V223.6M364.0 341.2V218.8M367.9 341.2V257.9M371.8 341.2V220.0M375.7 341.2V218.0M379.6 341.2V222.9M383.5 341.2V258.8M387.4 341.2V216.6M391.3 341.2V216.3M395.2 341.2V216.2M399.1 341.2V236.9M403.0 341.2V296.2M406.9 341.2V219.9M410.8 341.2V320.5M414.7 341.2V219.3M418.6 341.2V215.4M422.5 341.2V215.7M426.4 341.2V221.2M430.3 341.2V215.4M434.2 341.2V215.9M438.1 341.2V241.9M441.9 341.2V231.6M445.8 341.2V214.5M449.7 341.2V237.8M453.6 341.2V236.4M457.5 341.2V252.5M461.4 341.2V218.5M465.3 341.2V213.8M469.2 341.2V219.9M473.1 341.2V233.0M477.0 341.2V323.2M480.9 341.2V213.3M484.8 341.2V281.8M488.7 341.2V274.7M492.6 341.2V236.7M496.5 341.2V221.2M500.4 341.2V213.2M504.3 341.2V242.4M508.2 341.2V233.9M512.1 341.2V212.4M516.0 341.2V212.4M519.9 341.2V212.2M523.8 341.2V253.3M527.7 341.2V306.2M531.6 341.2V212.1M535.5 341.2V308.3M539.4 341.2V290.7M543.3 341.2V211.4M547.2 341.2V273.3M551.1 341.2V211.1M555.0 341.2V211.1M558.9 341.2V212.1M562.8 341.2V245.9M566.7 341.2V211.9M570.6 341.2V210.6M574.5 341.2V286.8M578.4 341.2V211.4M582.3 341.2V210.3M586.2 341.2V210.6M590.1 341.2V210.1M594.0 341.2V210.0M597.9 341.2V259.1M601.8 341.2V220.0M605.7 341.2V211.7M609.6 341.2V209.6M613.5 341.2V209.5M617.4 341.2V209.4M621.2 341.2V209.4M625.1 341.2V242.4M629.0 341.2V209.2M632.9 341.2V211.0M636.8 341.2V209.7M640.7 341.2V209.0M644.6 341.2V253.6M648.5 341.2V209.9M652.4 341.2V209.6M656.3 341.2V249.4M660.2 341.2V231.2M664.1 341.2V220.9M668.0 341.2V270.9M671.9 341.2V208.4M675.8 341.2V228.1M679.7 341.2V208.3M683.6 341.2V208.2M687.5 341.2V208.2M691.4 341.2V227.7M695.3 341.2V208.2M699.2 341.2V238.5M703.1 341.2V208.4M707.0 341.2V208.0M710.9 341.2V215.4M714.8 341.2V208.3M718.7 341.2V320.8M722.6 341.2V238.8M726.5 341.2V212.3M730.4 341.2V207.8M734.3 341.2V208.3M738.2 341.2V209.4M742.1 341.2V240.8M746.0 341.2V267.4M749.9 341.2V319.7M753.8 341.2V245.7M757.7 341.2V221.3M761.6 341.2V207.8M765.5 341.2V211.4M769.4 341.2V209.5M773.3 341.2V324.6M777.2 341.2V210.6M781.1 341.2V210.5M785.0 341.2V208.6M788.9 341.2V208.5M792.8 341.2V208.4M796.6 341.2V213.9M800.5 341.2V275.5M804.4 341.2V208.0M808.3 341.2V228.6M812.2 341.2V208.2M816.1 341.2V208.2M820.0 341.2V230.5M823.9 341.2V208.2M827.8 341.2V244.3M835.6 341.2V208.7M839.5 341.2V208.5M843.4 341.2V208.6M847.3 341.2V208.6M851.2 341.2V258.6M855.1 341.2V213.0M859.0 341.2V208.8M862.9 341.2V209.3M866.8 341.2V215.7M870.7 341.2V210.2M874.6 341.2V326.4M878.5 341.2V214.9M882.4 341.2V209.2M886.3 341.2V218.5M890.2 341.2V324.0M894.1 341.2V285.5M898.0 341.2V209.7M901.9 341.2V209.9M905.8 341.2V240.7M909.7 341.2V264.4M913.6 341.2V214.8M917.5 341.2V210.0M921.4 341.2V210.2M925.3 341.2V214.4M929.2 341.2V210.6M933.1 341.2V228.9M937.0 341.2V300.6M940.9 341.2V227.1M944.8 341.2V210.8M952.6 341.2V212.1M956.5 341.2V249.8M960.4 341.2V211.3M964.3 341.2V213.4M968.2 341.2V211.4M972.1 341.2V211.5M975.9 341.2V211.7M979.8 341.2V211.9M983.7 341.2V212.2M987.6 341.2V245.7M991.5 341.2V212.4M999.3 341.2V263.6M1003.2 341.2V224.9M1007.1 341.2V213.9M1014.9 341.2V214.9M1018.8 341.2V247.8M1026.6 341.2V315.0M1030.5 341.2V213.4M1034.4 341.2V215.9M1038.3 341.2V272.7M1042.2 341.2V224.4M1046.1 341.2V215.8M1050.0 341.2V215.6M1053.9 341.2V262.8M1057.8 341.2V308.4M1061.7 341.2V221.4M1065.6 341.2V214.6M1069.5 341.2V215.9M1077.3 341.2V214.9M1081.2 341.2V251.4M1085.1 341.2V275.6M1092.9 341.2V222.7M1096.8 341.2V215.6M1100.7 341.2V215.9M1108.5 341.2V218.9M1112.4 341.2V216.1M1116.3 341.2V216.3M1120.2 341.2V242.3M1124.1 341.2V261.5M1128.0 341.2V216.7M1131.9 341.2V292.6M1139.7 341.2V217.1M1143.6 341.2V265.4M1147.5 341.2V252.4M1155.2 341.2V217.6M1159.1 341.2V217.7M1163.0 341.2V333.4M1166.9 341.2V231.5M1170.8 341.2V222.3M1174.7 341.2V249.7M1178.6 341.2V262.8M1186.4 341.2V230.9M1190.3 341.2V218.8M1194.2 341.2V232.8M1198.1 341.2V258.7M1202.0 341.2V219.5M1205.9 341.2V219.3M1209.8 341.2V221.0M1217.6 341.2V232.5M1221.5 341.2V231.5M1225.4 341.2V219.9M1233.2 341.2V220.2M1237.1 341.2V220.3M1241.0 341.2V220.3M1244.9 341.2V220.4M1248.8 341.2V303.2M1252.7 341.2V253.3M1256.6 341.2V271.7M1260.5 341.2V221.4M1264.4 341.2V221.0M1268.3 341.2V229.1M1272.2 341.2V221.9M1276.1 341.2V227.4M1280.0 341.2V221.5M1283.9 341.2V231.4M1287.8 341.2V224.2M1291.7 341.2V231.2M1303.4 341.2V222.1M1307.3 341.2V222.1M1311.2 341.2V321.3M1319.0 341.2V222.8M1322.9 341.2V250.8M1334.5 341.2V223.0M1338.4 341.2V235.4M1346.2 341.2V223.2M1350.1 341.2V224.8M1354.0 341.2V235.7M1357.9 341.2V239.9M1361.8 341.2V223.2M1365.7 341.2V325.6M1373.5 341.2V225.5M1377.4 341.2V310.4M1381.3 341.2V230.8M1385.2 341.2V233.5M1389.1 341.2V236.0M1393.0 341.2V249.9M1396.9 341.2V243.2M1400.8 341.2V223.9M1408.6 341.2V295.1M1412.5 341.2V238.3M1424.2 341.2V230.5M1432.0 341.2V228.1M1435.9 341.2V239.2M1443.7 341.2V300.7M1447.6 341.2V333.9M1455.4 341.2V302.3M1459.3 341.2V337.0M1467.1 341.2V238.5M1474.9 341.2V224.2M1478.8 341.2V235.5M1482.7 341.2V279.9M1486.6 341.2V227.4M1490.5 341.2V249.0M1494.4 341.2V232.5"/></g><g fill="none" stroke="#0f70be" stroke-opacity="0.1" stroke-width="3.898"><path d="M87.2 341.2V457.4M91.1 341.2V393.3M95.0 341.2V343.7M98.9 341.2V454.2M102.8 341.2V390.2M106.7 341.2V498.6M122.3 341.2V342.5M126.2 341.2V343.1M130.1 341.2V356.4M134.0 341.2V345.9M137.9 341.2V346.2M145.7 341.2V360.2M149.6 341.2V342.3M161.3 341.2V356.7M165.2 341.2V342.0M176.9 341.2V377.5M180.8 341.2V375.9M188.6 341.2V435.2M192.5 341.2V343.0M200.3 341.2V353.3M204.2 341.2V432.5M208.1 341.2V391.0M212.0 341.2V352.5M215.9 341.2V377.4M219.8 341.2V359.0M223.7 341.2V380.6M231.5 341.2V381.1M235.4 341.2V352.1M239.3 341.2V354.7M243.2 341.2V350.0M251.0 341.2V375.0M254.9 341.2V471.0M258.8 341.2V347.6M262.7 341.2V404.8M266.5 341.2V513.3M270.4 341.2V347.8M274.3 341.2V345.3M278.2 341.2V404.9M282.1 341.2V480.7M286.0 341.2V347.9M293.8 341.2V407.5M297.7 341.2V342.2M305.5 341.2V347.8M309.4 341.2V372.4M313.3 341.2V346.0M317.2 341.2V389.2M321.1 341.2V346.5M325.0 341.2V423.2M336.7 341.2V349.1M340.6 341.2V343.6M348.4 341.2V344.5M356.2 341.2V358.6M360.1 341.2V365.9M367.9 341.2V386.2M375.7 341.2V452.3M383.5 341.2V346.3M391.3 341.2V348.0M403.0 341.2V357.2M406.9 341.2V355.9M410.8 341.2V343.6M414.7 341.2V366.3M418.6 341.2V347.8M430.3 341.2V351.0M434.2 341.2V407.1M438.1 341.2V342.7M445.8 341.2V353.7M449.7 341.2V344.2M453.6 341.2V349.5M465.3 341.2V565.6M469.2 341.2V345.7M480.9 341.2V374.3M484.8 341.2V388.5M508.2 341.2V348.8M512.1 341.2V425.9M519.9 341.2V376.9M523.8 341.2V421.8M539.4 341.2V370.1M547.2 341.2V474.1M558.9 341.2V352.9M566.7 341.2V510.8M570.6 341.2V384.9M578.4 341.2V347.2M582.3 341.2V361.7M590.1 341.2V437.7M594.0 341.2V343.0M609.6 341.2V360.2M617.4 341.2V400.9M648.5 341.2V358.6M652.4 341.2V346.2M660.2 341.2V348.8M664.1 341.2V538.1M668.0 341.2V368.9M679.7 341.2V348.7M683.6 341.2V441.8M687.5 341.2V376.6M695.3 341.2V384.0M710.9 341.2V346.6M714.8 341.2V344.0M718.7 341.2V358.8M722.6 341.2V504.5M738.2 341.2V350.1M742.1 341.2V361.5M746.0 341.2V359.3M749.9 341.2V348.2M753.8 341.2V343.4M757.7 341.2V368.9M761.6 341.2V521.7M769.4 341.2V372.4M773.3 341.2V357.6M777.2 341.2V348.9M788.9 341.2V426.3M792.8 341.2V342.0M796.6 341.2V373.5M808.3 341.2V611.4M812.2 341.2V350.4M816.1 341.2V394.1M820.0 341.2V354.9M823.9 341.2V353.7M835.6 341.2V352.2M851.2 341.2V422.7M855.1 341.2V572.7M859.0 341.2V486.3M862.9 341.2V360.1M866.8 341.2V389.3M874.6 341.2V364.9M878.5 341.2V415.5M882.4 341.2V342.1M890.2 341.2V347.7M894.1 341.2V343.0M901.9 341.2V421.8M905.8 341.2V370.6M909.7 341.2V384.6M913.6 341.2V355.4M925.3 341.2V367.7M929.2 341.2V348.5M937.0 341.2V379.8M940.9 341.2V371.4M944.8 341.2V343.7M952.6 341.2V413.8M960.4 341.2V385.9M964.3 341.2V390.0M972.1 341.2V492.0M975.9 341.2V475.6M979.8 341.2V456.8M987.6 341.2V536.9M991.5 341.2V357.1M995.4 341.2V363.1M999.3 341.2V349.3M1007.1 341.2V347.6M1011.0 341.2V342.5M1014.9 341.2V455.8M1022.7 341.2V391.5M1026.6 341.2V387.3M1030.5 341.2V465.8M1038.3 341.2V363.9M1046.1 341.2V399.2M1050.0 341.2V349.6M1065.6 341.2V356.7M1069.5 341.2V417.7M1073.4 341.2V366.0M1081.2 341.2V439.5M1085.1 341.2V406.0M1089.0 341.2V382.3M1100.7 341.2V362.1M1104.6 341.2V353.8M1112.4 341.2V417.8M1116.3 341.2V359.5M1120.2 341.2V611.4M1124.1 341.2V342.9M1128.0 341.2V343.2M1131.9 341.2V456.8M1135.8 341.2V600.8M1139.7 341.2V361.4M1143.6 341.2V342.0M1147.5 341.2V443.2M1151.4 341.2V611.4M1155.2 341.2V611.4M1159.1 341.2V586.2M1163.0 341.2V402.1M1166.9 341.2V611.4M1174.7 341.2V347.4M1178.6 341.2V485.3M1182.5 341.2V358.6M1186.4 341.2V611.4M1190.3 341.2V367.7M1194.2 341.2V382.3M1198.1 341.2V412.1M1202.0 341.2V379.3M1205.9 341.2V410.9M1209.8 341.2V400.4M1213.7 341.2V353.5M1217.6 341.2V442.6M1221.5 341.2V395.3M1225.4 341.2V356.5M1233.2 341.2V487.2M1237.1 341.2V396.1M1241.0 341.2V569.1M1244.9 341.2V611.4M1248.8 341.2V611.4M1252.7 341.2V373.2M1256.6 341.2V351.7M1260.5 341.2V589.2M1264.4 341.2V344.8M1272.2 341.2V418.8M1276.1 341.2V417.9M1280.0 341.2V344.2M1287.8 341.2V453.9M1291.7 341.2V611.4M1295.6 341.2V353.7M1299.5 341.2V411.1M1303.4 341.2V381.4M1307.3 341.2V368.0M1311.2 341.2V414.6M1315.1 341.2V611.4M1319.0 341.2V611.4M1322.9 341.2V348.2M1326.8 341.2V397.3M1330.6 341.2V390.4M1334.5 341.2V367.1M1338.4 341.2V369.2M1346.2 341.2V408.1M1350.1 341.2V391.4M1354.0 341.2V387.9M1357.9 341.2V466.5M1361.8 341.2V342.1M1365.7 341.2V365.4M1369.6 341.2V354.3M1373.5 341.2V465.8M1377.4 341.2V570.9M1381.3 341.2V494.5M1385.2 341.2V349.2M1389.1 341.2V388.4M1393.0 341.2V409.4M1396.9 341.2V465.8M1400.8 341.2V353.4M1404.7 341.2V357.0M1408.6 341.2V356.3M1412.5 341.2V380.1M1420.3 341.2V441.0M1424.2 341.2V402.4M1428.1 341.2V343.3M1435.9 341.2V514.5M1439.8 341.2V351.3M1443.7 341.2V388.6M1447.6 341.2V345.3M1451.5 341.2V429.2M1455.4 341.2V343.4M1459.3 341.2V419.7M1467.1 341.2V353.6M1474.9 341.2V426.7M1482.7 341.2V351.8M1486.6 341.2V373.2M1490.5 341.2V366.2M1494.4 341.2V368.1M1498.3 341.2V461.9M1506.1 341.2V408.5"/><path d="M87.2 341.2V378.6M91.1 341.2V476.3M98.9 341.2V346.6M102.8 341.2V342.2M106.7 341.2V352.0M118.4 341.2V358.0M122.3 341.2V397.1M130.1 341.2V348.1M137.9 341.2V357.4M141.8 341.2V462.1M145.7 341.2V389.0M149.6 341.2V342.4M157.4 341.2V394.2M161.3 341.2V343.9M165.2 341.2V391.2M169.1 341.2V342.1M188.6 341.2V394.9M192.5 341.2V415.2M196.4 341.2V355.8M200.3 341.2V344.5M204.2 341.2V348.6M208.1 341.2V509.2M212.0 341.2V351.6M215.9 341.2V549.4M219.8 341.2V347.5M223.7 341.2V440.4M227.6 341.2V362.5M235.4 341.2V347.6M239.3 341.2V400.6M243.2 341.2V419.2M251.0 341.2V403.1M258.8 341.2V345.2M262.7 341.2V364.4M270.4 341.2V366.5M278.2 341.2V348.4M282.1 341.2V343.2M286.0 341.2V357.2M289.9 341.2V345.2M293.8 341.2V374.2M301.6 341.2V482.0M309.4 341.2V367.2M325.0 341.2V352.8M328.9 341.2V346.1M332.8 341.2V360.3M336.7 341.2V491.9M344.5 341.2V380.8M352.3 341.2V375.8M356.2 341.2V344.6M360.1 341.2V348.3M364.0 341.2V343.1M367.9 341.2V359.3M375.7 341.2V354.8M383.5 341.2V350.2M387.4 341.2V379.4M399.1 341.2V460.9M406.9 341.2V363.0M418.6 341.2V426.1M422.5 341.2V358.2M430.3 341.2V342.4M434.2 341.2V342.0M438.1 341.2V357.2M441.9 341.2V350.9M445.8 341.2V342.5M449.7 341.2V383.5M453.6 341.2V343.3M461.4 341.2V356.9M465.3 341.2V427.4M469.2 341.2V348.6M473.1 341.2V346.6M480.9 341.2V348.9M504.3 341.2V346.1M512.1 341.2V415.3M519.9 341.2V398.7M527.7 341.2V363.3M531.6 341.2V355.3M535.5 341.2V350.1M539.4 341.2V367.9M547.2 341.2V354.1M551.1 341.2V342.1M555.0 341.2V416.4M562.8 341.2V361.3M570.6 341.2V344.8M582.3 341.2V414.6M586.2 341.2V349.3M605.7 341.2V342.8M609.6 341.2V358.6M629.0 341.2V343.3M632.9 341.2V611.4M636.8 341.2V348.3M648.5 341.2V347.1M652.4 341.2V424.1M656.3 341.2V358.9M664.1 341.2V342.0M668.0 341.2V351.3M671.9 341.2V406.1M675.8 341.2V360.6M687.5 341.2V419.4M691.4 341.2V397.5M695.3 341.2V544.5M699.2 341.2V346.7M707.0 341.2V376.6M714.8 341.2V348.5M718.7 341.2V446.0M742.1 341.2V354.8M749.9 341.2V383.0M757.7 341.2V358.5M769.4 341.2V592.0M773.3 341.2V495.1M777.2 341.2V363.5M785.0 341.2V344.7M796.6 341.2V401.1M808.3 341.2V354.3M812.2 341.2V360.3M816.1 341.2V388.7M820.0 341.2V395.2M835.6 341.2V415.4M839.5 341.2V367.5M847.3 341.2V373.0M851.2 341.2V359.1M855.1 341.2V502.0M859.0 341.2V385.2M862.9 341.2V376.0M866.8 341.2V410.6M870.7 341.2V383.6M874.6 341.2V365.7M882.4 341.2V467.2M890.2 341.2V342.3M894.1 341.2V425.8M898.0 341.2V354.6M901.9 341.2V384.0M909.7 341.2V349.1M913.6 341.2V353.4M917.5 341.2V358.9M921.4 341.2V423.1M925.3 341.2V355.6M929.2 341.2V343.0M933.1 341.2V549.7M937.0 341.2V351.5M944.8 341.2V415.4M948.7 341.2V344.0M960.4 341.2V352.7M964.3 341.2V346.1M983.7 341.2V343.0M995.4 341.2V611.4M999.3 341.2V459.2M1003.2 341.2V516.7M1007.1 341.2V611.4M1011.0 341.2V362.9M1014.9 341.2V346.3M1018.8 341.2V611.4M1022.7 341.2V395.7M1030.5 341.2V355.2M1034.4 341.2V351.7M1038.3 341.2V465.1M1042.2 341.2V429.8M1046.1 341.2V434.5M1050.0 341.2V538.9M1057.8 341.2V455.5M1061.7 341.2V359.3M1065.6 341.2V374.1M1069.5 341.2V385.6M1073.4 341.2V342.3M1077.3 341.2V431.4M1081.2 341.2V359.8M1085.1 341.2V377.9M1089.0 341.2V342.1M1092.9 341.2V361.2M1096.8 341.2V456.3M1100.7 341.2V384.7M1104.6 341.2V449.4M1108.5 341.2V458.7M1112.4 341.2V451.9M1116.3 341.2V368.3M1120.2 341.2V435.4M1131.9 341.2V363.1M1135.8 341.2V344.4M1143.6 341.2V377.1M1147.5 341.2V342.8M1151.4 341.2V349.8M1155.2 341.2V353.6M1159.1 341.2V459.6M1163.0 341.2V465.1M1166.9 341.2V611.4M1170.8 341.2V611.4M1174.7 341.2V437.3M1178.6 341.2V611.4M1182.5 341.2V448.5M1186.4 341.2V609.0M1190.3 341.2V471.9M1194.2 341.2V392.9M1198.1 341.2V481.3M1205.9 341.2V437.1M1209.8 341.2V431.9M1213.7 341.2V367.9M1217.6 341.2V437.5M1221.5 341.2V394.1M1225.4 341.2V361.9M1233.2 341.2V384.8M1237.1 341.2V475.9M1241.0 341.2V363.0M1244.9 341.2V414.2M1248.8 341.2V393.0M1252.7 341.2V581.3M1256.6 341.2V381.7M1260.5 341.2V611.4M1264.4 341.2V374.4M1268.3 341.2V409.6M1276.1 341.2V402.9M1280.0 341.2V342.3M1283.9 341.2V366.6M1287.8 341.2V567.0M1291.7 341.2V453.2M1295.6 341.2V361.5M1299.5 341.2V377.2M1303.4 341.2V611.4M1307.3 341.2V524.0M1315.1 341.2V369.4M1319.0 341.2V364.8M1322.9 341.2V454.6M1326.8 341.2V348.0M1330.6 341.2V420.7M1334.5 341.2V611.4M1338.4 341.2V483.5M1342.3 341.2V363.7M1346.2 341.2V600.6M1354.0 341.2V355.5M1357.9 341.2V611.4M1361.8 341.2V435.9M1369.6 341.2V439.5M1373.5 341.2V390.4M1377.4 341.2V342.8M1385.2 341.2V388.7M1389.1 341.2V358.4M1393.0 341.2V346.0M1396.9 341.2V474.0M1400.8 341.2V345.7M1404.7 341.2V399.9M1408.6 341.2V430.8M1412.5 341.2V437.3M1416.4 341.2V436.2M1420.3 341.2V368.1M1424.2 341.2V346.4M1428.1 341.2V356.3M1435.9 341.2V470.1M1443.7 341.2V367.5M1447.6 341.2V373.8M1451.5 341.2V512.9M1455.4 341.2V373.0M1459.3 341.2V347.1M1463.2 341.2V371.8M1467.1 341.2V365.5M1471.0 341.2V400.9M1474.9 341.2V449.9M1478.8 341.2V351.4M1482.7 341.2V533.9M1486.6 341.2V353.6M1490.5 341.2V353.5M1494.4 341.2V367.1M1498.3 341.2V346.0M1502.2 341.2V343.2M1506.1 341.2V352.4"/><path d="M87.2 341.2V418.4M95.0 341.2V416.0M102.8 341.2V395.1M106.7 341.2V380.3M110.6 341.2V375.9M114.5 341.2V406.8M122.3 341.2V389.8M126.2 341.2V366.4M130.1 341.2V353.6M134.0 341.2V373.0M141.8 341.2V342.5M145.7 341.2V351.8M153.5 341.2V397.4M157.4 341.2V461.4M161.3 341.2V367.5M165.2 341.2V365.1M169.1 341.2V450.0M173.0 341.2V362.3M176.9 341.2V367.0M188.6 341.2V388.9M200.3 341.2V345.2M204.2 341.2V404.6M212.0 341.2V374.5M215.9 341.2V370.7M219.8 341.2V420.8M223.7 341.2V379.7M231.5 341.2V342.3M235.4 341.2V375.6M239.3 341.2V352.4M243.2 341.2V430.8M251.0 341.2V362.6M254.9 341.2V342.8M258.8 341.2V352.1M262.7 341.2V368.5M270.4 341.2V344.4M274.3 341.2V419.9M282.1 341.2V389.4M286.0 341.2V358.8M289.9 341.2V347.7M293.8 341.2V343.9M301.6 341.2V372.0M305.5 341.2V357.3M309.4 341.2V371.1M317.2 341.2V436.4M321.1 341.2V350.2M325.0 341.2V347.8M328.9 341.2V348.8M332.8 341.2V347.2M336.7 341.2V342.7M340.6 341.2V350.8M348.4 341.2V344.7M356.2 341.2V375.2M367.9 341.2V349.7M371.8 341.2V362.9M383.5 341.2V371.8M395.2 341.2V365.5M399.1 341.2V344.9M403.0 341.2V352.4M410.8 341.2V358.7M414.7 341.2V349.3M418.6 341.2V360.9M422.5 341.2V353.3M434.2 341.2V342.2M438.1 341.2V388.2M441.9 341.2V377.0M445.8 341.2V362.5M449.7 341.2V352.4M457.5 341.2V400.6M465.3 341.2V379.0M492.6 341.2V363.9M496.5 341.2V461.3M508.2 341.2V357.6M516.0 341.2V353.3M519.9 341.2V380.9M523.8 341.2V342.0M527.7 341.2V350.1M535.5 341.2V387.0M539.4 341.2V356.3M543.3 341.2V352.9M551.1 341.2V343.3M558.9 341.2V433.2M562.8 341.2V345.3M566.7 341.2V374.8M578.4 341.2V368.0M582.3 341.2V362.3M590.1 341.2V358.1M601.8 341.2V379.8M605.7 341.2V436.7M617.4 341.2V378.0M621.2 341.2V349.6M625.1 341.2V376.5M629.0 341.2V532.6M632.9 341.2V394.1M636.8 341.2V419.7M640.7 341.2V389.6M664.1 341.2V343.6M668.0 341.2V376.5M679.7 341.2V343.7M699.2 341.2V400.5M703.1 341.2V368.3M707.0 341.2V385.4M710.9 341.2V372.1M718.7 341.2V395.0M722.6 341.2V444.9M726.5 341.2V453.4M730.4 341.2V352.1M742.1 341.2V344.1M746.0 341.2V422.7M753.8 341.2V361.4M757.7 341.2V350.9M765.5 341.2V349.9M773.3 341.2V404.6M777.2 341.2V406.0M781.1 341.2V379.4M792.8 341.2V351.5M804.4 341.2V374.1M808.3 341.2V366.1M831.7 341.2V353.6M843.4 341.2V348.6M847.3 341.2V347.6M851.2 341.2V355.0M866.8 341.2V391.2M870.7 341.2V342.3M878.5 341.2V351.3M886.3 341.2V369.3M894.1 341.2V462.1M901.9 341.2V370.6M905.8 341.2V464.8M913.6 341.2V346.0M937.0 341.2V344.4M940.9 341.2V517.0M952.6 341.2V395.7M964.3 341.2V342.3M968.2 341.2V371.9M972.1 341.2V443.2M975.9 341.2V462.9M979.8 341.2V566.0M983.7 341.2V343.2M987.6 341.2V414.5M991.5 341.2V343.6M995.4 341.2V611.4M999.3 341.2V404.8M1003.2 341.2V347.8M1007.1 341.2V345.9M1011.0 341.2V396.1M1018.8 341.2V371.3M1026.6 341.2V349.2M1030.5 341.2V346.1M1034.4 341.2V611.4M1038.3 341.2V611.4M1042.2 341.2V424.2M1046.1 341.2V380.9M1050.0 341.2V378.2M1053.9 341.2V354.5M1065.6 341.2V371.9M1069.5 341.2V353.7M1073.4 341.2V349.2M1077.3 341.2V526.1M1081.2 341.2V591.5M1092.9 341.2V424.8M1096.8 341.2V429.6M1100.7 341.2V343.2M1104.6 341.2V367.8M1112.4 341.2V431.3M1116.3 341.2V348.5M1120.2 341.2V372.7M1128.0 341.2V464.0M1131.9 341.2V357.5M1135.8 341.2V611.4M1139.7 341.2V377.8M1143.6 341.2V611.4M1147.5 341.2V611.4M1151.4 341.2V431.3M1155.2 341.2V398.6M1159.1 341.2V348.5M1163.0 341.2V611.4M1166.9 341.2V376.1M1174.7 341.2V368.6M1178.6 341.2V583.4M1182.5 341.2V421.2M1186.4 341.2V354.4M1190.3 341.2V578.9M1194.2 341.2V611.4M1198.1 341.2V513.9M1202.0 341.2V473.5M1205.9 341.2V395.0M1209.8 341.2V388.3M1213.7 341.2V355.2M1217.6 341.2V405.7M1221.5 341.2V435.4M1225.4 341.2V372.9M1229.3 341.2V490.4M1233.2 341.2V416.1M1237.1 341.2V564.1M1241.0 341.2V611.4M1244.9 341.2V419.0M1248.8 341.2V464.8M1252.7 341.2V557.3M1260.5 341.2V364.2M1264.4 341.2V611.4M1268.3 341.2V360.6M1276.1 341.2V549.4M1280.0 341.2V415.3M1287.8 341.2V389.4M1291.7 341.2V585.6M1295.6 341.2V346.0M1303.4 341.2V562.7M1307.3 341.2V611.4M1311.2 341.2V353.7M1315.1 341.2V458.7M1319.0 341.2V376.2M1322.9 341.2V394.7M1326.8 341.2V428.1M1330.6 341.2V390.8M1334.5 341.2V397.0M1338.4 341.2V611.4M1342.3 341.2V582.0M1346.2 341.2V351.1M1350.1 341.2V358.1M1354.0 341.2V342.5M1357.9 341.2V342.1M1361.8 341.2V361.1M1365.7 341.2V358.6M1373.5 341.2V360.5M1377.4 341.2V343.4M1381.3 341.2V369.1M1389.1 341.2V354.2M1393.0 341.2V342.6M1400.8 341.2V377.7M1404.7 341.2V345.6M1408.6 341.2V368.4M1412.5 341.2V360.3M1416.4 341.2V342.9M1420.3 341.2V376.6M1424.2 341.2V342.5M1428.1 341.2V402.5M1432.0 341.2V360.4M1435.9 341.2V349.9M1443.7 341.2V380.9M1447.6 341.2V412.2M1451.5 341.2V349.8M1455.4 341.2V449.0M1459.3 341.2V369.2M1463.2 341.2V552.7M1467.1 341.2V414.1M1471.0 341.2V343.1M1474.9 341.2V363.6M1478.8 341.2V388.4M1482.7 341.2V344.6M1486.6 341.2V375.2M1490.5 341.2V380.1M1494.4 341.2V370.5M1498.3 341.2V611.4M1502.2 341.2V345.6M1506.1 341.2V374.7"/><path d="M87.2 341.2V611.4M91.1 341.2V356.4M98.9 341.2V344.4M102.8 341.2V373.3M106.7 341.2V344.7M114.5 341.2V342.1M122.3 341.2V390.9M126.2 341.2V358.4M130.1 341.2V352.2M134.0 341.2V358.4M141.8 341.2V353.0M145.7 341.2V342.4M149.6 341.2V348.1M153.5 341.2V361.3M157.4 341.2V343.2M161.3 341.2V389.0M169.1 341.2V482.3M173.0 341.2V360.9M180.8 341.2V369.1M188.6 341.2V369.7M204.2 341.2V376.8M208.1 341.2V495.1M215.9 341.2V365.7M219.8 341.2V347.7M223.7 341.2V369.2M235.4 341.2V357.1M243.2 341.2V342.5M247.1 341.2V345.5M258.8 341.2V363.2M266.5 341.2V354.9M270.4 341.2V366.5M274.3 341.2V349.4M278.2 341.2V383.0M282.1 341.2V343.3M289.9 341.2V384.6M297.7 341.2V365.8M301.6 341.2V374.2M309.4 341.2V342.6M317.2 341.2V438.4M340.6 341.2V359.0M344.5 341.2V378.1M356.2 341.2V355.2M367.9 341.2V344.9M383.5 341.2V342.5M387.4 341.2V407.5M391.3 341.2V350.6M395.2 341.2V381.0M406.9 341.2V353.5M410.8 341.2V350.1M418.6 341.2V457.0M422.5 341.2V366.7M426.4 341.2V348.8M430.3 341.2V393.7M438.1 341.2V373.4M441.9 341.2V349.2M445.8 341.2V349.6M473.1 341.2V357.3M488.7 341.2V359.8M492.6 341.2V384.8M496.5 341.2V344.4M500.4 341.2V375.4M504.3 341.2V345.4M527.7 341.2V430.1M535.5 341.2V371.0M543.3 341.2V376.9M547.2 341.2V355.9M551.1 341.2V463.8M555.0 341.2V353.4M558.9 341.2V352.3M562.8 341.2V359.1M570.6 341.2V465.5M574.5 341.2V440.9M578.4 341.2V353.1M582.3 341.2V399.3M586.2 341.2V397.0M590.1 341.2V373.9M601.8 341.2V342.3M605.7 341.2V344.3M609.6 341.2V450.8M613.5 341.2V404.8M617.4 341.2V384.8M625.1 341.2V343.5M629.0 341.2V375.1M636.8 341.2V377.5M640.7 341.2V413.6M644.6 341.2V388.4M648.5 341.2V370.3M652.4 341.2V404.8M656.3 341.2V364.2M664.1 341.2V414.5M683.6 341.2V414.3M687.5 341.2V345.9M691.4 341.2V342.5M695.3 341.2V345.2M699.2 341.2V371.9M714.8 341.2V381.3M718.7 341.2V400.4M722.6 341.2V350.2M726.5 341.2V353.6M730.4 341.2V367.6M734.3 341.2V352.4M738.2 341.2V426.2M746.0 341.2V501.2M753.8 341.2V355.8M761.6 341.2V394.5M769.4 341.2V365.7M773.3 341.2V353.3M788.9 341.2V385.7M792.8 341.2V351.6M796.6 341.2V349.9M800.5 341.2V397.2M808.3 341.2V431.4M816.1 341.2V575.6M823.9 341.2V538.8M827.8 341.2V369.2M831.7 341.2V388.2M835.6 341.2V450.1M839.5 341.2V432.9M843.4 341.2V352.8M847.3 341.2V342.8M859.0 341.2V344.8M866.8 341.2V351.9M874.6 341.2V362.9M878.5 341.2V447.9M882.4 341.2V440.2M886.3 341.2V367.8M894.1 341.2V369.0M898.0 341.2V377.7M901.9 341.2V349.3M913.6 341.2V345.9M921.4 341.2V365.2M933.1 341.2V350.0M937.0 341.2V375.7M944.8 341.2V344.0M948.7 341.2V388.2M952.6 341.2V344.5M956.5 341.2V343.9M960.4 341.2V358.0M964.3 341.2V385.0M972.1 341.2V342.1M975.9 341.2V413.0M979.8 341.2V344.7M987.6 341.2V381.8M991.5 341.2V347.0M1003.2 341.2V347.8M1014.9 341.2V384.8M1018.8 341.2V480.9M1030.5 341.2V358.2M1038.3 341.2V343.2M1042.2 341.2V347.4M1046.1 341.2V382.7M1050.0 341.2V343.5M1053.9 341.2V347.6M1061.7 341.2V354.2M1065.6 341.2V424.0M1073.4 341.2V350.5M1077.3 341.2V395.5M1081.2 341.2V367.9M1089.0 341.2V349.4M1096.8 341.2V396.0M1100.7 341.2V351.4M1104.6 341.2V381.0M1108.5 341.2V441.1M1112.4 341.2V359.3M1120.2 341.2V509.3M1128.0 341.2V345.4M1139.7 341.2V394.0M1143.6 341.2V566.4M1147.5 341.2V406.9M1151.4 341.2V374.9M1155.2 341.2V611.4M1159.1 341.2V395.6M1163.0 341.2V506.4M1166.9 341.2V346.1M1174.7 341.2V505.7M1178.6 341.2V500.0M1182.5 341.2V611.4M1190.3 341.2V460.4M1194.2 341.2V611.4M1198.1 341.2V603.6M1202.0 341.2V354.4M1205.9 341.2V423.9M1209.8 341.2V378.2M1213.7 341.2V379.8M1217.6 341.2V611.4M1221.5 341.2V416.9M1225.4 341.2V345.0M1229.3 341.2V394.3M1233.2 341.2V369.0M1241.0 341.2V427.0M1244.9 341.2V441.3M1248.8 341.2V611.4M1252.7 341.2V525.6M1256.6 341.2V362.4M1260.5 341.2V363.7M1264.4 341.2V347.0M1272.2 341.2V487.5M1276.1 341.2V389.7M1280.0 341.2V565.1M1283.9 341.2V389.6M1287.8 341.2V611.4M1291.7 341.2V434.5M1295.6 341.2V514.2M1299.5 341.2V387.2M1303.4 341.2V494.8M1307.3 341.2V397.9M1311.2 341.2V383.3M1315.1 341.2V423.4M1319.0 341.2V365.1M1322.9 341.2V343.6M1326.8 341.2V346.8M1330.6 341.2V473.4M1334.5 341.2V346.9M1338.4 341.2V383.2M1342.3 341.2V355.5M1350.1 341.2V342.5M1354.0 341.2V376.1M1361.8 341.2V349.8M1365.7 341.2V412.3M1369.6 341.2V360.3M1377.4 341.2V349.1M1381.3 341.2V429.1M1385.2 341.2V365.4M1389.1 341.2V541.4M1393.0 341.2V531.1M1400.8 341.2V489.1M1404.7 341.2V451.5M1408.6 341.2V551.4M1412.5 341.2V362.9M1416.4 341.2V377.2M1420.3 341.2V380.6M1424.2 341.2V349.0M1432.0 341.2V354.3M1435.9 341.2V358.8M1439.8 341.2V358.8M1443.7 341.2V437.5M1451.5 341.2V349.1M1455.4 341.2V366.5M1463.2 341.2V344.6M1467.1 341.2V611.4M1471.0 341.2V349.3M1474.9 341.2V358.8M1478.8 341.2V398.7M1482.7 341.2V346.2M1486.6 341.2V369.9M1494.4 341.2V384.3M1498.3 341.2V344.1M1502.2 341.2V360.7M1506.1 341.2V379.8"/><path d="M91.1 341.2V376.9M98.9 341.2V357.3M102.8 341.2V356.2M106.7 341.2V375.7M110.6 341.2V391.6M118.4 341.2V354.0M122.3 341.2V365.8M130.1 341.2V367.9M145.7 341.2V423.8M149.6 341.2V458.3M153.5 341.2V344.5M161.3 341.2V377.4M169.1 341.2V364.9M173.0 341.2V345.7M176.9 341.2V473.5M180.8 341.2V380.8M184.7 341.2V362.5M196.4 341.2V414.6M200.3 341.2V353.2M212.0 341.2V346.2M215.9 341.2V374.1M227.6 341.2V343.8M239.3 341.2V352.1M243.2 341.2V422.4M258.8 341.2V376.8M262.7 341.2V349.8M266.5 341.2V377.0M274.3 341.2V366.6M278.2 341.2V362.8M282.1 341.2V350.6M286.0 341.2V498.9M289.9 341.2V375.6M293.8 341.2V344.9M297.7 341.2V370.6M301.6 341.2V345.7M305.5 341.2V352.7M309.4 341.2V368.8M313.3 341.2V344.9M317.2 341.2V345.5M325.0 341.2V355.4M328.9 341.2V374.4M332.8 341.2V357.5M336.7 341.2V376.3M340.6 341.2V343.4M360.1 341.2V345.4M364.0 341.2V356.0M367.9 341.2V538.9M371.8 341.2V376.0M379.6 341.2V347.1M383.5 341.2V351.6M387.4 341.2V356.6M391.3 341.2V382.9M395.2 341.2V418.4M422.5 341.2V357.2M426.4 341.2V349.8M430.3 341.2V347.8M434.2 341.2V444.5M438.1 341.2V373.6M449.7 341.2V346.3M457.5 341.2V372.0M461.4 341.2V497.4M473.1 341.2V354.3M477.0 341.2V352.7M480.9 341.2V352.8M484.8 341.2V357.5M500.4 341.2V345.5M508.2 341.2V351.8M516.0 341.2V351.3M519.9 341.2V350.6M523.8 341.2V392.7M531.6 341.2V367.8M543.3 341.2V342.6M558.9 341.2V347.1M562.8 341.2V383.3M566.7 341.2V441.5M570.6 341.2V400.4M574.5 341.2V346.7M578.4 341.2V553.0M590.1 341.2V389.1M594.0 341.2V374.1M597.9 341.2V343.0M601.8 341.2V346.3M609.6 341.2V357.4M613.5 341.2V424.6M617.4 341.2V348.2M621.2 341.2V370.2M632.9 341.2V430.3M640.7 341.2V370.6M648.5 341.2V385.3M652.4 341.2V373.2M656.3 341.2V354.8M660.2 341.2V422.7M664.1 341.2V412.3M668.0 341.2V382.8M675.8 341.2V372.9M695.3 341.2V361.5M699.2 341.2V577.4M703.1 341.2V342.6M710.9 341.2V391.8M714.8 341.2V348.5M726.5 341.2V353.3M746.0 341.2V344.0M749.9 341.2V348.3M769.4 341.2V347.1M788.9 341.2V496.6M804.4 341.2V366.9M808.3 341.2V521.8M820.0 341.2V378.9M827.8 341.2V341.9M831.7 341.2V370.1M835.6 341.2V351.9M839.5 341.2V611.4M843.4 341.2V429.0M855.1 341.2V415.1M866.8 341.2V367.1M870.7 341.2V350.7M886.3 341.2V396.2M898.0 341.2V375.5M901.9 341.2V416.1M905.8 341.2V428.8M909.7 341.2V370.5M921.4 341.2V391.1M929.2 341.2V356.7M940.9 341.2V380.8M944.8 341.2V354.2M964.3 341.2V382.2M968.2 341.2V509.1M972.1 341.2V384.6M979.8 341.2V384.3M987.6 341.2V386.8M991.5 341.2V343.2M995.4 341.2V383.0M1003.2 341.2V410.6M1007.1 341.2V342.1M1014.9 341.2V382.0M1018.8 341.2V350.2M1026.6 341.2V378.9M1030.5 341.2V342.0M1042.2 341.2V382.8M1046.1 341.2V456.8M1050.0 341.2V357.5M1053.9 341.2V435.8M1061.7 341.2V353.9M1065.6 341.2V412.0M1069.5 341.2V346.4M1081.2 341.2V395.5M1096.8 341.2V370.5M1100.7 341.2V344.9M1104.6 341.2V449.8M1108.5 341.2V346.3M1116.3 341.2V392.1M1120.2 341.2V475.0M1124.1 341.2V393.3M1128.0 341.2V407.4M1139.7 341.2V603.8M1147.5 341.2V409.6M1151.4 341.2V370.0M1155.2 341.2V611.4M1159.1 341.2V479.7M1163.0 341.2V509.5M1166.9 341.2V382.3M1170.8 341.2V448.5M1174.7 341.2V349.1M1178.6 341.2V513.1M1182.5 341.2V391.4M1186.4 341.2V348.0M1190.3 341.2V368.9M1194.2 341.2V611.4M1198.1 341.2V530.5M1202.0 341.2V342.2M1205.9 341.2V357.5M1209.8 341.2V347.5M1217.6 341.2V611.4M1221.5 341.2V392.3M1225.4 341.2V373.2M1229.3 341.2V364.6M1233.2 341.2V440.0M1237.1 341.2V381.7M1241.0 341.2V379.5M1244.9 341.2V450.3M1248.8 341.2V373.1M1252.7 341.2V611.4M1256.6 341.2V527.8M1260.5 341.2V539.3M1264.4 341.2V357.3M1268.3 341.2V354.6M1272.2 341.2V342.6M1276.1 341.2V587.8M1280.0 341.2V432.5M1283.9 341.2V478.8M1287.8 341.2V385.4M1291.7 341.2V438.7M1295.6 341.2V421.3M1299.5 341.2V381.0M1303.4 341.2V347.5M1311.2 341.2V454.0M1319.0 341.2V364.4M1322.9 341.2V359.4M1326.8 341.2V611.4M1330.6 341.2V385.3M1334.5 341.2V540.9M1338.4 341.2V405.0M1342.3 341.2V551.0M1346.2 341.2V457.1M1350.1 341.2V372.5M1354.0 341.2V361.0M1357.9 341.2V366.2M1361.8 341.2V569.8M1365.7 341.2V358.1M1369.6 341.2V364.2M1377.4 341.2V410.5M1381.3 341.2V400.2M1385.2 341.2V361.5M1389.1 341.2V353.6M1393.0 341.2V532.9M1396.9 341.2V356.3M1400.8 341.2V360.1M1404.7 341.2V611.4M1408.6 341.2V403.3M1412.5 341.2V369.8M1416.4 341.2V423.6M1420.3 341.2V459.2M1424.2 341.2V380.9M1428.1 341.2V372.6M1432.0 341.2V449.2M1435.9 341.2V359.7M1439.8 341.2V380.4M1447.6 341.2V360.9M1451.5 341.2V353.6M1455.4 341.2V351.1M1459.3 341.2V352.3M1463.2 341.2V451.9M1467.1 341.2V366.5M1474.9 341.2V443.7M1478.8 341.2V342.4M1482.7 341.2V419.6M1486.6 341.2V394.9M1490.5 341.2V352.7M1494.4 341.2V507.1M1498.3 341.2V356.0M1502.2 341.2V360.6M1506.1 341.2V376.5"/><path d="M87.2 341.2V364.1M91.1 341.2V611.4M98.9 341.2V370.7M102.8 341.2V405.4M106.7 341.2V374.1M110.6 341.2V369.9M114.5 341.2V348.5M118.4 341.2V344.7M122.3 341.2V363.6M126.2 341.2V354.0M130.1 341.2V349.6M134.0 341.2V352.7M141.8 341.2V508.3M145.7 341.2V349.3M153.5 341.2V418.6M157.4 341.2V388.3M161.3 341.2V425.0M169.1 341.2V358.0M173.0 341.2V372.2M176.9 341.2V347.7M180.8 341.2V399.3M192.5 341.2V342.2M196.4 341.2V448.3M200.3 341.2V383.6M208.1 341.2V413.3M219.8 341.2V342.9M223.7 341.2V370.4M227.6 341.2V343.3M239.3 341.2V378.4M243.2 341.2V346.9M247.1 341.2V367.5M251.0 341.2V342.5M254.9 341.2V349.0M258.8 341.2V357.6M262.7 341.2V343.9M266.5 341.2V358.6M270.4 341.2V464.2M282.1 341.2V342.6M286.0 341.2V405.4M289.9 341.2V376.3M297.7 341.2V420.9M301.6 341.2V346.3M305.5 341.2V385.6M317.2 341.2V342.6M321.1 341.2V342.0M325.0 341.2V353.9M328.9 341.2V395.7M332.8 341.2V350.9M336.7 341.2V349.2M340.6 341.2V364.7M344.5 341.2V454.0M352.3 341.2V353.8M356.2 341.2V435.1M360.1 341.2V353.2M371.8 341.2V402.2M375.7 341.2V346.0M379.6 341.2V391.8M387.4 341.2V342.2M391.3 341.2V403.6M395.2 341.2V440.0M399.1 341.2V405.6M406.9 341.2V364.9M410.8 341.2V344.0M414.7 341.2V370.2M426.4 341.2V354.4M430.3 341.2V351.3M449.7 341.2V382.0M461.4 341.2V349.8M473.1 341.2V381.9M477.0 341.2V512.9M484.8 341.2V382.8M488.7 341.2V343.2M492.6 341.2V348.2M500.4 341.2V381.9M504.3 341.2V356.8M508.2 341.2V343.6M516.0 341.2V359.5M527.7 341.2V400.8M531.6 341.2V432.2M535.5 341.2V372.3M547.2 341.2V396.8M551.1 341.2V374.2M562.8 341.2V368.2M566.7 341.2V360.4M570.6 341.2V390.1M578.4 341.2V363.8M582.3 341.2V354.6M586.2 341.2V376.3M590.1 341.2V460.6M594.0 341.2V576.3M597.9 341.2V344.1M605.7 341.2V431.7M609.6 341.2V439.2M613.5 341.2V343.9M621.2 341.2V344.7M625.1 341.2V374.7M632.9 341.2V386.3M636.8 341.2V376.5M640.7 341.2V442.9M644.6 341.2V342.1M648.5 341.2V344.4M656.3 341.2V361.7M660.2 341.2V342.7M664.1 341.2V422.2M668.0 341.2V353.6M675.8 341.2V428.1M718.7 341.2V368.3M722.6 341.2V346.7M734.3 341.2V351.5M738.2 341.2V386.1M746.0 341.2V463.5M749.9 341.2V351.2M765.5 341.2V472.1M769.4 341.2V373.4M773.3 341.2V346.5M777.2 341.2V377.3M785.0 341.2V355.2M788.9 341.2V400.4M792.8 341.2V374.5M796.6 341.2V406.7M812.2 341.2V403.2M820.0 341.2V345.7M823.9 341.2V353.2M827.8 341.2V391.8M835.6 341.2V499.2M843.4 341.2V413.7M855.1 341.2V344.5M862.9 341.2V342.7M866.8 341.2V349.4M874.6 341.2V355.1M882.4 341.2V478.2M901.9 341.2V471.3M909.7 341.2V357.7M913.6 341.2V449.7M921.4 341.2V352.8M933.1 341.2V362.8M937.0 341.2V422.7M940.9 341.2V434.2M944.8 341.2V343.3M948.7 341.2V355.7M952.6 341.2V363.5M956.5 341.2V356.6M964.3 341.2V355.7M968.2 341.2V342.0M972.1 341.2V378.2M975.9 341.2V537.4M983.7 341.2V342.1M987.6 341.2V347.7M991.5 341.2V426.5M995.4 341.2V367.0M1007.1 341.2V381.8M1014.9 341.2V390.1M1018.8 341.2V359.4M1022.7 341.2V342.3M1026.6 341.2V450.6M1030.5 341.2V402.3M1038.3 341.2V350.8M1046.1 341.2V479.0M1053.9 341.2V379.2M1061.7 341.2V343.4M1065.6 341.2V352.8M1069.5 341.2V412.8M1073.4 341.2V358.7M1089.0 341.2V381.3M1092.9 341.2V350.3M1096.8 341.2V404.6M1100.7 341.2V544.7M1104.6 341.2V357.6M1108.5 341.2V343.0M1120.2 341.2V395.2M1124.1 341.2V431.6M1128.0 341.2V387.2M1131.9 341.2V521.7M1139.7 341.2V349.9M1151.4 341.2V372.6M1155.2 341.2V355.5M1159.1 341.2V372.6M1163.0 341.2V593.2M1166.9 341.2V353.2M1170.8 341.2V391.5M1174.7 341.2V583.0M1178.6 341.2V432.5M1182.5 341.2V611.4M1186.4 341.2V401.1M1190.3 341.2V611.4M1194.2 341.2V372.5M1198.1 341.2V369.2M1202.0 341.2V390.8M1205.9 341.2V401.2M1213.7 341.2V354.1M1217.6 341.2V611.4M1221.5 341.2V393.8M1225.4 341.2V358.0M1229.3 341.2V381.4M1233.2 341.2V432.9M1237.1 341.2V343.0M1241.0 341.2V611.4M1244.9 341.2V483.0M1248.8 341.2V345.9M1252.7 341.2V370.4M1256.6 341.2V610.2M1264.4 341.2V348.0M1268.3 341.2V384.4M1272.2 341.2V371.1M1280.0 341.2V611.0M1283.9 341.2V611.4M1287.8 341.2V406.6M1291.7 341.2V507.7M1295.6 341.2V366.8M1303.4 341.2V358.0M1307.3 341.2V445.1M1311.2 341.2V611.4M1315.1 341.2V364.2M1319.0 341.2V342.2M1322.9 341.2V389.7M1326.8 341.2V368.0M1330.6 341.2V348.7M1338.4 341.2V399.0M1342.3 341.2V388.0M1346.2 341.2V437.4M1350.1 341.2V611.4M1354.0 341.2V355.1M1357.9 341.2V611.4M1361.8 341.2V356.1M1365.7 341.2V365.9M1369.6 341.2V348.5M1373.5 341.2V366.6M1377.4 341.2V477.3M1385.2 341.2V363.7M1389.1 341.2V384.8M1393.0 341.2V398.3M1396.9 341.2V416.4M1404.7 341.2V355.0M1408.6 341.2V498.2M1416.4 341.2V500.2M1420.3 341.2V608.7M1424.2 341.2V344.2M1428.1 341.2V556.9M1439.8 341.2V577.9M1443.7 341.2V368.9M1447.6 341.2V353.5M1451.5 341.2V342.7M1455.4 341.2V357.1M1459.3 341.2V356.3M1463.2 341.2V353.4M1467.1 341.2V344.9M1471.0 341.2V342.8M1478.8 341.2V517.0M1482.7 341.2V347.8M1486.6 341.2V350.0M1506.1 341.2V450.3"/><path d="M95.0 341.2V342.8M98.9 341.2V345.5M102.8 341.2V458.6M106.7 341.2V344.1M110.6 341.2V611.4M114.5 341.2V446.6M130.1 341.2V475.0M134.0 341.2V468.5M141.8 341.2V611.4M149.6 341.2V396.9M157.4 341.2V413.0M165.2 341.2V356.0M169.1 341.2V357.3M173.0 341.2V419.9M180.8 341.2V420.2M184.7 341.2V344.2M188.6 341.2V343.6M192.5 341.2V481.3M200.3 341.2V381.1M208.1 341.2V368.8M215.9 341.2V343.3M219.8 341.2V402.3M223.7 341.2V460.1M231.5 341.2V361.2M239.3 341.2V345.6M247.1 341.2V402.9M254.9 341.2V419.0M258.8 341.2V357.9M262.7 341.2V344.9M266.5 341.2V347.3M274.3 341.2V347.8M278.2 341.2V342.7M282.1 341.2V357.2M289.9 341.2V368.2M293.8 341.2V348.0M305.5 341.2V348.8M309.4 341.2V346.0M321.1 341.2V364.3M328.9 341.2V379.1M332.8 341.2V383.4M336.7 341.2V362.6M344.5 341.2V352.7M360.1 341.2V351.0M364.0 341.2V357.3M375.7 341.2V358.0M379.6 341.2V350.1M383.5 341.2V356.3M387.4 341.2V349.1M399.1 341.2V361.3M410.8 341.2V430.6M414.7 341.2V351.0M422.5 341.2V399.2M426.4 341.2V450.3M434.2 341.2V399.1M438.1 341.2V358.2M445.8 341.2V358.7M449.7 341.2V355.9M453.6 341.2V421.9M465.3 341.2V370.9M469.2 341.2V342.5M473.1 341.2V374.0M477.0 341.2V346.5M488.7 341.2V356.4M492.6 341.2V368.6M500.4 341.2V389.5M504.3 341.2V344.6M508.2 341.2V346.2M516.0 341.2V342.4M519.9 341.2V344.8M535.5 341.2V354.6M539.4 341.2V348.0M543.3 341.2V343.9M551.1 341.2V343.6M558.9 341.2V357.9M562.8 341.2V342.3M566.7 341.2V348.9M570.6 341.2V389.8M582.3 341.2V402.4M586.2 341.2V382.7M590.1 341.2V406.4M594.0 341.2V388.8M597.9 341.2V358.0M609.6 341.2V387.4M621.2 341.2V364.5M629.0 341.2V426.7M636.8 341.2V362.9M640.7 341.2V342.5M648.5 341.2V356.7M652.4 341.2V346.5M656.3 341.2V372.7M660.2 341.2V343.8M668.0 341.2V367.5M675.8 341.2V368.3M683.6 341.2V342.0M687.5 341.2V382.5M691.4 341.2V502.6M695.3 341.2V355.4M699.2 341.2V345.2M703.1 341.2V362.5M707.0 341.2V436.8M710.9 341.2V456.8M718.7 341.2V348.8M722.6 341.2V395.1M726.5 341.2V346.8M746.0 341.2V457.8M753.8 341.2V472.0M765.5 341.2V415.5M777.2 341.2V375.5M781.1 341.2V455.5M785.0 341.2V356.4M788.9 341.2V406.3M792.8 341.2V358.4M796.6 341.2V400.9M800.5 341.2V427.4M812.2 341.2V389.0M820.0 341.2V343.5M827.8 341.2V364.4M831.7 341.2V350.5M835.6 341.2V350.2M839.5 341.2V425.2M843.4 341.2V348.7M847.3 341.2V355.2M851.2 341.2V443.7M859.0 341.2V355.1M866.8 341.2V370.8M870.7 341.2V428.7M874.6 341.2V360.4M878.5 341.2V345.1M886.3 341.2V379.4M890.2 341.2V360.6M894.1 341.2V490.6M898.0 341.2V434.1M913.6 341.2V357.6M917.5 341.2V345.5M925.3 341.2V349.9M933.1 341.2V355.8M940.9 341.2V342.7M944.8 341.2V422.3M952.6 341.2V373.0M960.4 341.2V361.4M964.3 341.2V376.6M979.8 341.2V370.1M987.6 341.2V350.9M1018.8 341.2V368.8M1022.7 341.2V358.1M1026.6 341.2V359.6M1030.5 341.2V379.6M1038.3 341.2V431.4M1050.0 341.2V370.7M1053.9 341.2V350.5M1057.8 341.2V350.1M1061.7 341.2V357.1M1065.6 341.2V533.4M1069.5 341.2V346.3M1073.4 341.2V437.1M1077.3 341.2V343.0M1085.1 341.2V364.5M1089.0 341.2V415.8M1092.9 341.2V348.8M1096.8 341.2V428.5M1120.2 341.2V347.5M1124.1 341.2V423.9M1128.0 341.2V544.1M1131.9 341.2V412.7M1139.7 341.2V361.5M1143.6 341.2V363.2M1147.5 341.2V361.5M1155.2 341.2V434.0M1163.0 341.2V365.2M1166.9 341.2V384.1M1170.8 341.2V398.6M1174.7 341.2V516.3M1178.6 341.2V366.2M1186.4 341.2V343.2M1190.3 341.2V408.4M1194.2 341.2V499.7M1198.1 341.2V611.4M1202.0 341.2V344.9M1205.9 341.2V389.1M1213.7 341.2V344.1M1217.6 341.2V347.6M1221.5 341.2V342.5M1225.4 341.2V587.6M1229.3 341.2V379.2M1233.2 341.2V468.5M1237.1 341.2V576.3M1241.0 341.2V411.9M1244.9 341.2V349.8M1248.8 341.2V428.0M1252.7 341.2V517.9M1256.6 341.2V349.6M1260.5 341.2V421.0M1264.4 341.2V398.9M1268.3 341.2V611.4M1272.2 341.2V408.7M1276.1 341.2V392.7M1280.0 341.2V345.0M1283.9 341.2V441.0M1291.7 341.2V587.4M1295.6 341.2V346.1M1299.5 341.2V371.3M1303.4 341.2V382.3M1307.3 341.2V369.1M1311.2 341.2V351.9M1319.0 341.2V425.3M1322.9 341.2V363.0M1326.8 341.2V526.0M1330.6 341.2V441.6M1334.5 341.2V421.4M1338.4 341.2V437.3M1342.3 341.2V513.5M1346.2 341.2V398.8M1354.0 341.2V386.2M1357.9 341.2V348.6M1361.8 341.2V486.3M1369.6 341.2V611.4M1373.5 341.2V343.8M1377.4 341.2V419.3M1381.3 341.2V367.8M1385.2 341.2V375.6M1389.1 341.2V545.1M1393.0 341.2V343.6M1396.9 341.2V473.1M1400.8 341.2V611.4M1404.7 341.2V349.6M1408.6 341.2V349.9M1412.5 341.2V362.9M1416.4 341.2V352.7M1424.2 341.2V406.7M1428.1 341.2V351.6M1435.9 341.2V361.7M1439.8 341.2V355.4M1447.6 341.2V427.0M1451.5 341.2V473.7M1455.4 341.2V343.8M1459.3 341.2V380.4M1463.2 341.2V344.9M1467.1 341.2V376.3M1471.0 341.2V343.2M1474.9 341.2V351.3M1478.8 341.2V348.1M1482.7 341.2V396.7M1490.5 341.2V378.6M1494.4 341.2V553.2M1498.3 341.2V357.8M1506.1 341.2V414.5"/><path d="M87.2 341.2V348.4M102.8 341.2V459.4M106.7 341.2V342.6M110.6 341.2V450.1M114.5 341.2V345.3M118.4 341.2V349.4M126.2 341.2V355.4M130.1 341.2V386.5M134.0 341.2V455.7M137.9 341.2V342.9M141.8 341.2V426.5M145.7 341.2V410.3M149.6 341.2V489.2M161.3 341.2V469.3M169.1 341.2V390.6M173.0 341.2V355.8M176.9 341.2V349.7M180.8 341.2V350.0M184.7 341.2V440.6M188.6 341.2V386.2M192.5 341.2V415.5M196.4 341.2V611.4M200.3 341.2V510.9M208.1 341.2V342.4M219.8 341.2V409.2M223.7 341.2V350.9M231.5 341.2V388.5M235.4 341.2V611.4M243.2 341.2V342.7M247.1 341.2V345.1M254.9 341.2V343.5M282.1 341.2V342.7M297.7 341.2V352.5M305.5 341.2V346.1M309.4 341.2V375.7M313.3 341.2V358.5M321.1 341.2V409.5M328.9 341.2V383.0M336.7 341.2V347.7M348.4 341.2V365.0M360.1 341.2V343.2M375.7 341.2V359.6M379.6 341.2V355.4M391.3 341.2V382.6M395.2 341.2V343.3M399.1 341.2V342.4M403.0 341.2V351.2M406.9 341.2V357.1M410.8 341.2V361.4M422.5 341.2V360.3M426.4 341.2V390.8M434.2 341.2V344.5M441.9 341.2V355.6M445.8 341.2V380.6M449.7 341.2V367.0M457.5 341.2V349.1M461.4 341.2V403.9M465.3 341.2V378.5M473.1 341.2V350.9M488.7 341.2V371.2M504.3 341.2V347.7M535.5 341.2V365.2M539.4 341.2V342.9M543.3 341.2V380.2M551.1 341.2V451.2M555.0 341.2V348.2M558.9 341.2V356.7M562.8 341.2V360.0M570.6 341.2V459.5M574.5 341.2V435.5M578.4 341.2V347.6M586.2 341.2V363.9M590.1 341.2V342.9M597.9 341.2V369.7M601.8 341.2V343.8M609.6 341.2V390.0M621.2 341.2V348.8M625.1 341.2V355.0M629.0 341.2V344.0M636.8 341.2V350.2M644.6 341.2V502.0M660.2 341.2V457.0M668.0 341.2V344.0M671.9 341.2V352.0M679.7 341.2V347.1M687.5 341.2V370.0M691.4 341.2V555.8M695.3 341.2V418.9M699.2 341.2V343.7M703.1 341.2V397.8M710.9 341.2V442.8M714.8 341.2V345.3M718.7 341.2V398.3M726.5 341.2V391.6M742.1 341.2V357.0M746.0 341.2V482.0M753.8 341.2V359.8M757.7 341.2V395.1M761.6 341.2V370.8M765.5 341.2V348.2M769.4 341.2V374.2M773.3 341.2V464.0M781.1 341.2V343.0M788.9 341.2V385.3M792.8 341.2V372.6M796.6 341.2V571.6M800.5 341.2V346.3M812.2 341.2V368.5M816.1 341.2V364.0M820.0 341.2V342.6M823.9 341.2V349.3M827.8 341.2V347.6M831.7 341.2V454.0M835.6 341.2V354.7M839.5 341.2V394.9M851.2 341.2V382.4M855.1 341.2V384.0M862.9 341.2V379.0M870.7 341.2V342.0M874.6 341.2V358.5M882.4 341.2V348.6M890.2 341.2V344.3M901.9 341.2V433.7M913.6 341.2V381.5M921.4 341.2V367.8M925.3 341.2V346.6M929.2 341.2V351.0M937.0 341.2V426.1M940.9 341.2V349.6M944.8 341.2V405.4M948.7 341.2V348.1M952.6 341.2V346.4M960.4 341.2V377.8M972.1 341.2V361.5M991.5 341.2V435.5M995.4 341.2V367.1M1003.2 341.2V499.0M1007.1 341.2V415.6M1014.9 341.2V353.9M1018.8 341.2V382.6M1022.7 341.2V364.9M1030.5 341.2V423.4M1034.4 341.2V454.5M1038.3 341.2V344.6M1042.2 341.2V443.8M1050.0 341.2V366.1M1053.9 341.2V363.1M1057.8 341.2V390.8M1061.7 341.2V402.6M1065.6 341.2V367.7M1069.5 341.2V342.7M1073.4 341.2V351.3M1081.2 341.2V472.9M1085.1 341.2V451.7M1089.0 341.2V347.5M1092.9 341.2V400.4M1096.8 341.2V397.9M1100.7 341.2V346.5M1108.5 341.2V371.3M1112.4 341.2V381.8M1116.3 341.2V359.9M1120.2 341.2V362.0M1124.1 341.2V361.8M1131.9 341.2V388.4M1139.7 341.2V400.2M1147.5 341.2V428.7M1155.2 341.2V342.4M1159.1 341.2V353.4M1163.0 341.2V424.3M1166.9 341.2V421.5M1170.8 341.2V359.2M1174.7 341.2V428.2M1178.6 341.2V593.9M1182.5 341.2V346.0M1186.4 341.2V416.0M1190.3 341.2V611.4M1194.2 341.2V375.2M1198.1 341.2V517.8M1205.9 341.2V514.1M1217.6 341.2V348.8M1221.5 341.2V393.7M1225.4 341.2V396.7M1229.3 341.2V549.8M1233.2 341.2V611.4M1237.1 341.2V422.2M1241.0 341.2V366.9M1244.9 341.2V361.1M1248.8 341.2V351.2M1252.7 341.2V389.2M1260.5 341.2V477.1M1264.4 341.2V611.4M1268.3 341.2V611.4M1272.2 341.2V606.6M1276.1 341.2V457.6M1280.0 341.2V438.2M1283.9 341.2V583.9M1287.8 341.2V449.0M1291.7 341.2V415.7M1295.6 341.2V501.2M1299.5 341.2V584.5M1303.4 341.2V407.5M1311.2 341.2V374.5M1315.1 341.2V611.4M1319.0 341.2V599.0M1322.9 341.2V358.9M1330.6 341.2V500.2M1334.5 341.2V388.9M1338.4 341.2V452.3M1342.3 341.2V370.3M1346.2 341.2V352.2M1350.1 341.2V440.0M1354.0 341.2V411.5M1357.9 341.2V393.9M1361.8 341.2V343.3M1365.7 341.2V447.8M1369.6 341.2V439.6M1373.5 341.2V421.5M1377.4 341.2V350.6M1381.3 341.2V413.2M1385.2 341.2V392.5M1389.1 341.2V459.8M1393.0 341.2V361.3M1396.9 341.2V344.7M1400.8 341.2V431.8M1408.6 341.2V384.0M1412.5 341.2V372.5M1416.4 341.2V350.5M1420.3 341.2V363.3M1424.2 341.2V432.6M1428.1 341.2V348.1M1432.0 341.2V597.1M1435.9 341.2V342.2M1439.8 341.2V465.4M1443.7 341.2V379.8M1451.5 341.2V344.7M1455.4 341.2V382.3M1459.3 341.2V368.3M1463.2 341.2V346.0M1471.0 341.2V368.1M1474.9 341.2V344.2M1478.8 341.2V423.4M1486.6 341.2V411.7M1490.5 341.2V343.0M1498.3 341.2V343.3M1506.1 341.2V350.2"/><path d="M87.2 341.2V376.4M91.1 341.2V375.1M95.0 341.2V611.4M98.9 341.2V363.5M106.7 341.2V396.1M110.6 341.2V357.0M114.5 341.2V401.3M118.4 341.2V389.5M130.1 341.2V342.0M134.0 341.2V550.0M137.9 341.2V363.4M153.5 341.2V379.7M161.3 341.2V349.9M165.2 341.2V346.7M169.1 341.2V611.4M173.0 341.2V356.2M184.7 341.2V358.7M188.6 341.2V503.7M192.5 341.2V343.9M200.3 341.2V344.1M204.2 341.2V458.5M212.0 341.2V405.9M215.9 341.2V351.0M219.8 341.2V345.4M227.6 341.2V457.9M239.3 341.2V342.4M243.2 341.2V343.4M262.7 341.2V451.7M266.5 341.2V365.0M270.4 341.2V416.7M274.3 341.2V348.7M278.2 341.2V512.0M282.1 341.2V581.5M286.0 341.2V423.1M289.9 341.2V401.5M293.8 341.2V342.1M301.6 341.2V374.0M309.4 341.2V438.3M321.1 341.2V440.4M325.0 341.2V350.4M336.7 341.2V343.8M340.6 341.2V343.3M352.3 341.2V413.2M356.2 341.2V346.2M360.1 341.2V364.9M367.9 341.2V348.3M371.8 341.2V445.3M375.7 341.2V353.4M383.5 341.2V376.5M406.9 341.2V371.4M410.8 341.2V428.0M414.7 341.2V364.8M418.6 341.2V345.6M422.5 341.2V348.1M426.4 341.2V403.5M434.2 341.2V343.5M445.8 341.2V357.7M449.7 341.2V373.2M453.6 341.2V345.0M457.5 341.2V384.3M461.4 341.2V370.1M465.3 341.2V359.7M477.0 341.2V367.1M480.9 341.2V434.6M488.7 341.2V343.5M492.6 341.2V348.2M496.5 341.2V349.2M500.4 341.2V369.0M504.3 341.2V361.5M516.0 341.2V424.6M531.6 341.2V447.6M535.5 341.2V374.8M539.4 341.2V375.1M547.2 341.2V430.9M566.7 341.2V465.5M570.6 341.2V422.3M578.4 341.2V409.2M586.2 341.2V348.5M590.1 341.2V562.7M594.0 341.2V342.4M597.9 341.2V366.6M605.7 341.2V428.4M609.6 341.2V366.1M617.4 341.2V590.6M621.2 341.2V351.3M629.0 341.2V380.1M632.9 341.2V353.0M640.7 341.2V350.5M648.5 341.2V379.7M668.0 341.2V352.5M671.9 341.2V347.0M675.8 341.2V350.3M683.6 341.2V357.9M687.5 341.2V364.8M691.4 341.2V424.3M695.3 341.2V345.3M699.2 341.2V348.9M703.1 341.2V402.4M707.0 341.2V354.7M714.8 341.2V344.0M718.7 341.2V346.7M722.6 341.2V359.5M730.4 341.2V346.3M734.3 341.2V504.7M738.2 341.2V398.0M742.1 341.2V360.7M746.0 341.2V368.0M749.9 341.2V351.0M757.7 341.2V344.0M765.5 341.2V411.4M769.4 341.2V394.5M773.3 341.2V549.0M777.2 341.2V566.6M781.1 341.2V396.1M796.6 341.2V344.4M808.3 341.2V355.0M816.1 341.2V353.1M823.9 341.2V494.6M835.6 341.2V611.4M839.5 341.2V398.0M847.3 341.2V379.7M859.0 341.2V362.2M878.5 341.2V346.2M882.4 341.2V401.9M894.1 341.2V507.1M901.9 341.2V342.2M909.7 341.2V367.3M913.6 341.2V345.3M925.3 341.2V348.3M933.1 341.2V343.3M937.0 341.2V382.0M940.9 341.2V390.6M944.8 341.2V344.9M948.7 341.2V365.6M956.5 341.2V344.6M964.3 341.2V356.1M968.2 341.2V511.9M975.9 341.2V487.8M983.7 341.2V349.0M991.5 341.2V352.4M995.4 341.2V364.3M1007.1 341.2V411.3M1011.0 341.2V357.4M1014.9 341.2V466.4M1018.8 341.2V412.1M1022.7 341.2V346.6M1030.5 341.2V357.7M1034.4 341.2V345.9M1042.2 341.2V345.7M1046.1 341.2V382.0M1050.0 341.2V447.0M1057.8 341.2V611.4M1065.6 341.2V370.0M1073.4 341.2V347.0M1081.2 341.2V346.9M1085.1 341.2V353.6M1092.9 341.2V359.6M1100.7 341.2V611.4M1104.6 341.2V353.4M1108.5 341.2V514.2M1112.4 341.2V474.1M1116.3 341.2V611.4M1120.2 341.2V369.2M1124.1 341.2V474.2M1135.8 341.2V467.2M1139.7 341.2V489.8M1143.6 341.2V409.7M1147.5 341.2V373.3M1151.4 341.2V611.4M1155.2 341.2V474.5M1166.9 341.2V413.0M1170.8 341.2V474.9M1174.7 341.2V592.9M1178.6 341.2V413.1M1182.5 341.2V489.3M1186.4 341.2V563.0M1190.3 341.2V515.3M1194.2 341.2V412.6M1202.0 341.2V510.7M1205.9 341.2V461.6M1209.8 341.2V361.7M1213.7 341.2V407.5M1217.6 341.2V474.2M1221.5 341.2V547.4M1225.4 341.2V475.0M1229.3 341.2V444.0M1233.2 341.2V467.8M1237.1 341.2V383.9M1241.0 341.2V363.4M1244.9 341.2V611.4M1248.8 341.2V354.6M1252.7 341.2V477.3M1256.6 341.2V362.3M1260.5 341.2V556.5M1268.3 341.2V444.6M1272.2 341.2V355.3M1283.9 341.2V453.4M1287.8 341.2V373.6M1291.7 341.2V382.6M1295.6 341.2V541.7M1299.5 341.2V358.5M1303.4 341.2V390.9M1307.3 341.2V344.5M1319.0 341.2V343.3M1322.9 341.2V345.0M1326.8 341.2V396.6M1330.6 341.2V358.5M1334.5 341.2V408.9M1338.4 341.2V611.4M1342.3 341.2V497.1M1346.2 341.2V396.9M1350.1 341.2V611.4M1354.0 341.2V411.5M1357.9 341.2V403.3M1361.8 341.2V375.3M1365.7 341.2V611.4M1369.6 341.2V354.2M1373.5 341.2V427.7M1381.3 341.2V373.1M1393.0 341.2V342.7M1396.9 341.2V362.3M1400.8 341.2V384.3M1404.7 341.2V372.3M1408.6 341.2V344.3M1412.5 341.2V368.0M1416.4 341.2V476.1M1420.3 341.2V383.2M1424.2 341.2V344.6M1428.1 341.2V362.2M1432.0 341.2V346.1M1435.9 341.2V356.8M1439.8 341.2V344.0M1443.7 341.2V390.1M1447.6 341.2V347.0M1451.5 341.2V395.2M1455.4 341.2V342.3M1459.3 341.2V402.9M1463.2 341.2V403.1M1467.1 341.2V422.5M1471.0 341.2V351.5M1474.9 341.2V376.6M1478.8 341.2V346.5M1486.6 341.2V364.8M1490.5 341.2V375.5M1494.4 341.2V472.0M1502.2 341.2V424.6"/><path d="M87.2 341.2V389.0M91.1 341.2V375.3M95.0 341.2V395.1M98.9 341.2V350.2M102.8 341.2V344.3M110.6 341.2V422.0M114.5 341.2V370.6M134.0 341.2V372.2M145.7 341.2V611.4M149.6 341.2V376.5M153.5 341.2V357.5M157.4 341.2V354.6M161.3 341.2V424.4M169.1 341.2V364.0M173.0 341.2V535.2M176.9 341.2V407.7M184.7 341.2V357.2M192.5 341.2V350.0M200.3 341.2V360.8M204.2 341.2V367.6M215.9 341.2V374.1M223.7 341.2V356.1M231.5 341.2V357.3M235.4 341.2V343.5M239.3 341.2V368.8M247.1 341.2V347.4M251.0 341.2V348.2M254.9 341.2V342.7M262.7 341.2V345.0M274.3 341.2V358.7M278.2 341.2V390.2M282.1 341.2V390.1M286.0 341.2V390.1M293.8 341.2V373.3M305.5 341.2V350.2M313.3 341.2V358.7M317.2 341.2V368.1M325.0 341.2V343.8M336.7 341.2V367.8M344.5 341.2V388.6M348.4 341.2V361.8M367.9 341.2V377.6M387.4 341.2V368.7M391.3 341.2V377.1M399.1 341.2V351.7M410.8 341.2V365.7M418.6 341.2V370.1M422.5 341.2V367.8M426.4 341.2V392.7M430.3 341.2V510.0M434.2 341.2V382.8M438.1 341.2V351.9M441.9 341.2V379.1M445.8 341.2V372.6M449.7 341.2V344.9M453.6 341.2V400.1M461.4 341.2V365.0M465.3 341.2V348.4M469.2 341.2V421.6M477.0 341.2V347.1M488.7 341.2V379.9M500.4 341.2V404.1M516.0 341.2V366.8M519.9 341.2V342.3M527.7 341.2V361.8M531.6 341.2V405.5M535.5 341.2V399.1M539.4 341.2V428.2M543.3 341.2V342.0M551.1 341.2V437.7M555.0 341.2V472.5M558.9 341.2V415.2M562.8 341.2V348.2M566.7 341.2V371.0M570.6 341.2V365.4M578.4 341.2V350.9M590.1 341.2V368.5M597.9 341.2V412.5M605.7 341.2V365.0M613.5 341.2V358.3M625.1 341.2V355.5M636.8 341.2V401.9M644.6 341.2V435.7M652.4 341.2V348.8M656.3 341.2V388.7M660.2 341.2V345.3M668.0 341.2V342.0M675.8 341.2V354.7M679.7 341.2V585.2M683.6 341.2V380.6M687.5 341.2V349.6M691.4 341.2V352.4M710.9 341.2V373.1M722.6 341.2V349.1M726.5 341.2V432.9M730.4 341.2V395.7M734.3 341.2V348.4M742.1 341.2V611.4M753.8 341.2V400.2M757.7 341.2V351.6M761.6 341.2V361.1M769.4 341.2V352.8M773.3 341.2V487.0M777.2 341.2V355.1M781.1 341.2V351.5M785.0 341.2V352.9M792.8 341.2V343.0M796.6 341.2V346.3M804.4 341.2V355.2M812.2 341.2V364.4M816.1 341.2V441.9M823.9 341.2V371.7M835.6 341.2V345.0M839.5 341.2V348.1M843.4 341.2V438.7M851.2 341.2V405.2M855.1 341.2V343.1M859.0 341.2V342.1M870.7 341.2V372.2M882.4 341.2V342.0M886.3 341.2V344.5M890.2 341.2V342.4M929.2 341.2V367.7M933.1 341.2V361.2M937.0 341.2V348.8M944.8 341.2V418.7M948.7 341.2V347.6M960.4 341.2V367.4M964.3 341.2V349.3M972.1 341.2V424.5M979.8 341.2V414.6M983.7 341.2V380.5M987.6 341.2V399.3M991.5 341.2V407.8M995.4 341.2V360.8M999.3 341.2V344.3M1011.0 341.2V494.9M1022.7 341.2V432.1M1026.6 341.2V359.3M1034.4 341.2V398.2M1038.3 341.2V439.5M1042.2 341.2V342.1M1046.1 341.2V346.4M1050.0 341.2V362.5M1053.9 341.2V363.3M1061.7 341.2V366.7M1065.6 341.2V344.9M1069.5 341.2V387.5M1073.4 341.2V344.9M1077.3 341.2V344.5M1081.2 341.2V364.5M1085.1 341.2V377.9M1089.0 341.2V504.8M1092.9 341.2V370.4M1096.8 341.2V365.6M1108.5 341.2V342.8M1112.4 341.2V486.6M1116.3 341.2V360.2M1124.1 341.2V344.2M1135.8 341.2V342.2M1139.7 341.2V611.4M1143.6 341.2V386.2M1147.5 341.2V487.3M1151.4 341.2V400.6M1155.2 341.2V432.8M1159.1 341.2V390.5M1163.0 341.2V371.5M1170.8 341.2V352.3M1174.7 341.2V357.4M1178.6 341.2V441.5M1182.5 341.2V429.5M1186.4 341.2V368.2M1190.3 341.2V611.4M1194.2 341.2V342.1M1198.1 341.2V534.3M1202.0 341.2V367.5M1205.9 341.2V611.4M1209.8 341.2V525.0M1213.7 341.2V433.6M1217.6 341.2V369.7M1221.5 341.2V417.4M1229.3 341.2V500.8M1233.2 341.2V611.4M1237.1 341.2V426.7M1241.0 341.2V343.8M1244.9 341.2V611.4M1252.7 341.2V572.0M1256.6 341.2V424.3M1260.5 341.2V611.4M1264.4 341.2V611.4M1272.2 341.2V423.7M1276.1 341.2V438.3M1280.0 341.2V366.8M1283.9 341.2V389.3M1291.7 341.2V415.3M1299.5 341.2V459.9M1303.4 341.2V568.1M1315.1 341.2V355.6M1322.9 341.2V353.9M1326.8 341.2V347.5M1334.5 341.2V611.4M1338.4 341.2V445.8M1342.3 341.2V349.2M1346.2 341.2V584.4M1350.1 341.2V396.4M1354.0 341.2V519.7M1357.9 341.2V611.4M1361.8 341.2V431.1M1365.7 341.2V386.4M1369.6 341.2V362.8M1373.5 341.2V518.4M1377.4 341.2V360.8M1381.3 341.2V611.4M1385.2 341.2V515.0M1389.1 341.2V351.3M1393.0 341.2V358.2M1396.9 341.2V554.0M1400.8 341.2V427.1M1404.7 341.2V389.8M1408.6 341.2V344.5M1412.5 341.2V373.9M1416.4 341.2V362.2M1420.3 341.2V473.6M1428.1 341.2V399.5M1432.0 341.2V366.1M1435.9 341.2V611.4M1439.8 341.2V467.7M1451.5 341.2V358.0M1455.4 341.2V542.7M1459.3 341.2V344.5M1463.2 341.2V430.9M1467.1 341.2V343.9M1471.0 341.2V430.3M1474.9 341.2V408.1M1478.8 341.2V373.3M1482.7 341.2V495.3M1486.6 341.2V432.9M1494.4 341.2V423.9M1498.3 341.2V369.1M1502.2 341.2V371.4M1506.1 341.2V443.0"/><path d="M91.1 341.2V580.9M95.0 341.2V510.1M102.8 341.2V437.4M110.6 341.2V350.3M114.5 341.2V611.4M118.4 341.2V370.7M122.3 341.2V398.0M130.1 341.2V447.5M134.0 341.2V447.1M141.8 341.2V381.8M149.6 341.2V387.7M153.5 341.2V352.3M161.3 341.2V390.6M169.1 341.2V349.5M173.0 341.2V354.6M176.9 341.2V446.5M180.8 341.2V363.4M184.7 341.2V366.8M188.6 341.2V342.2M192.5 341.2V451.8M196.4 341.2V378.6M204.2 341.2V367.4M208.1 341.2V370.1M215.9 341.2V352.5M219.8 341.2V453.0M223.7 341.2V416.1M231.5 341.2V376.8M243.2 341.2V344.2M247.1 341.2V379.7M254.9 341.2V342.9M258.8 341.2V343.1M262.7 341.2V349.5M270.4 341.2V351.1M274.3 341.2V466.3M289.9 341.2V344.4M293.8 341.2V417.6M297.7 341.2V343.4M305.5 341.2V352.8M309.4 341.2V350.5M313.3 341.2V341.9M321.1 341.2V354.3M336.7 341.2V353.3M344.5 341.2V349.5M356.2 341.2V365.3M360.1 341.2V342.1M364.0 341.2V421.4M375.7 341.2V342.4M383.5 341.2V374.8M387.4 341.2V343.4M391.3 341.2V343.6M403.0 341.2V358.3M406.9 341.2V343.8M410.8 341.2V354.8M414.7 341.2V362.9M422.5 341.2V403.6M430.3 341.2V361.5M434.2 341.2V385.0M438.1 341.2V424.2M445.8 341.2V493.9M449.7 341.2V354.0M453.6 341.2V342.5M457.5 341.2V368.9M461.4 341.2V426.8M480.9 341.2V431.7M488.7 341.2V369.2M492.6 341.2V344.4M500.4 341.2V350.8M516.0 341.2V353.7M519.9 341.2V342.9M523.8 341.2V376.8M527.7 341.2V342.4M531.6 341.2V350.5M535.5 341.2V424.5M547.2 341.2V352.9M558.9 341.2V351.8M562.8 341.2V385.9M566.7 341.2V439.5M570.6 341.2V350.9M586.2 341.2V431.5M601.8 341.2V346.8M605.7 341.2V358.6M609.6 341.2V394.2M621.2 341.2V349.1M625.1 341.2V450.6M640.7 341.2V355.0M648.5 341.2V365.2M656.3 341.2V421.9M660.2 341.2V371.8M664.1 341.2V343.6M668.0 341.2V415.0M671.9 341.2V409.0M683.6 341.2V385.5M687.5 341.2V359.6M691.4 341.2V352.5M703.1 341.2V418.3M707.0 341.2V406.0M710.9 341.2V342.4M714.8 341.2V357.7M718.7 341.2V379.0M726.5 341.2V371.3M730.4 341.2V408.6M738.2 341.2V385.7M746.0 341.2V375.0M749.9 341.2V393.2M757.7 341.2V342.1M769.4 341.2V347.1M781.1 341.2V349.2M788.9 341.2V485.5M804.4 341.2V346.1M808.3 341.2V350.7M820.0 341.2V441.5M823.9 341.2V346.6M827.8 341.2V387.2M831.7 341.2V347.8M835.6 341.2V346.4M839.5 341.2V343.5M843.4 341.2V368.5M847.3 341.2V427.3M855.1 341.2V582.8M882.4 341.2V358.3M886.3 341.2V352.0M894.1 341.2V609.5M898.0 341.2V342.0M901.9 341.2V513.8M905.8 341.2V345.1M913.6 341.2V392.3M921.4 341.2V346.8M925.3 341.2V346.7M933.1 341.2V358.9M948.7 341.2V364.7M952.6 341.2V368.1M956.5 341.2V346.7M960.4 341.2V369.4M964.3 341.2V354.9M968.2 341.2V396.9M972.1 341.2V347.2M975.9 341.2V342.6M979.8 341.2V413.3M983.7 341.2V378.7M987.6 341.2V374.1M1007.1 341.2V345.9M1014.9 341.2V496.0M1022.7 341.2V372.2M1026.6 341.2V418.9M1030.5 341.2V390.1M1034.4 341.2V376.9M1042.2 341.2V461.1M1046.1 341.2V370.0M1061.7 341.2V412.7M1081.2 341.2V366.0M1085.1 341.2V384.8M1089.0 341.2V345.1M1096.8 341.2V388.9M1100.7 341.2V343.2M1104.6 341.2V398.4M1112.4 341.2V414.3M1116.3 341.2V346.0M1120.2 341.2V461.6M1124.1 341.2V405.1M1131.9 341.2V357.5M1135.8 341.2V458.1M1139.7 341.2V384.8M1143.6 341.2V393.6M1147.5 341.2V419.7M1155.2 341.2V354.0M1159.1 341.2V350.0M1163.0 341.2V381.5M1166.9 341.2V356.9M1170.8 341.2V342.9M1174.7 341.2V611.4M1178.6 341.2V360.7M1182.5 341.2V387.1M1186.4 341.2V611.4M1190.3 341.2V424.9M1198.1 341.2V535.6M1202.0 341.2V611.4M1205.9 341.2V565.2M1209.8 341.2V415.1M1213.7 341.2V399.9M1217.6 341.2V440.4M1225.4 341.2V374.5M1229.3 341.2V357.6M1233.2 341.2V385.8M1237.1 341.2V485.8M1248.8 341.2V350.5M1252.7 341.2V353.6M1256.6 341.2V611.4M1260.5 341.2V611.4M1264.4 341.2V366.5M1268.3 341.2V349.7M1272.2 341.2V438.5M1276.1 341.2V611.4M1280.0 341.2V362.1M1283.9 341.2V347.8M1287.8 341.2V392.1M1291.7 341.2V384.9M1295.6 341.2V423.3M1299.5 341.2V360.1M1303.4 341.2V506.7M1307.3 341.2V611.4M1315.1 341.2V611.4M1319.0 341.2V342.6M1322.9 341.2V523.3M1326.8 341.2V380.0M1334.5 341.2V465.0M1338.4 341.2V465.1M1346.2 341.2V389.1M1350.1 341.2V373.2M1354.0 341.2V432.6M1357.9 341.2V610.2M1365.7 341.2V426.5M1369.6 341.2V362.6M1373.5 341.2V403.8M1377.4 341.2V387.8M1381.3 341.2V429.7M1385.2 341.2V362.1M1393.0 341.2V385.8M1396.9 341.2V510.9M1400.8 341.2V343.1M1404.7 341.2V391.8M1416.4 341.2V385.1M1420.3 341.2V366.5M1424.2 341.2V384.0M1428.1 341.2V439.7M1435.9 341.2V360.7M1439.8 341.2V354.7M1447.6 341.2V482.7M1451.5 341.2V416.6M1455.4 341.2V545.9M1459.3 341.2V376.2M1463.2 341.2V604.8M1467.1 341.2V357.6M1474.9 341.2V362.1M1482.7 341.2V516.0M1486.6 341.2V578.3M1490.5 341.2V381.8M1494.4 341.2V364.9M1498.3 341.2V431.3M1502.2 341.2V354.5M1506.1 341.2V358.1"/></g><path d="M85.3 101.17H1508.0 M85.3 127.85H1508.0 M85.3 154.53H1508.0 M85.3 181.20H1508.0 M85.3 207.88H1508.0 M85.3 234.55H1508.0 M85.3 261.23H1508.0 M85.3 287.90H1508.0 M85.3 314.57H1508.0 M85.3 367.93H1508.0 M85.3 394.60H1508.0 M85.3 421.27H1508.0 M85.3 447.95H1508.0 M85.3 474.62H1508.0 M85.3 501.30H1508.0 M85.3 527.98H1508.0 M85.3 554.65H1508.0 M85.3 581.33H1508.0" stroke="#fff" stroke-opacity="0.28" stroke-width="1" fill="none"/><path d="M206.13 74.5V613 M315.27 74.5V613 M436.10 74.5V613 M553.04 74.5V613 M673.87 74.5V613 M790.80 74.5V613 M911.64 74.5V613 M1032.47 74.5V613 M1149.40 74.5V613 M1270.23 74.5V613 M1387.17 74.5V613" stroke="#fff" stroke-opacity="0.33" stroke-width="1" fill="none"/><path d="M85.3 217.2 L87.7 217.2 L90.0 217.1 L92.4 217.1 L94.8 217.1 L97.2 217.1 L99.5 217.0 L101.9 217.0 L104.3 217.0 L106.6 216.9 L109.0 216.9 L111.4 216.9 L113.8 216.8 L116.1 216.8 L118.5 216.8 L120.9 216.7 L123.2 216.7 L125.6 216.6 L128.0 216.6 L130.4 216.6 L132.7 216.5 L135.1 216.5 L137.5 216.4 L139.8 216.4 L142.2 216.3 L144.6 216.3 L147.0 216.2 L149.3 216.2 L151.7 216.1 L154.1 216.0 L156.4 216.0 L158.8 215.9 L161.2 215.9 L163.5 215.8 L165.9 215.8 L168.3 215.7 L170.7 215.6 L173.0 215.6 L175.4 215.5 L177.8 215.4 L180.1 215.4 L182.5 215.3 L184.9 215.2 L187.3 215.2 L189.6 215.1 L192.0 215.0 L194.4 214.9 L196.7 214.9 L199.1 214.8 L201.5 214.7 L203.9 214.7 L206.2 214.6 L208.6 214.5 L211.0 214.4 L213.3 214.3 L215.7 214.3 L218.1 214.2 L220.5 214.1 L222.8 214.0 L225.2 213.9 L227.6 213.9 L229.9 213.8 L232.3 213.7 L234.7 213.6 L237.1 213.5 L239.4 213.4 L241.8 213.3 L244.2 213.3 L246.5 213.2 L248.9 213.1 L251.3 213.0 L253.7 212.9 L256.0 212.8 L258.4 212.7 L260.8 212.6 L263.1 212.5 L265.5 212.4 L267.9 212.4 L270.3 212.3 L272.6 212.2 L275.0 212.1 L277.4 212.0 L279.7 211.9 L282.1 211.8 L284.5 211.7 L286.8 211.6 L289.2 211.5 L291.6 211.4 L294.0 211.3 L296.3 211.2 L298.7 211.1 L301.1 211.0 L303.4 210.9 L305.8 210.8 L308.2 210.7 L310.6 210.6 L312.9 210.5 L315.3 210.4 L317.7 210.3 L320.0 210.2 L322.4 210.1 L324.8 210.0 L327.2 209.9 L329.5 209.8 L331.9 209.7 L334.3 209.6 L336.6 209.5 L339.0 209.4 L341.4 209.3 L343.8 209.2 L346.1 209.1 L348.5 208.9 L350.9 208.8 L353.2 208.7 L355.6 208.6 L358.0 208.5 L360.4 208.4 L362.7 208.3 L365.1 208.2 L367.5 208.1 L369.8 208.0 L372.2 207.9 L374.6 207.8 L377.0 207.7 L379.3 207.6 L381.7 207.5 L384.1 207.4 L386.4 207.2 L388.8 207.1 L391.2 207.0 L393.6 206.9 L395.9 206.8 L398.3 206.7 L400.7 206.6 L403.0 206.5 L405.4 206.4 L407.8 206.3 L410.1 206.2 L412.5 206.1 L414.9 206.0 L417.3 205.8 L419.6 205.7 L422.0 205.6 L424.4 205.5 L426.7 205.4 L429.1 205.3 L431.5 205.2 L433.9 205.1 L436.2 205.0 L438.6 204.9 L441.0 204.8 L443.3 204.7 L445.7 204.6 L448.1 204.5 L450.5 204.3 L452.8 204.2 L455.2 204.1 L457.6 204.0 L459.9 203.9 L462.3 203.8 L464.7 203.7 L467.1 203.6 L469.4 203.5 L471.8 203.4 L474.2 203.3 L476.5 203.2 L478.9 203.1 L481.3 203.0 L483.7 202.9 L486.0 202.8 L488.4 202.7 L490.8 202.6 L493.1 202.5 L495.5 202.4 L497.9 202.3 L500.3 202.2 L502.6 202.1 L505.0 201.9 L507.4 201.8 L509.7 201.7 L512.1 201.6 L514.5 201.5 L516.9 201.4 L519.2 201.4 L521.6 201.3 L524.0 201.2 L526.3 201.1 L528.7 201.0 L531.1 200.9 L533.5 200.8 L535.8 200.7 L538.2 200.6 L540.6 200.5 L542.9 200.4 L545.3 200.3 L547.7 200.2 L550.0 200.1 L552.4 200.0 L554.8 199.9 L557.2 199.8 L559.5 199.7 L561.9 199.7 L564.3 199.6 L566.6 199.5 L569.0 199.4 L571.4 199.3 L573.8 199.2 L576.1 199.1 L578.5 199.0 L580.9 199.0 L583.2 198.9 L585.6 198.8 L588.0 198.7 L590.4 198.6 L592.7 198.6 L595.1 198.5 L597.5 198.4 L599.8 198.3 L602.2 198.2 L604.6 198.2 L607.0 198.1 L609.3 198.0 L611.7 197.9 L614.1 197.9 L616.4 197.8 L618.8 197.7 L621.2 197.6 L623.6 197.6 L625.9 197.5 L628.3 197.4 L630.7 197.4 L633.0 197.3 L635.4 197.2 L637.8 197.2 L640.2 197.1 L642.5 197.1 L644.9 197.0 L647.3 196.9 L649.6 196.9 L652.0 196.8 L654.4 196.8 L656.8 196.7 L659.1 196.7 L661.5 196.6 L663.9 196.6 L666.2 196.5 L668.6 196.5 L671.0 196.4 L673.3 196.4 L675.7 196.3 L678.1 196.3 L680.5 196.2 L682.8 196.2 L685.2 196.1 L687.6 196.1 L689.9 196.1 L692.3 196.0 L694.7 196.0 L697.1 196.0 L699.4 195.9 L701.8 195.9 L704.2 195.9 L706.5 195.8 L708.9 195.8 L711.3 195.8 L713.7 195.8 L716.0 195.7 L718.4 195.7 L720.8 195.7 L723.1 195.7 L725.5 195.6 L727.9 195.6 L730.3 195.6 L732.6 195.6 L735.0 195.6 L737.4 195.6 L739.7 195.6 L742.1 195.6 L744.5 195.5 L746.9 195.5 L749.2 195.5 L751.6 195.5 L754.0 195.5 L756.3 195.5 L758.7 195.5 L761.1 195.5 L763.5 195.5 L765.8 195.5 L768.2 195.5 L770.6 195.6 L772.9 195.6 L775.3 195.6 L777.7 195.6 L780.1 195.6 L782.4 195.6 L784.8 195.6 L787.2 195.6 L789.5 195.7 L791.9 195.7 L794.3 195.7 L796.6 195.7 L799.0 195.7 L801.4 195.8 L803.8 195.8 L806.1 195.8 L808.5 195.9 L810.9 195.9 L813.2 195.9 L815.6 195.9 L818.0 196.0 L820.4 196.0 L822.7 196.1 L825.1 196.1 L827.5 196.1 L829.8 196.2 L832.2 196.2 L834.6 196.3 L837.0 196.3 L839.3 196.3 L841.7 196.4 L844.1 196.4 L846.4 196.5 L848.8 196.5 L851.2 196.6 L853.6 196.6 L855.9 196.7 L858.3 196.8 L860.7 196.8 L863.0 196.9 L865.4 196.9 L867.8 197.0 L870.2 197.0 L872.5 197.1 L874.9 197.2 L877.3 197.2 L879.6 197.3 L882.0 197.4 L884.4 197.4 L886.8 197.5 L889.1 197.6 L891.5 197.6 L893.9 197.7 L896.2 197.8 L898.6 197.8 L901.0 197.9 L903.4 198.0 L905.7 198.1 L908.1 198.1 L910.5 198.2 L912.8 198.3 L915.2 198.4 L917.6 198.4 L920.0 198.5 L922.3 198.6 L924.7 198.7 L927.1 198.8 L929.4 198.9 L931.8 198.9 L934.2 199.0 L936.5 199.1 L938.9 199.2 L941.3 199.3 L943.7 199.4 L946.0 199.5 L948.4 199.5 L950.8 199.6 L953.1 199.7 L955.5 199.8 L957.9 199.9 L960.3 200.0 L962.6 200.1 L965.0 200.2 L967.4 200.3 L969.7 200.4 L972.1 200.5 L974.5 200.5 L976.9 200.6 L979.2 200.7 L981.6 200.8 L984.0 200.9 L986.3 201.0 L988.7 201.1 L991.1 201.2 L993.5 201.3 L995.8 201.4 L998.2 201.5 L1000.6 201.6 L1002.9 201.7 L1005.3 201.8 L1007.7 201.9 L1010.1 202.0 L1012.4 202.1 L1014.8 202.2 L1017.2 202.3 L1019.5 202.4 L1021.9 202.5 L1024.3 202.6 L1026.7 202.7 L1029.0 202.8 L1031.4 202.9 L1033.8 203.0 L1036.1 203.2 L1038.5 203.3 L1040.9 203.4 L1043.3 203.5 L1045.6 203.6 L1048.0 203.7 L1050.4 203.8 L1052.7 203.9 L1055.1 204.0 L1057.5 204.1 L1059.8 204.2 L1062.2 204.3 L1064.6 204.4 L1067.0 204.5 L1069.3 204.6 L1071.7 204.7 L1074.1 204.8 L1076.4 205.0 L1078.8 205.1 L1081.2 205.2 L1083.6 205.3 L1085.9 205.4 L1088.3 205.5 L1090.7 205.6 L1093.0 205.7 L1095.4 205.8 L1097.8 205.9 L1100.2 206.0 L1102.5 206.1 L1104.9 206.2 L1107.3 206.4 L1109.6 206.5 L1112.0 206.6 L1114.4 206.7 L1116.8 206.8 L1119.1 206.9 L1121.5 207.0 L1123.9 207.1 L1126.2 207.2 L1128.6 207.3 L1131.0 207.4 L1133.4 207.5 L1135.7 207.6 L1138.1 207.7 L1140.5 207.9 L1142.8 208.0 L1145.2 208.1 L1147.6 208.2 L1150.0 208.3 L1152.3 208.4 L1154.7 208.5 L1157.1 208.6 L1159.4 208.7 L1161.8 208.8 L1164.2 208.9 L1166.6 209.0 L1168.9 209.1 L1171.3 209.2 L1173.7 209.3 L1176.0 209.4 L1178.4 209.5 L1180.8 209.6 L1183.2 209.8 L1185.5 209.9 L1187.9 210.0 L1190.3 210.1 L1192.6 210.2 L1195.0 210.3 L1197.4 210.4 L1199.7 210.5 L1202.1 210.6 L1204.5 210.7 L1206.9 210.8 L1209.2 210.9 L1211.6 211.0 L1214.0 211.1 L1216.3 211.2 L1218.7 211.3 L1221.1 211.4 L1223.5 211.5 L1225.8 211.6 L1228.2 211.7 L1230.6 211.8 L1232.9 211.9 L1235.3 211.9 L1237.7 212.0 L1240.1 212.1 L1242.4 212.2 L1244.8 212.3 L1247.2 212.4 L1249.5 212.5 L1251.9 212.6 L1254.3 212.7 L1256.7 212.8 L1259.0 212.9 L1261.4 213.0 L1263.8 213.1 L1266.1 213.1 L1268.5 213.2 L1270.9 213.3 L1273.3 213.4 L1275.6 213.5 L1278.0 213.6 L1280.4 213.7 L1282.7 213.7 L1285.1 213.8 L1287.5 213.9 L1289.9 214.0 L1292.2 214.1 L1294.6 214.2 L1297.0 214.2 L1299.3 214.3 L1301.7 214.4 L1304.1 214.5 L1306.5 214.6 L1308.8 214.6 L1311.2 214.7 L1313.6 214.8 L1315.9 214.9 L1318.3 214.9 L1320.7 215.0 L1323.0 215.1 L1325.4 215.1 L1327.8 215.2 L1330.2 215.3 L1332.5 215.3 L1334.9 215.4 L1337.3 215.5 L1339.6 215.5 L1342.0 215.6 L1344.4 215.7 L1346.8 215.7 L1349.1 215.8 L1351.5 215.9 L1353.9 215.9 L1356.2 216.0 L1358.6 216.0 L1361.0 216.1 L1363.4 216.1 L1365.7 216.2 L1368.1 216.2 L1370.5 216.3 L1372.8 216.3 L1375.2 216.4 L1377.6 216.4 L1380.0 216.5 L1382.3 216.5 L1384.7 216.6 L1387.1 216.6 L1389.4 216.7 L1391.8 216.7 L1394.2 216.8 L1396.6 216.8 L1398.9 216.8 L1401.3 216.9 L1403.7 216.9 L1406.0 216.9 L1408.4 217.0 L1410.8 217.0 L1413.2 217.0 L1415.5 217.1 L1417.9 217.1 L1420.3 217.1 L1422.6 217.1 L1425.0 217.2 L1427.4 217.2 L1429.8 217.2 L1432.1 217.2 L1434.5 217.2 L1436.9 217.3 L1439.2 217.3 L1441.6 217.3 L1444.0 217.3 L1446.3 217.3 L1448.7 217.3 L1451.1 217.3 L1453.5 217.4 L1455.8 217.4 L1458.2 217.4 L1460.6 217.4 L1462.9 217.4 L1465.3 217.4 L1467.7 217.4 L1470.1 217.4 L1472.4 217.4 L1474.8 217.4 L1477.2 217.4 L1479.5 217.4 L1481.9 217.4 L1484.3 217.4 L1486.7 217.3 L1489.0 217.3 L1491.4 217.3 L1493.8 217.3 L1496.1 217.3 L1498.5 217.3 L1500.9 217.3 L1503.3 217.2 L1505.6 217.2 L1508.0 217.2" stroke="#1fe01f" stroke-width="1.6" fill="none"/><path d="M85.3 230.3 L87.7 230.3 L90.0 230.3 L92.4 230.3 L94.8 230.3 L97.2 230.3 L99.5 230.3 L101.9 230.3 L104.3 230.3 L106.6 230.3 L109.0 230.3 L111.4 230.3 L113.8 230.3 L116.1 230.3 L118.5 230.3 L120.9 230.3 L123.2 230.3 L125.6 230.3 L128.0 230.3 L130.4 230.3 L132.7 230.3 L135.1 230.3 L137.5 230.3 L139.8 230.3 L142.2 230.3 L144.6 230.2 L147.0 230.2 L149.3 230.2 L151.7 230.2 L154.1 230.2 L156.4 230.2 L158.8 230.1 L161.2 230.1 L163.5 230.1 L165.9 230.0 L168.3 230.0 L170.7 229.9 L173.0 229.8 L175.4 229.7 L177.8 229.7 L180.1 229.5 L182.5 229.4 L184.9 229.3 L187.3 229.2 L189.6 229.0 L192.0 228.9 L194.4 228.7 L196.7 228.6 L199.1 228.4 L201.5 228.2 L203.9 228.1 L206.2 227.9 L208.6 227.7 L211.0 227.5 L213.3 227.3 L215.7 227.2 L218.1 227.0 L220.5 226.9 L222.8 226.7 L225.2 226.6 L227.6 226.4 L229.9 226.3 L232.3 226.2 L234.7 226.1 L237.1 226.0 L239.4 225.9 L241.8 225.8 L244.2 225.8 L246.5 225.7 L248.9 225.6 L251.3 225.6 L253.7 225.5 L256.0 225.4 L258.4 225.4 L260.8 225.3 L263.1 225.2 L265.5 225.1 L267.9 225.0 L270.3 224.9 L272.6 224.8 L275.0 224.6 L277.4 224.4 L279.7 224.2 L282.1 224.0 L284.5 223.7 L286.8 223.4 L289.2 223.1 L291.6 222.7 L294.0 222.3 L296.3 221.9 L298.7 221.4 L301.1 220.9 L303.4 220.4 L305.8 219.9 L308.2 219.3 L310.6 218.7 L312.9 218.2 L315.3 217.6 L317.7 217.0 L320.0 216.4 L322.4 215.8 L324.8 215.3 L327.2 214.7 L329.5 214.2 L331.9 213.7 L334.3 213.3 L336.6 212.8 L339.0 212.4 L341.4 212.1 L343.8 211.7 L346.1 211.4 L348.5 211.2 L350.9 210.9 L353.2 210.7 L355.6 210.6 L358.0 210.4 L360.4 210.3 L362.7 210.1 L365.1 210.0 L367.5 210.0 L369.8 209.9 L372.2 209.8 L374.6 209.8 L377.0 209.7 L379.3 209.6 L381.7 209.6 L384.1 209.5 L386.4 209.4 L388.8 209.4 L391.2 209.3 L393.6 209.2 L395.9 209.0 L398.3 208.9 L400.7 208.7 L403.0 208.6 L405.4 208.4 L407.8 208.2 L410.1 207.9 L412.5 207.6 L414.9 207.3 L417.3 207.0 L419.6 206.7 L422.0 206.3 L424.4 205.9 L426.7 205.5 L429.1 205.1 L431.5 204.7 L433.9 204.3 L436.2 203.8 L438.6 203.4 L441.0 203.0 L443.3 202.5 L445.7 202.1 L448.1 201.7 L450.5 201.3 L452.8 201.0 L455.2 200.6 L457.6 200.3 L459.9 200.0 L462.3 199.8 L464.7 199.5 L467.1 199.3 L469.4 199.1 L471.8 198.9 L474.2 198.8 L476.5 198.6 L478.9 198.5 L481.3 198.4 L483.7 198.3 L486.0 198.2 L488.4 198.2 L490.8 198.1 L493.1 198.1 L495.5 198.0 L497.9 197.9 L500.3 197.9 L502.6 197.8 L505.0 197.7 L507.4 197.7 L509.7 197.6 L512.1 197.5 L514.5 197.4 L516.9 197.2 L519.2 197.1 L521.6 196.9 L524.0 196.7 L526.3 196.5 L528.7 196.3 L531.1 196.0 L533.5 195.7 L535.8 195.4 L538.2 195.1 L540.6 194.8 L542.9 194.4 L545.3 194.1 L547.7 193.7 L550.0 193.3 L552.4 192.9 L554.8 192.5 L557.2 192.1 L559.5 191.8 L561.9 191.4 L564.3 191.0 L566.6 190.7 L569.0 190.3 L571.4 190.0 L573.8 189.8 L576.1 189.5 L578.5 189.2 L580.9 189.0 L583.2 188.8 L585.6 188.6 L588.0 188.5 L590.4 188.3 L592.7 188.2 L595.1 188.1 L597.5 188.0 L599.8 187.9 L602.2 187.9 L604.6 187.8 L607.0 187.8 L609.3 187.7 L611.7 187.7 L614.1 187.6 L616.4 187.6 L618.8 187.6 L621.2 187.5 L623.6 187.5 L625.9 187.5 L628.3 187.4 L630.7 187.4 L633.0 187.3 L635.4 187.2 L637.8 187.2 L640.2 187.1 L642.5 187.0 L644.9 186.9 L647.3 186.7 L649.6 186.6 L652.0 186.5 L654.4 186.3 L656.8 186.1 L659.1 186.0 L661.5 185.8 L663.9 185.6 L666.2 185.4 L668.6 185.2 L671.0 184.9 L673.3 184.7 L675.7 184.5 L678.1 184.3 L680.5 184.1 L682.8 183.9 L685.2 183.7 L687.6 183.5 L689.9 183.3 L692.3 183.1 L694.7 182.9 L697.1 182.8 L699.4 182.7 L701.8 182.5 L704.2 182.4 L706.5 182.3 L708.9 182.2 L711.3 182.1 L713.7 182.1 L716.0 182.0 L718.4 182.0 L720.8 181.9 L723.1 181.9 L725.5 181.9 L727.9 181.9 L730.3 181.8 L732.6 181.8 L735.0 181.8 L737.4 181.8 L739.7 181.8 L742.1 181.8 L744.5 181.9 L746.9 181.9 L749.2 181.9 L751.6 181.9 L754.0 182.0 L756.3 182.0 L758.7 182.1 L761.1 182.1 L763.5 182.2 L765.8 182.3 L768.2 182.3 L770.6 182.4 L772.9 182.5 L775.3 182.6 L777.7 182.7 L780.1 182.8 L782.4 182.9 L784.8 183.0 L787.2 183.2 L789.5 183.3 L791.9 183.4 L794.3 183.5 L796.6 183.6 L799.0 183.7 L801.4 183.9 L803.8 184.0 L806.1 184.1 L808.5 184.2 L810.9 184.2 L813.2 184.3 L815.6 184.4 L818.0 184.5 L820.4 184.5 L822.7 184.6 L825.1 184.7 L827.5 184.7 L829.8 184.7 L832.2 184.8 L834.6 184.8 L837.0 184.8 L839.3 184.8 L841.7 184.9 L844.1 184.9 L846.4 184.9 L848.8 184.9 L851.2 184.9 L853.6 184.9 L855.9 184.9 L858.3 184.9 L860.7 184.9 L863.0 184.9 L865.4 185.0 L867.8 185.0 L870.2 185.0 L872.5 185.0 L874.9 185.0 L877.3 185.0 L879.6 185.0 L882.0 185.0 L884.4 185.0 L886.8 185.1 L889.1 185.1 L891.5 185.1 L893.9 185.1 L896.2 185.2 L898.6 185.2 L901.0 185.2 L903.4 185.2 L905.7 185.3 L908.1 185.3 L910.5 185.3 L912.8 185.3 L915.2 185.4 L917.6 185.4 L920.0 185.4 L922.3 185.5 L924.7 185.5 L927.1 185.5 L929.4 185.5 L931.8 185.6 L934.2 185.6 L936.5 185.6 L938.9 185.6 L941.3 185.6 L943.7 185.7 L946.0 185.7 L948.4 185.7 L950.8 185.7 L953.1 185.7 L955.5 185.7 L957.9 185.7 L960.3 185.7 L962.6 185.7 L965.0 185.8 L967.4 185.8 L969.7 185.8 L972.1 185.8 L974.5 185.8 L976.9 185.9 L979.2 185.9 L981.6 185.9 L984.0 186.0 L986.3 186.0 L988.7 186.1 L991.1 186.2 L993.5 186.3 L995.8 186.4 L998.2 186.5 L1000.6 186.7 L1002.9 186.8 L1005.3 187.0 L1007.7 187.2 L1010.1 187.4 L1012.4 187.6 L1014.8 187.9 L1017.2 188.1 L1019.5 188.4 L1021.9 188.7 L1024.3 189.0 L1026.7 189.3 L1029.0 189.7 L1031.4 190.0 L1033.8 190.3 L1036.1 190.6 L1038.5 191.0 L1040.9 191.3 L1043.3 191.6 L1045.6 191.9 L1048.0 192.2 L1050.4 192.4 L1052.7 192.7 L1055.1 192.9 L1057.5 193.1 L1059.8 193.3 L1062.2 193.5 L1064.6 193.6 L1067.0 193.8 L1069.3 193.9 L1071.7 194.0 L1074.1 194.1 L1076.4 194.2 L1078.8 194.3 L1081.2 194.3 L1083.6 194.4 L1085.9 194.5 L1088.3 194.5 L1090.7 194.6 L1093.0 194.6 L1095.4 194.7 L1097.8 194.7 L1100.2 194.8 L1102.5 194.9 L1104.9 195.0 L1107.3 195.1 L1109.6 195.2 L1112.0 195.3 L1114.4 195.4 L1116.8 195.6 L1119.1 195.8 L1121.5 196.0 L1123.9 196.3 L1126.2 196.5 L1128.6 196.8 L1131.0 197.1 L1133.4 197.4 L1135.7 197.8 L1138.1 198.1 L1140.5 198.5 L1142.8 198.9 L1145.2 199.3 L1147.6 199.7 L1150.0 200.1 L1152.3 200.5 L1154.7 200.9 L1157.1 201.3 L1159.4 201.7 L1161.8 202.1 L1164.2 202.4 L1166.6 202.7 L1168.9 203.1 L1171.3 203.4 L1173.7 203.6 L1176.0 203.9 L1178.4 204.1 L1180.8 204.3 L1183.2 204.5 L1185.5 204.6 L1187.9 204.8 L1190.3 204.9 L1192.6 205.0 L1195.0 205.1 L1197.4 205.2 L1199.7 205.2 L1202.1 205.3 L1204.5 205.3 L1206.9 205.4 L1209.2 205.4 L1211.6 205.5 L1214.0 205.5 L1216.3 205.5 L1218.7 205.6 L1221.1 205.6 L1223.5 205.7 L1225.8 205.7 L1228.2 205.8 L1230.6 205.8 L1232.9 205.9 L1235.3 206.0 L1237.7 206.1 L1240.1 206.2 L1242.4 206.3 L1244.8 206.4 L1247.2 206.6 L1249.5 206.7 L1251.9 206.9 L1254.3 207.1 L1256.7 207.3 L1259.0 207.5 L1261.4 207.7 L1263.8 207.9 L1266.1 208.1 L1268.5 208.4 L1270.9 208.6 L1273.3 208.8 L1275.6 209.1 L1278.0 209.3 L1280.4 209.5 L1282.7 209.7 L1285.1 209.9 L1287.5 210.1 L1289.9 210.3 L1292.2 210.4 L1294.6 210.6 L1297.0 210.7 L1299.3 210.8 L1301.7 211.0 L1304.1 211.1 L1306.5 211.2 L1308.8 211.2 L1311.2 211.3 L1313.6 211.4 L1315.9 211.4 L1318.3 211.5 L1320.7 211.5 L1323.0 211.6 L1325.4 211.6 L1327.8 211.7 L1330.2 211.7 L1332.5 211.8 L1334.9 211.9 L1337.3 211.9 L1339.6 212.0 L1342.0 212.2 L1344.4 212.3 L1346.8 212.4 L1349.1 212.6 L1351.5 212.8 L1353.9 213.0 L1356.2 213.3 L1358.6 213.5 L1361.0 213.9 L1363.4 214.2 L1365.7 214.6 L1368.1 215.0 L1370.5 215.4 L1372.8 215.9 L1375.2 216.4 L1377.6 216.9 L1380.0 217.4 L1382.3 217.9 L1384.7 218.5 L1387.1 219.1 L1389.4 219.6 L1391.8 220.2 L1394.2 220.7 L1396.6 221.2 L1398.9 221.7 L1401.3 222.2 L1403.7 222.7 L1406.0 223.1 L1408.4 223.5 L1410.8 223.9 L1413.2 224.3 L1415.5 224.6 L1417.9 224.9 L1420.3 225.1 L1422.6 225.3 L1425.0 225.5 L1427.4 225.7 L1429.8 225.9 L1432.1 226.0 L1434.5 226.1 L1436.9 226.2 L1439.2 226.2 L1441.6 226.3 L1444.0 226.4 L1446.3 226.4 L1448.7 226.4 L1451.1 226.5 L1453.5 226.5 L1455.8 226.5 L1458.2 226.5 L1460.6 226.5 L1462.9 226.5 L1465.3 226.5 L1467.7 226.5 L1470.1 226.5 L1472.4 226.5 L1474.8 226.5 L1477.2 226.5 L1479.5 226.5 L1481.9 226.5 L1484.3 226.5 L1486.7 226.5 L1489.0 226.5 L1491.4 226.5 L1493.8 226.5 L1496.1 226.5 L1498.5 226.5 L1500.9 226.5 L1503.3 226.5 L1505.6 226.5 L1508.0 226.5" stroke="#f070f0" stroke-width="1.7" fill="none"/><path d="M85.3 272.6 L87.7 272.6 L90.0 272.6 L92.4 272.6 L94.8 272.6 L97.2 272.6 L99.5 272.6 L101.9 272.6 L104.3 272.6 L106.6 272.6 L109.0 272.6 L111.4 272.6 L113.8 272.6 L116.1 272.6 L118.5 272.6 L120.9 272.6 L123.2 272.6 L125.6 272.5 L128.0 272.5 L130.4 272.5 L132.7 272.5 L135.1 272.5 L137.5 272.5 L139.8 272.5 L142.2 272.5 L144.6 272.4 L147.0 272.4 L149.3 272.4 L151.7 272.3 L154.1 272.3 L156.4 272.2 L158.8 272.1 L161.2 272.0 L163.5 271.9 L165.9 271.7 L168.3 271.5 L170.7 271.3 L173.0 271.1 L175.4 270.8 L177.8 270.6 L180.1 270.2 L182.5 269.9 L184.9 269.5 L187.3 269.1 L189.6 268.6 L192.0 268.2 L194.4 267.7 L196.7 267.1 L199.1 266.6 L201.5 266.1 L203.9 265.5 L206.2 264.9 L208.6 264.4 L211.0 263.8 L213.3 263.2 L215.7 262.7 L218.1 262.2 L220.5 261.7 L222.8 261.2 L225.2 260.8 L227.6 260.4 L229.9 260.0 L232.3 259.6 L234.7 259.3 L237.1 259.0 L239.4 258.7 L241.8 258.5 L244.2 258.3 L246.5 258.1 L248.9 257.9 L251.3 257.8 L253.7 257.6 L256.0 257.5 L258.4 257.4 L260.8 257.2 L263.1 257.1 L265.5 256.9 L267.9 256.8 L270.3 256.6 L272.6 256.4 L275.0 256.2 L277.4 255.9 L279.7 255.6 L282.1 255.3 L284.5 254.9 L286.8 254.5 L289.2 254.0 L291.6 253.5 L294.0 253.0 L296.3 252.4 L298.7 251.8 L301.1 251.1 L303.4 250.4 L305.8 249.6 L308.2 248.9 L310.6 248.1 L312.9 247.3 L315.3 246.5 L317.7 245.7 L320.0 244.9 L322.4 244.1 L324.8 243.3 L327.2 242.6 L329.5 241.9 L331.9 241.2 L334.3 240.6 L336.6 240.0 L339.0 239.4 L341.4 238.9 L343.8 238.5 L346.1 238.1 L348.5 237.7 L350.9 237.4 L353.2 237.1 L355.6 236.9 L358.0 236.6 L360.4 236.5 L362.7 236.3 L365.1 236.2 L367.5 236.1 L369.8 236.0 L372.2 235.9 L374.6 235.8 L377.0 235.8 L379.3 235.7 L381.7 235.7 L384.1 235.7 L386.4 235.6 L388.8 235.6 L391.2 235.6 L393.6 235.5 L395.9 235.5 L398.3 235.5 L400.7 235.4 L403.0 235.4 L405.4 235.3 L407.8 235.3 L410.1 235.2 L412.5 235.2 L414.9 235.1 L417.3 235.0 L419.6 234.9 L422.0 234.8 L424.4 234.7 L426.7 234.6 L429.1 234.5 L431.5 234.4 L433.9 234.3 L436.2 234.2 L438.6 234.1 L441.0 234.0 L443.3 233.9 L445.7 233.8 L448.1 233.7 L450.5 233.6 L452.8 233.5 L455.2 233.4 L457.6 233.3 L459.9 233.3 L462.3 233.2 L464.7 233.1 L467.1 233.1 L469.4 233.0 L471.8 233.0 L474.2 233.0 L476.5 232.9 L478.9 232.9 L481.3 232.9 L483.7 232.8 L486.0 232.8 L488.4 232.8 L490.8 232.7 L493.1 232.7 L495.5 232.7 L497.9 232.7 L500.3 232.6 L502.6 232.6 L505.0 232.5 L507.4 232.4 L509.7 232.4 L512.1 232.3 L514.5 232.2 L516.9 232.1 L519.2 231.9 L521.6 231.8 L524.0 231.6 L526.3 231.4 L528.7 231.2 L531.1 231.0 L533.5 230.7 L535.8 230.4 L538.2 230.2 L540.6 229.9 L542.9 229.5 L545.3 229.2 L547.7 228.9 L550.0 228.5 L552.4 228.2 L554.8 227.8 L557.2 227.5 L559.5 227.2 L561.9 226.8 L564.3 226.5 L566.6 226.2 L569.0 225.9 L571.4 225.6 L573.8 225.4 L576.1 225.1 L578.5 224.9 L580.9 224.7 L583.2 224.5 L585.6 224.4 L588.0 224.2 L590.4 224.1 L592.7 224.0 L595.1 223.9 L597.5 223.8 L599.8 223.7 L602.2 223.7 L604.6 223.6 L607.0 223.6 L609.3 223.5 L611.7 223.5 L614.1 223.5 L616.4 223.5 L618.8 223.4 L621.2 223.4 L623.6 223.4 L625.9 223.4 L628.3 223.3 L630.7 223.3 L633.0 223.3 L635.4 223.3 L637.8 223.2 L640.2 223.2 L642.5 223.1 L644.9 223.1 L647.3 223.0 L649.6 223.0 L652.0 222.9 L654.4 222.8 L656.8 222.7 L659.1 222.7 L661.5 222.6 L663.9 222.5 L666.2 222.4 L668.6 222.3 L671.0 222.2 L673.3 222.1 L675.7 222.0 L678.1 221.9 L680.5 221.8 L682.8 221.7 L685.2 221.6 L687.6 221.5 L689.9 221.4 L692.3 221.3 L694.7 221.2 L697.1 221.2 L699.4 221.1 L701.8 221.0 L704.2 221.0 L706.5 220.9 L708.9 220.9 L711.3 220.9 L713.7 220.8 L716.0 220.8 L718.4 220.8 L720.8 220.8 L723.1 220.8 L725.5 220.8 L727.9 220.8 L730.3 220.8 L732.6 220.8 L735.0 220.9 L737.4 220.9 L739.7 221.0 L742.1 221.0 L744.5 221.1 L746.9 221.2 L749.2 221.3 L751.6 221.4 L754.0 221.6 L756.3 221.8 L758.7 222.0 L761.1 222.2 L763.5 222.5 L765.8 222.8 L768.2 223.1 L770.6 223.4 L772.9 223.8 L775.3 224.2 L777.7 224.6 L780.1 225.0 L782.4 225.5 L784.8 225.9 L787.2 226.4 L789.5 226.9 L791.9 227.4 L794.3 227.9 L796.6 228.3 L799.0 228.8 L801.4 229.3 L803.8 229.7 L806.1 230.1 L808.5 230.5 L810.9 230.9 L813.2 231.2 L815.6 231.5 L818.0 231.8 L820.4 232.1 L822.7 232.3 L825.1 232.5 L827.5 232.7 L829.8 232.9 L832.2 233.0 L834.6 233.1 L837.0 233.2 L839.3 233.3 L841.7 233.4 L844.1 233.4 L846.4 233.5 L848.8 233.5 L851.2 233.5 L853.6 233.6 L855.9 233.6 L858.3 233.6 L860.7 233.6 L863.0 233.6 L865.4 233.6 L867.8 233.6 L870.2 233.6 L872.5 233.6 L874.9 233.6 L877.3 233.6 L879.6 233.6 L882.0 233.6 L884.4 233.6 L886.8 233.6 L889.1 233.6 L891.5 233.6 L893.9 233.5 L896.2 233.5 L898.6 233.5 L901.0 233.5 L903.4 233.5 L905.7 233.5 L908.1 233.5 L910.5 233.4 L912.8 233.4 L915.2 233.4 L917.6 233.4 L920.0 233.4 L922.3 233.4 L924.7 233.3 L927.1 233.3 L929.4 233.3 L931.8 233.3 L934.2 233.3 L936.5 233.3 L938.9 233.3 L941.3 233.3 L943.7 233.3 L946.0 233.3 L948.4 233.2 L950.8 233.2 L953.1 233.2 L955.5 233.2 L957.9 233.2 L960.3 233.2 L962.6 233.2 L965.0 233.2 L967.4 233.3 L969.7 233.3 L972.1 233.3 L974.5 233.3 L976.9 233.3 L979.2 233.3 L981.6 233.4 L984.0 233.4 L986.3 233.5 L988.7 233.5 L991.1 233.6 L993.5 233.7 L995.8 233.7 L998.2 233.8 L1000.6 234.0 L1002.9 234.1 L1005.3 234.2 L1007.7 234.4 L1010.1 234.6 L1012.4 234.8 L1014.8 235.0 L1017.2 235.2 L1019.5 235.4 L1021.9 235.7 L1024.3 235.9 L1026.7 236.2 L1029.0 236.4 L1031.4 236.7 L1033.8 237.0 L1036.1 237.2 L1038.5 237.5 L1040.9 237.8 L1043.3 238.0 L1045.6 238.3 L1048.0 238.5 L1050.4 238.7 L1052.7 238.9 L1055.1 239.1 L1057.5 239.3 L1059.8 239.4 L1062.2 239.6 L1064.6 239.7 L1067.0 239.8 L1069.3 239.9 L1071.7 240.0 L1074.1 240.1 L1076.4 240.2 L1078.8 240.2 L1081.2 240.3 L1083.6 240.4 L1085.9 240.4 L1088.3 240.5 L1090.7 240.5 L1093.0 240.6 L1095.4 240.7 L1097.8 240.8 L1100.2 240.9 L1102.5 241.0 L1104.9 241.2 L1107.3 241.3 L1109.6 241.5 L1112.0 241.7 L1114.4 242.0 L1116.8 242.3 L1119.1 242.6 L1121.5 242.9 L1123.9 243.3 L1126.2 243.8 L1128.6 244.3 L1131.0 244.8 L1133.4 245.3 L1135.7 245.9 L1138.1 246.5 L1140.5 247.2 L1142.8 247.8 L1145.2 248.5 L1147.6 249.2 L1150.0 249.9 L1152.3 250.6 L1154.7 251.3 L1157.1 251.9 L1159.4 252.6 L1161.8 253.2 L1164.2 253.8 L1166.6 254.4 L1168.9 254.9 L1171.3 255.4 L1173.7 255.9 L1176.0 256.3 L1178.4 256.7 L1180.8 257.0 L1183.2 257.3 L1185.5 257.6 L1187.9 257.8 L1190.3 258.0 L1192.6 258.2 L1195.0 258.3 L1197.4 258.5 L1199.7 258.6 L1202.1 258.7 L1204.5 258.7 L1206.9 258.8 L1209.2 258.9 L1211.6 258.9 L1214.0 258.9 L1216.3 259.0 L1218.7 259.0 L1221.1 259.0 L1223.5 259.1 L1225.8 259.1 L1228.2 259.1 L1230.6 259.2 L1232.9 259.2 L1235.3 259.3 L1237.7 259.3 L1240.1 259.4 L1242.4 259.5 L1244.8 259.5 L1247.2 259.6 L1249.5 259.7 L1251.9 259.8 L1254.3 259.9 L1256.7 260.0 L1259.0 260.1 L1261.4 260.2 L1263.8 260.3 L1266.1 260.5 L1268.5 260.6 L1270.9 260.7 L1273.3 260.8 L1275.6 260.9 L1278.0 261.1 L1280.4 261.2 L1282.7 261.3 L1285.1 261.4 L1287.5 261.5 L1289.9 261.6 L1292.2 261.7 L1294.6 261.8 L1297.0 261.9 L1299.3 261.9 L1301.7 262.0 L1304.1 262.0 L1306.5 262.1 L1308.8 262.2 L1311.2 262.2 L1313.6 262.2 L1315.9 262.3 L1318.3 262.3 L1320.7 262.4 L1323.0 262.5 L1325.4 262.5 L1327.8 262.6 L1330.2 262.7 L1332.5 262.8 L1334.9 263.0 L1337.3 263.1 L1339.6 263.3 L1342.0 263.6 L1344.4 263.8 L1346.8 264.2 L1349.1 264.5 L1351.5 265.0 L1353.9 265.4 L1356.2 266.0 L1358.6 266.6 L1361.0 267.3 L1363.4 268.1 L1365.7 268.9 L1368.1 269.8 L1370.5 270.7 L1372.8 271.8 L1375.2 272.8 L1377.6 274.0 L1380.0 275.1 L1382.3 276.3 L1384.7 277.6 L1387.1 278.8 L1389.4 280.0 L1391.8 281.2 L1394.2 282.4 L1396.6 283.6 L1398.9 284.7 L1401.3 285.8 L1403.7 286.8 L1406.0 287.8 L1408.4 288.7 L1410.8 289.5 L1413.2 290.3 L1415.5 291.0 L1417.9 291.6 L1420.3 292.2 L1422.6 292.7 L1425.0 293.1 L1427.4 293.5 L1429.8 293.8 L1432.1 294.1 L1434.5 294.3 L1436.9 294.5 L1439.2 294.7 L1441.6 294.8 L1444.0 294.9 L1446.3 295.0 L1448.7 295.1 L1451.1 295.2 L1453.5 295.2 L1455.8 295.2 L1458.2 295.3 L1460.6 295.3 L1462.9 295.3 L1465.3 295.3 L1467.7 295.3 L1470.1 295.3 L1472.4 295.3 L1474.8 295.3 L1477.2 295.3 L1479.5 295.3 L1481.9 295.3 L1484.3 295.3 L1486.7 295.3 L1489.0 295.3 L1491.4 295.3 L1493.8 295.3 L1496.1 295.3 L1498.5 295.3 L1500.9 295.3 L1503.3 295.3 L1505.6 295.3 L1508.0 295.3" stroke="#f0f032" stroke-width="1.7" fill="none"/><path d="M85.3 410.0 L87.7 410.0 L90.0 410.0 L92.4 410.0 L94.8 410.0 L97.2 410.0 L99.5 410.0 L101.9 410.0 L104.3 410.0 L106.6 410.0 L109.0 409.9 L111.4 409.9 L113.8 409.9 L116.1 409.9 L118.5 409.9 L120.9 409.9 L123.2 409.9 L125.6 409.9 L128.0 409.9 L130.4 409.9 L132.7 409.9 L135.1 409.9 L137.5 409.9 L139.8 409.9 L142.2 409.8 L144.6 409.8 L147.0 409.7 L149.3 409.7 L151.7 409.6 L154.1 409.5 L156.4 409.4 L158.8 409.3 L161.2 409.1 L163.5 408.9 L165.9 408.7 L168.3 408.5 L170.7 408.2 L173.0 407.9 L175.4 407.5 L177.8 407.1 L180.1 406.6 L182.5 406.1 L184.9 405.6 L187.3 405.0 L189.6 404.4 L192.0 403.7 L194.4 403.0 L196.7 402.2 L199.1 401.5 L201.5 400.7 L203.9 399.9 L206.2 399.1 L208.6 398.3 L211.0 397.5 L213.3 396.7 L215.7 395.9 L218.1 395.2 L220.5 394.5 L222.8 393.8 L225.2 393.2 L227.6 392.6 L229.9 392.0 L232.3 391.5 L234.7 391.1 L237.1 390.7 L239.4 390.3 L241.8 390.0 L244.2 389.7 L246.5 389.4 L248.9 389.2 L251.3 389.0 L253.7 388.8 L256.0 388.6 L258.4 388.5 L260.8 388.3 L263.1 388.2 L265.5 388.1 L267.9 387.9 L270.3 387.8 L272.6 387.6 L275.0 387.4 L277.4 387.2 L279.7 387.0 L282.1 386.7 L284.5 386.4 L286.8 386.1 L289.2 385.8 L291.6 385.4 L294.0 385.0 L296.3 384.5 L298.7 384.0 L301.1 383.5 L303.4 383.0 L305.8 382.4 L308.2 381.8 L310.6 381.2 L312.9 380.6 L315.3 380.0 L317.7 379.4 L320.0 378.8 L322.4 378.2 L324.8 377.6 L327.2 377.0 L329.5 376.5 L331.9 376.0 L334.3 375.5 L336.6 375.0 L339.0 374.6 L341.4 374.2 L343.8 373.9 L346.1 373.6 L348.5 373.3 L350.9 373.1 L353.2 372.9 L355.6 372.7 L358.0 372.5 L360.4 372.4 L362.7 372.3 L365.1 372.2 L367.5 372.1 L369.8 372.1 L372.2 372.1 L374.6 372.1 L377.0 372.1 L379.3 372.1 L381.7 372.2 L384.1 372.3 L386.4 372.4 L388.8 372.6 L391.2 372.7 L393.6 372.9 L395.9 373.2 L398.3 373.5 L400.7 373.8 L403.0 374.2 L405.4 374.6 L407.8 375.1 L410.1 375.6 L412.5 376.2 L414.9 376.9 L417.3 377.6 L419.6 378.3 L422.0 379.1 L424.4 380.0 L426.7 380.8 L429.1 381.7 L431.5 382.7 L433.9 383.6 L436.2 384.6 L438.6 385.5 L441.0 386.5 L443.3 387.4 L445.7 388.3 L448.1 389.2 L450.5 390.0 L452.8 390.8 L455.2 391.5 L457.6 392.2 L459.9 392.9 L462.3 393.4 L464.7 394.0 L467.1 394.5 L469.4 394.9 L471.8 395.3 L474.2 395.6 L476.5 395.9 L478.9 396.1 L481.3 396.4 L483.7 396.6 L486.0 396.7 L488.4 396.9 L490.8 397.0 L493.1 397.1 L495.5 397.2 L497.9 397.3 L500.3 397.4 L502.6 397.6 L505.0 397.7 L507.4 397.8 L509.7 398.0 L512.1 398.1 L514.5 398.3 L516.9 398.5 L519.2 398.8 L521.6 399.1 L524.0 399.4 L526.3 399.7 L528.7 400.1 L531.1 400.5 L533.5 400.9 L535.8 401.4 L538.2 401.9 L540.6 402.5 L542.9 403.0 L545.3 403.6 L547.7 404.2 L550.0 404.8 L552.4 405.5 L554.8 406.1 L557.2 406.7 L559.5 407.3 L561.9 407.9 L564.3 408.5 L566.6 409.0 L569.0 409.5 L571.4 410.0 L573.8 410.5 L576.1 410.9 L578.5 411.3 L580.9 411.7 L583.2 412.0 L585.6 412.3 L588.0 412.5 L590.4 412.8 L592.7 413.0 L595.1 413.1 L597.5 413.3 L599.8 413.4 L602.2 413.5 L604.6 413.5 L607.0 413.6 L609.3 413.6 L611.7 413.6 L614.1 413.6 L616.4 413.6 L618.8 413.5 L621.2 413.5 L623.6 413.4 L625.9 413.3 L628.3 413.1 L630.7 412.9 L633.0 412.7 L635.4 412.5 L637.8 412.2 L640.2 411.9 L642.5 411.5 L644.9 411.1 L647.3 410.6 L649.6 410.1 L652.0 409.6 L654.4 408.9 L656.8 408.3 L659.1 407.6 L661.5 406.9 L663.9 406.1 L666.2 405.3 L668.6 404.5 L671.0 403.6 L673.3 402.8 L675.7 402.0 L678.1 401.1 L680.5 400.3 L682.8 399.5 L685.2 398.7 L687.6 397.9 L689.9 397.2 L692.3 396.6 L694.7 395.9 L697.1 395.4 L699.4 394.8 L701.8 394.3 L704.2 393.9 L706.5 393.5 L708.9 393.2 L711.3 392.9 L713.7 392.6 L716.0 392.4 L718.4 392.2 L720.8 392.1 L723.1 392.0 L725.5 391.9 L727.9 391.8 L730.3 391.8 L732.6 391.8 L735.0 391.8 L737.4 391.9 L739.7 392.0 L742.1 392.1 L744.5 392.2 L746.9 392.4 L749.2 392.6 L751.6 392.9 L754.0 393.2 L756.3 393.5 L758.7 394.0 L761.1 394.4 L763.5 394.9 L765.8 395.5 L768.2 396.1 L770.6 396.8 L772.9 397.5 L775.3 398.3 L777.7 399.1 L780.1 400.0 L782.4 400.9 L784.8 401.8 L787.2 402.8 L789.5 403.8 L791.9 404.7 L794.3 405.7 L796.6 406.7 L799.0 407.6 L801.4 408.5 L803.8 409.4 L806.1 410.2 L808.5 411.0 L810.9 411.7 L813.2 412.4 L815.6 413.0 L818.0 413.6 L820.4 414.1 L822.7 414.6 L825.1 415.0 L827.5 415.4 L829.8 415.7 L832.2 416.0 L834.6 416.2 L837.0 416.4 L839.3 416.6 L841.7 416.7 L844.1 416.8 L846.4 416.9 L848.8 417.0 L851.2 417.0 L853.6 417.0 L855.9 417.1 L858.3 417.1 L860.7 417.0 L863.0 417.0 L865.4 417.0 L867.8 417.0 L870.2 416.9 L872.5 416.8 L874.9 416.7 L877.3 416.6 L879.6 416.5 L882.0 416.4 L884.4 416.3 L886.8 416.1 L889.1 415.9 L891.5 415.7 L893.9 415.5 L896.2 415.3 L898.6 415.1 L901.0 414.8 L903.4 414.6 L905.7 414.3 L908.1 414.0 L910.5 413.8 L912.8 413.5 L915.2 413.2 L917.6 412.9 L920.0 412.7 L922.3 412.4 L924.7 412.2 L927.1 411.9 L929.4 411.7 L931.8 411.5 L934.2 411.3 L936.5 411.2 L938.9 411.0 L941.3 410.9 L943.7 410.7 L946.0 410.6 L948.4 410.5 L950.8 410.5 L953.1 410.4 L955.5 410.4 L957.9 410.3 L960.3 410.3 L962.6 410.3 L965.0 410.4 L967.4 410.5 L969.7 410.6 L972.1 410.7 L974.5 410.9 L976.9 411.1 L979.2 411.4 L981.6 411.8 L984.0 412.2 L986.3 412.7 L988.7 413.4 L991.1 414.1 L993.5 414.9 L995.8 415.9 L998.2 417.1 L1000.6 418.3 L1002.9 419.8 L1005.3 421.4 L1007.7 423.2 L1010.1 425.1 L1012.4 427.3 L1014.8 429.5 L1017.2 432.0 L1019.5 434.6 L1021.9 437.3 L1024.3 440.1 L1026.7 443.0 L1029.0 445.9 L1031.4 448.9 L1033.8 452.0 L1036.1 455.0 L1038.5 457.9 L1040.9 460.8 L1043.3 463.6 L1045.6 466.3 L1048.0 468.9 L1050.4 471.3 L1052.7 473.6 L1055.1 475.7 L1057.5 477.6 L1059.8 479.4 L1062.2 481.0 L1064.6 482.4 L1067.0 483.7 L1069.3 484.8 L1071.7 485.8 L1074.1 486.7 L1076.4 487.5 L1078.8 488.1 L1081.2 488.7 L1083.6 489.2 L1085.9 489.7 L1088.3 490.1 L1090.7 490.5 L1093.0 490.9 L1095.4 491.3 L1097.8 491.8 L1100.2 492.2 L1102.5 492.7 L1104.9 493.3 L1107.3 494.0 L1109.6 494.8 L1112.0 495.6 L1114.4 496.6 L1116.8 497.7 L1119.1 499.0 L1121.5 500.4 L1123.9 501.9 L1126.2 503.6 L1128.6 505.5 L1131.0 507.5 L1133.4 509.6 L1135.7 511.9 L1138.1 514.3 L1140.5 516.7 L1142.8 519.3 L1145.2 521.9 L1147.6 524.6 L1150.0 527.3 L1152.3 530.0 L1154.7 532.6 L1157.1 535.2 L1159.4 537.8 L1161.8 540.2 L1164.2 542.5 L1166.6 544.7 L1168.9 546.8 L1171.3 548.7 L1173.7 550.5 L1176.0 552.1 L1178.4 553.6 L1180.8 554.9 L1183.2 556.1 L1185.5 557.1 L1187.9 558.0 L1190.3 558.8 L1192.6 559.5 L1195.0 560.1 L1197.4 560.6 L1199.7 560.9 L1202.1 561.3 L1204.5 561.5 L1206.9 561.7 L1209.2 561.9 L1211.6 562.0 L1214.0 562.0 L1216.3 562.1 L1218.7 562.0 L1221.1 562.0 L1223.5 561.9 L1225.8 561.8 L1228.2 561.6 L1230.6 561.4 L1232.9 561.2 L1235.3 560.9 L1237.7 560.6 L1240.1 560.3 L1242.4 559.9 L1244.8 559.4 L1247.2 558.9 L1249.5 558.4 L1251.9 557.8 L1254.3 557.2 L1256.7 556.6 L1259.0 555.9 L1261.4 555.2 L1263.8 554.4 L1266.1 553.7 L1268.5 552.9 L1270.9 552.1 L1273.3 551.4 L1275.6 550.6 L1278.0 549.9 L1280.4 549.1 L1282.7 548.4 L1285.1 547.8 L1287.5 547.1 L1289.9 546.6 L1292.2 546.0 L1294.6 545.5 L1297.0 545.0 L1299.3 544.6 L1301.7 544.2 L1304.1 543.9 L1306.5 543.6 L1308.8 543.3 L1311.2 543.1 L1313.6 542.8 L1315.9 542.7 L1318.3 542.5 L1320.7 542.3 L1323.0 542.2 L1325.4 542.0 L1327.8 541.9 L1330.2 541.7 L1332.5 541.5 L1334.9 541.3 L1337.3 541.1 L1339.6 540.8 L1342.0 540.5 L1344.4 540.2 L1346.8 539.8 L1349.1 539.3 L1351.5 538.7 L1353.9 538.1 L1356.2 537.4 L1358.6 536.7 L1361.0 535.8 L1363.4 534.8 L1365.7 533.8 L1368.1 532.7 L1370.5 531.5 L1372.8 530.2 L1375.2 528.8 L1377.6 527.4 L1380.0 526.0 L1382.3 524.5 L1384.7 522.9 L1387.1 521.4 L1389.4 519.9 L1391.8 518.3 L1394.2 516.8 L1396.6 515.4 L1398.9 513.9 L1401.3 512.6 L1403.7 511.3 L1406.0 510.1 L1408.4 509.0 L1410.8 507.9 L1413.2 507.0 L1415.5 506.1 L1417.9 505.3 L1420.3 504.6 L1422.6 504.0 L1425.0 503.5 L1427.4 503.0 L1429.8 502.6 L1432.1 502.2 L1434.5 501.9 L1436.9 501.7 L1439.2 501.5 L1441.6 501.3 L1444.0 501.2 L1446.3 501.1 L1448.7 501.0 L1451.1 500.9 L1453.5 500.8 L1455.8 500.8 L1458.2 500.8 L1460.6 500.7 L1462.9 500.7 L1465.3 500.7 L1467.7 500.7 L1470.1 500.7 L1472.4 500.7 L1474.8 500.7 L1477.2 500.7 L1479.5 500.7 L1481.9 500.7 L1484.3 500.7 L1486.7 500.7 L1489.0 500.7 L1491.4 500.7 L1493.8 500.7 L1496.1 500.7 L1498.5 500.7 L1500.9 500.7 L1503.3 500.7 L1505.6 500.7 L1508.0 500.7" stroke="#1e8ce6" stroke-width="1.7" fill="none"/><path d="M80 74.5H1513.5 M80 608H1508 M80 341.25H1513.5 M85.3 74.5V613 M1508.0 74.5V608" stroke="#c8c8c8" stroke-width="2" fill="none"/><path d="M80 608.00H85.3 M80 554.65H85.3 M80 501.30H85.3 M80 447.95H85.3 M80 394.60H85.3 M80 341.25H85.3 M80 287.90H85.3 M80 234.55H85.3 M80 181.20H85.3 M80 127.85H85.3 M80 74.50H85.3 M1508.0 341.25h5.5 M1508.0 330.13h3 M1508.0 319.02h3 M1508.0 307.90h3 M1508.0 296.79h3 M1508.0 285.68h3 M1508.0 274.56h5.5 M1508.0 263.44h3 M1508.0 252.33h3 M1508.0 241.22h3 M1508.0 230.10h3 M1508.0 218.99h3 M1508.0 207.87h5.5 M1508.0 196.75h3 M1508.0 185.64h3 M1508.0 174.53h3 M1508.0 163.41h3 M1508.0 152.29h3 M1508.0 141.18h5.5 M1508.0 130.06h3 M1508.0 118.95h3 M1508.0 107.84h3 M1508.0 96.72h3 M1508.0 85.60h3 M1508.0 74.49h5.5 M1508.0 407.95h5.5 M1508.0 474.65h5.5 M1508.0 541.35h5.5 M1508.0 608.05h5.5" stroke="#c8c8c8" stroke-width="1.5" fill="none"/><g fill="#ccc" font-size="15.5"><text x="72.4" y="614.1" text-anchor="end" transform="matrix(1 0 0 1.07 0 -42.99)">-50</text><text x="72.4" y="560.8" text-anchor="end" transform="matrix(1 0 0 1.07 0 -39.25)">-40</text><text x="72.4" y="507.4" text-anchor="end" transform="matrix(1 0 0 1.07 0 -35.52)">-30</text><text x="72.4" y="454.1" text-anchor="end" transform="matrix(1 0 0 1.07 0 -31.78)">-20</text><text x="72.4" y="400.7" text-anchor="end" transform="matrix(1 0 0 1.07 0 -28.05)">-10</text><text x="72.4" y="347.4" text-anchor="end" transform="matrix(1 0 0 1.07 0 -24.31)">0</text><text x="72.4" y="294.0" text-anchor="end" transform="matrix(1 0 0 1.07 0 -20.58)">10</text><text x="72.4" y="240.7" text-anchor="end" transform="matrix(1 0 0 1.07 0 -16.85)">20</text><text x="72.4" y="187.3" text-anchor="end" transform="matrix(1 0 0 1.07 0 -13.11)">30</text><text x="72.4" y="133.9" text-anchor="end" transform="matrix(1 0 0 1.07 0 -9.38)">40</text><text x="72.4" y="80.6" text-anchor="end" transform="matrix(1 0 0 1.07 0 -5.64)">50</text><text x="1540.7" y="347.4" text-anchor="end" transform="matrix(1 0 0 1.07 0 -24.31)">0</text><text x="1540.7" y="280.7" text-anchor="end" transform="matrix(1 0 0 1.07 0 -19.65)">6</text><text x="1540.7" y="214.0" text-anchor="end" transform="matrix(1 0 0 1.07 0 -14.98)">12</text><text x="1540.7" y="147.3" text-anchor="end" transform="matrix(1 0 0 1.07 0 -10.31)">18</text><text x="1540.7" y="80.6" text-anchor="end" transform="matrix(1 0 0 1.07 0 -5.64)">24</text><text x="1540.7" y="414.1" text-anchor="end" transform="matrix(1 0 0 1.07 0 -28.98)">10</text><text x="1540.7" y="480.8" text-anchor="end" transform="matrix(1 0 0 1.07 0 -33.65)">20</text><text x="1540.7" y="547.5" text-anchor="end" transform="matrix(1 0 0 1.07 0 -38.32)">30</text><text x="1540.7" y="614.1" text-anchor="end" transform="matrix(1 0 0 1.07 0 -42.99)">40</text><text x="145.7" y="631.8" text-anchor="middle" transform="matrix(1 0 0 1.07 0 -44.23)">Gen</text><text x="260.7" y="631.8" text-anchor="middle" transform="matrix(1 0 0 1.07 0 -44.23)">Feb</text><text x="375.7" y="631.8" text-anchor="middle" transform="matrix(1 0 0 1.07 0 -44.23)">Mar</text><text x="494.6" y="631.8" text-anchor="middle" transform="matrix(1 0 0 1.07 0 -44.23)">Apr</text><text x="613.5" y="631.8" text-anchor="middle" transform="matrix(1 0 0 1.07 0 -44.23)">Mag</text><text x="732.3" y="631.8" text-anchor="middle" transform="matrix(1 0 0 1.07 0 -44.23)">Giu</text><text x="851.2" y="631.8" text-anchor="middle" transform="matrix(1 0 0 1.07 0 -44.23)">Lug</text><text x="972.1" y="631.8" text-anchor="middle" transform="matrix(1 0 0 1.07 0 -44.23)">Ago</text><text x="1090.9" y="631.8" text-anchor="middle" transform="matrix(1 0 0 1.07 0 -44.23)">Set</text><text x="1209.8" y="631.8" text-anchor="middle" transform="matrix(1 0 0 1.07 0 -44.23)">Ott</text><text x="1328.7" y="631.8" text-anchor="middle" transform="matrix(1 0 0 1.07 0 -44.23)">Nov</text><text x="1447.6" y="631.8" text-anchor="middle" transform="matrix(1 0 0 1.07 0 -44.23)">Dic</text></g><text transform="translate(44.3 341.5) rotate(-90)" text-anchor="middle" fill="#ccc" font-size="20.85">Temperatura °C</text><text transform="translate(1556.3 208.1) rotate(90)" text-anchor="middle" fill="#ccc" font-size="20.85">Giorno / Sole (h)</text><text transform="translate(1556.3 475.1) rotate(90)" text-anchor="middle" fill="#ccc" font-size="20.85">Pioggia / Neve (mm)</text><text x="796.5" y="30.7" text-anchor="middle" fill="#eee" font-size="23.4">Cambiamento climatico in Huế</text><text x="796.6" y="57.6" text-anchor="middle" fill="#ccc" font-size="15.6">Latitudine 16.485 - Longitudine 107.571 - Elevazione 8.0</text><text x="1507.5" y="67.6" text-anchor="end" fill="#ddd" font-size="23.4">2013 - 2023</text><defs><linearGradient id="arcg0" gradientUnits="userSpaceOnUse" x1="1259" y1="0" x2="1288" y2="0"><stop offset="0" stop-color="#ff00ff"/><stop offset="0.45" stop-color="#a040ff"/><stop offset="1" stop-color="#1a90ff"/></linearGradient><linearGradient id="sung0" x1="0" y1="0" x2="1" y2="0"><stop offset="0" stop-color="#ffff00"/><stop offset="0.3" stop-color="#e8e200"/><stop offset="0.62" stop-color="#aaa412"/><stop offset="1" stop-color="#48481e"/></linearGradient><linearGradient id="arcg1" gradientUnits="userSpaceOnUse" x1="96.5" y1="0" x2="125.5" y2="0"><stop offset="0" stop-color="#ff00ff"/><stop offset="0.45" stop-color="#a040ff"/><stop offset="1" stop-color="#1a90ff"/></linearGradient><linearGradient id="sung1" x1="0" y1="0" x2="1" y2="0"><stop offset="0" stop-color="#ffff00"/><stop offset="0.3" stop-color="#e8e200"/><stop offset="0.62" stop-color="#aaa412"/><stop offset="1" stop-color="#48481e"/></linearGradient><linearGradient id="lgT" x1="0" y1="0" x2="0" y2="1"><stop offset="0" stop-color="#5a2a5a"/><stop offset="0.5" stop-color="#ff00ff"/><stop offset="1" stop-color="#5a2a5a"/></linearGradient><linearGradient id="lgS" x1="0" y1="0" x2="0" y2="1"><stop offset="0" stop-color="#4a4a38"/><stop offset="1" stop-color="#ffff30"/></linearGradient><linearGradient id="lgR" x1="0" y1="0" x2="0" y2="1"><stop offset="0" stop-color="#0a8cff"/><stop offset="1" stop-color="#2a4055"/></linearGradient><linearGradient id="lgN" x1="0" y1="0" x2="0" y2="1"><stop offset="0" stop-color="#ffffff"/><stop offset="1" stop-color="#444"/></linearGradient></defs><path d="M1283.99 93.21A13.7 13.7 0 1 0 1283.99 112.59 M1281.80 95.40A10.6 10.6 0 1 0 1281.80 110.40" fill="none" stroke="url(#arcg0)" stroke-width="2.2"/><clipPath id="sunc0"><circle cx="1296" cy="102.9" r="15"/></clipPath><g clip-path="url(#sunc0)"><rect x="1281" y="87.9" width="30" height="30" fill="url(#sung0)"/><path d="M1281.0 90.20h30.0v0.35h-30.0zM1281.0 92.95h30.0v0.46h-30.0zM1281.0 95.70h30.0v0.57h-30.0zM1281.0 98.45h30.0v0.68h-30.0zM1281.0 101.20h30.0v0.79h-30.0zM1281.0 103.95h30.0v0.90h-30.0zM1281.0 106.70h30.0v1.01h-30.0zM1281.0 109.45h30.0v1.12h-30.0zM1281.0 112.20h30.0v1.23h-30.0zM1281.0 114.95h30.0v1.34h-30.0zM1281.0 117.70h30.0v1.45h-30.0z" fill="#333" fill-opacity="0.85"/></g><text x="1313.3" y="113" fill="#1a9af8" font-size="24" letter-spacing="0.2">ClimeChart.com</text><path d="M121.29 571.21A13.7 13.7 0 1 0 121.29 590.59 M119.10 573.40A10.6 10.6 0 1 0 119.10 588.40" fill="none" stroke="url(#arcg1)" stroke-width="2.2"/><clipPath id="sunc1"><circle cx="132.9" cy="580.9" r="15"/></clipPath><g clip-path="url(#sunc1)"><rect x="117.9" y="565.9" width="30" height="30" fill="url(#sung1)"/><path d="M117.9 568.20h30.0v0.35h-30.0zM117.9 570.95h30.0v0.46h-30.0zM117.9 573.70h30.0v0.57h-30.0zM117.9 576.45h30.0v0.68h-30.0zM117.9 579.20h30.0v0.79h-30.0zM117.9 581.95h30.0v0.90h-30.0zM117.9 584.70h30.0v1.01h-30.0zM117.9 587.45h30.0v1.12h-30.0zM117.9 590.20h30.0v1.23h-30.0zM117.9 592.95h30.0v1.34h-30.0zM117.9 595.70h30.0v1.45h-30.0z" fill="#333" fill-opacity="0.85"/></g><text x="150.6" y="589.8" fill="#1a9af8" font-size="24" letter-spacing="0.2">ClimeChart.com</text><g fill="#d0d0d0" font-size="20.85"><text x="85.5" y="683.1" transform="matrix(1 0 0 1.05 0 -34.16)">Temperatura °C</text><text x="109" y="721.7" transform="matrix(1 0 0 1.05 0 -36.09)">Intervallo min / max per giorno</text><text x="109" y="760.4" transform="matrix(1 0 0 1.05 0 -38.02)">Media mensile</text><text x="553.5" y="683.1" transform="matrix(1 0 0 1.05 0 -34.16)">Giorno / Sole (h)</text><text x="576.6" y="721.7" transform="matrix(1 0 0 1.05 0 -36.09)">Luce del giorno per giorno</text><text x="576.6" y="760.4" transform="matrix(1 0 0 1.05 0 -38.02)">Sole per giorno</text><text x="576.6" y="799.1" transform="matrix(1 0 0 1.05 0 -39.96)">Media mensile del sole</text><text x="942.8" y="683.1" transform="matrix(1 0 0 1.05 0 -34.16)">Pioggia (mm)</text><text x="966.8" y="721.7" transform="matrix(1 0 0 1.05 0 -36.09)">Pioggia per giorno</text><text x="966.8" y="760.4" transform="matrix(1 0 0 1.05 0 -38.02)">Media mensile</text><text x="1254.8" y="683.1" transform="matrix(1 0 0 1.05 0 -34.16)">Neve (mm)</text><text x="1278.5" y="721.7" transform="matrix(1 0 0 1.05 0 -36.09)">Neve per giorno</text><text x="1278.5" y="760.4" transform="matrix(1 0 0 1.05 0 -38.02)">Media mensile</text></g><rect x="85" y="699.5" width="16" height="30" fill="url(#lgT)"/><rect x="553" y="738.5" width="16" height="30" fill="url(#lgS)"/><rect x="943" y="699.5" width="16" height="30" fill="url(#lgR)"/><rect x="1255" y="699.5" width="16" height="30" fill="url(#lgN)"/><path d="M85 754.5h16" stroke="#f060f0" stroke-width="2"/><path d="M553 715.7h16" stroke="#1fe01f" stroke-width="2"/><path d="M553 793.6h16" stroke="#f0f032" stroke-width="2"/><path d="M943 754.7h16" stroke="#1e8cf0" stroke-width="2"/><path d="M1255 754.7h16" stroke="#e8e8e8" stroke-width="2"/><text x="1569.5" y="801.8" text-anchor="end" fill="#d0d0d0" font-size="15.5">© ClimeChart.com</text></svg></body></html>
